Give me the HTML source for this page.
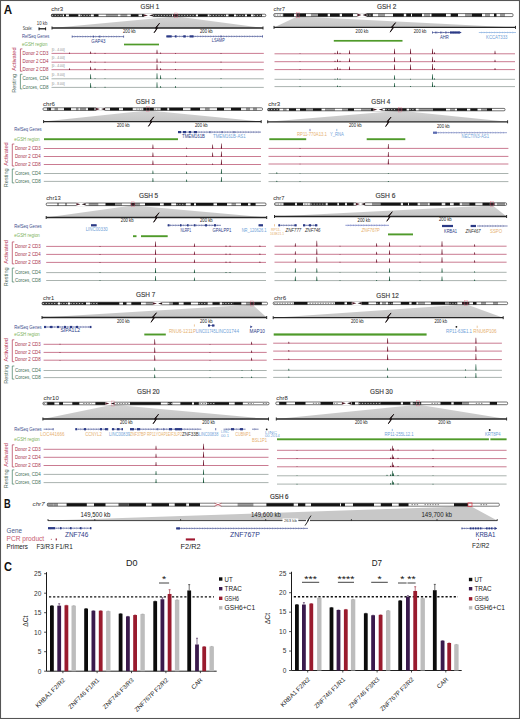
<!DOCTYPE html>
<html><head><meta charset="utf-8"><style>
html,body{margin:0;padding:0;background:#fff;}
svg{display:block;}
</style></head><body>
<svg width="520" height="719" viewBox="0 0 520 719" font-family='"Liberation Sans", sans-serif'>
<rect x="0.00" y="0.00" width="520.00" height="719.00" fill="#fff"/>
<text x="140.60" y="9.10" font-size="7.4" fill="#3a3a3a" textLength="18.70" lengthAdjust="spacingAndGlyphs" stroke="#3a3a3a" stroke-width="0.16">GSH 1</text>
<text x="51.20" y="11.20" font-size="5.6" fill="#2a2a2a" textLength="11.90" lengthAdjust="spacingAndGlyphs">chr3</text>
<linearGradient id="tg1" gradientUnits="userSpaceOnUse" x1="0" y1="16.60" x2="0" y2="28.00"><stop offset="0" stop-color="#d4d4d4"/><stop offset="1" stop-color="#c4c4c4"/></linearGradient>
<polygon points="52.00,28.00 175.20,16.60 176.80,16.60 263.00,28.00" fill="url(#tg1)"/>
<rect x="51.40" y="14.20" width="214.40" height="2.40" fill="#fff" rx="1"/>
<rect x="51.40" y="14.20" width="11.40" height="2.40" fill="#2e2e2e"/>
<line x1="51.90" y1="15.40" x2="62.30" y2="15.40" stroke="#e8e8e8" stroke-width="0.8" stroke-dasharray="1.2,1.6"/>
<rect x="64.00" y="14.20" width="2.00" height="2.40" fill="#151515"/>
<rect x="68.90" y="14.20" width="9.40" height="2.40" fill="#151515"/>
<rect x="80.30" y="14.20" width="10.70" height="2.40" fill="#2e2e2e"/>
<line x1="80.80" y1="15.40" x2="90.50" y2="15.40" stroke="#e8e8e8" stroke-width="0.8" stroke-dasharray="1.2,1.6"/>
<rect x="93.80" y="14.20" width="4.70" height="2.40" fill="#151515"/>
<rect x="105.90" y="14.20" width="12.10" height="2.40" fill="#9a9a9a"/>
<rect x="120.40" y="14.20" width="6.90" height="2.40" fill="#9a9a9a"/>
<rect x="130.80" y="14.20" width="7.70" height="2.40" fill="#151515"/>
<rect x="142.00" y="14.20" width="2.60" height="2.40" fill="#151515"/>
<rect x="152.00" y="14.20" width="20.00" height="2.40" fill="#2e2e2e"/>
<line x1="152.50" y1="15.40" x2="171.50" y2="15.40" stroke="#e8e8e8" stroke-width="0.8" stroke-dasharray="1.2,1.6"/>
<rect x="173.00" y="14.20" width="5.00" height="2.40" fill="#3a2028"/>
<rect x="178.00" y="14.20" width="18.00" height="2.40" fill="#2e2e2e"/>
<line x1="178.50" y1="15.40" x2="195.50" y2="15.40" stroke="#e8e8e8" stroke-width="0.8" stroke-dasharray="1.2,1.6"/>
<rect x="198.00" y="14.20" width="9.70" height="2.40" fill="#151515"/>
<rect x="209.50" y="14.20" width="16.50" height="2.40" fill="#2e2e2e"/>
<line x1="210.00" y1="15.40" x2="225.50" y2="15.40" stroke="#e8e8e8" stroke-width="0.8" stroke-dasharray="1.2,1.6"/>
<rect x="228.50" y="14.20" width="5.50" height="2.40" fill="#151515"/>
<rect x="236.00" y="14.20" width="9.00" height="2.40" fill="#2e2e2e"/>
<line x1="236.50" y1="15.40" x2="244.50" y2="15.40" stroke="#e8e8e8" stroke-width="0.8" stroke-dasharray="1.2,1.6"/>
<rect x="247.00" y="14.20" width="4.00" height="2.40" fill="#151515"/>
<rect x="253.50" y="14.20" width="8.50" height="2.40" fill="#2e2e2e"/>
<line x1="254.00" y1="15.40" x2="261.50" y2="15.40" stroke="#e8e8e8" stroke-width="0.8" stroke-dasharray="1.2,1.6"/>
<rect x="51.40" y="14.20" width="214.40" height="2.40" fill="none" stroke="#111" stroke-width="0.6" rx="1"/>
<rect x="143.90" y="13.80" width="9.20" height="3.20" fill="#fff"/>
<polygon points="143.90,14.20 147.90,15.40 143.90,16.60" fill="#52202c"/>
<polygon points="153.10,14.20 149.10,15.40 153.10,16.60" fill="#2a1a1e"/>
<rect x="174.40" y="13.00" width="3.2" height="4.80" fill="none" stroke="#e8607a" stroke-width="0.4" opacity="0.7"/>
<line x1="52.00" y1="28.00" x2="263.00" y2="28.00" stroke="#262626" stroke-width="1.3"/>
<line x1="52.00" y1="26.50" x2="52.00" y2="29.50" stroke="#2a2a2a" stroke-width="1.0"/>
<line x1="263.00" y1="26.50" x2="263.00" y2="29.50" stroke="#2a2a2a" stroke-width="1.0"/>
<polygon points="159.56,23.24 155.74,28.43 157.35,28.43 154.12,32.76 157.26,27.57 155.65,27.57" fill="#1a1012" stroke="#1a1012" stroke-width="0.85" stroke-linejoin="round"/>
<text x="123.00" y="33.33" font-size="4.8" fill="#1a1a1a" textLength="12.70" lengthAdjust="spacingAndGlyphs">200 kb</text>
<text x="200.00" y="33.13" font-size="4.8" fill="#1a1a1a" textLength="12.70" lengthAdjust="spacingAndGlyphs">200 kb</text>
<line x1="72.20" y1="36.60" x2="123.60" y2="36.60" stroke="#2b3a86" stroke-width="0.6"/>
<polyline points="74.60,35.80 75.50,36.60 74.60,37.40" fill="none" stroke="#2b3a86" stroke-width="0.35" opacity="0.85"/>
<polyline points="77.20,35.80 78.10,36.60 77.20,37.40" fill="none" stroke="#2b3a86" stroke-width="0.35" opacity="0.85"/>
<polyline points="79.80,35.80 80.70,36.60 79.80,37.40" fill="none" stroke="#2b3a86" stroke-width="0.35" opacity="0.85"/>
<polyline points="82.40,35.80 83.30,36.60 82.40,37.40" fill="none" stroke="#2b3a86" stroke-width="0.35" opacity="0.85"/>
<polyline points="85.00,35.80 85.90,36.60 85.00,37.40" fill="none" stroke="#2b3a86" stroke-width="0.35" opacity="0.85"/>
<polyline points="87.60,35.80 88.50,36.60 87.60,37.40" fill="none" stroke="#2b3a86" stroke-width="0.35" opacity="0.85"/>
<polyline points="90.20,35.80 91.10,36.60 90.20,37.40" fill="none" stroke="#2b3a86" stroke-width="0.35" opacity="0.85"/>
<polyline points="92.80,35.80 93.70,36.60 92.80,37.40" fill="none" stroke="#2b3a86" stroke-width="0.35" opacity="0.85"/>
<polyline points="95.40,35.80 96.30,36.60 95.40,37.40" fill="none" stroke="#2b3a86" stroke-width="0.35" opacity="0.85"/>
<polyline points="98.00,35.80 98.90,36.60 98.00,37.40" fill="none" stroke="#2b3a86" stroke-width="0.35" opacity="0.85"/>
<polyline points="100.60,35.80 101.50,36.60 100.60,37.40" fill="none" stroke="#2b3a86" stroke-width="0.35" opacity="0.85"/>
<polyline points="103.20,35.80 104.10,36.60 103.20,37.40" fill="none" stroke="#2b3a86" stroke-width="0.35" opacity="0.85"/>
<polyline points="105.80,35.80 106.70,36.60 105.80,37.40" fill="none" stroke="#2b3a86" stroke-width="0.35" opacity="0.85"/>
<polyline points="108.40,35.80 109.30,36.60 108.40,37.40" fill="none" stroke="#2b3a86" stroke-width="0.35" opacity="0.85"/>
<polyline points="111.00,35.80 111.90,36.60 111.00,37.40" fill="none" stroke="#2b3a86" stroke-width="0.35" opacity="0.85"/>
<polyline points="113.60,35.80 114.50,36.60 113.60,37.40" fill="none" stroke="#2b3a86" stroke-width="0.35" opacity="0.85"/>
<polyline points="116.20,35.80 117.10,36.60 116.20,37.40" fill="none" stroke="#2b3a86" stroke-width="0.35" opacity="0.85"/>
<polyline points="118.80,35.80 119.70,36.60 118.80,37.40" fill="none" stroke="#2b3a86" stroke-width="0.35" opacity="0.85"/>
<line x1="72.20" y1="35.50" x2="72.20" y2="37.70" stroke="#2b3a86" stroke-width="0.7"/>
<line x1="93.40" y1="35.50" x2="93.40" y2="37.70" stroke="#2b3a86" stroke-width="0.7"/>
<line x1="99.70" y1="35.50" x2="99.70" y2="37.70" stroke="#2b3a86" stroke-width="0.7"/>
<line x1="123.60" y1="35.50" x2="123.60" y2="37.70" stroke="#2b3a86" stroke-width="0.7"/>
<text x="91.30" y="42.56" font-size="4.6" fill="#2b3a86" textLength="14.10" lengthAdjust="spacingAndGlyphs">GAP43</text>
<line x1="166.40" y1="36.40" x2="262.50" y2="36.40" stroke="#2b3a86" stroke-width="0.6"/>
<polyline points="168.80,35.60 169.70,36.40 168.80,37.20" fill="none" stroke="#2b3a86" stroke-width="0.35" opacity="0.85"/>
<polyline points="171.40,35.60 172.30,36.40 171.40,37.20" fill="none" stroke="#2b3a86" stroke-width="0.35" opacity="0.85"/>
<polyline points="174.00,35.60 174.90,36.40 174.00,37.20" fill="none" stroke="#2b3a86" stroke-width="0.35" opacity="0.85"/>
<polyline points="176.60,35.60 177.50,36.40 176.60,37.20" fill="none" stroke="#2b3a86" stroke-width="0.35" opacity="0.85"/>
<polyline points="179.20,35.60 180.10,36.40 179.20,37.20" fill="none" stroke="#2b3a86" stroke-width="0.35" opacity="0.85"/>
<polyline points="181.80,35.60 182.70,36.40 181.80,37.20" fill="none" stroke="#2b3a86" stroke-width="0.35" opacity="0.85"/>
<polyline points="184.40,35.60 185.30,36.40 184.40,37.20" fill="none" stroke="#2b3a86" stroke-width="0.35" opacity="0.85"/>
<polyline points="187.00,35.60 187.90,36.40 187.00,37.20" fill="none" stroke="#2b3a86" stroke-width="0.35" opacity="0.85"/>
<polyline points="189.60,35.60 190.50,36.40 189.60,37.20" fill="none" stroke="#2b3a86" stroke-width="0.35" opacity="0.85"/>
<polyline points="192.20,35.60 193.10,36.40 192.20,37.20" fill="none" stroke="#2b3a86" stroke-width="0.35" opacity="0.85"/>
<polyline points="194.80,35.60 195.70,36.40 194.80,37.20" fill="none" stroke="#2b3a86" stroke-width="0.35" opacity="0.85"/>
<polyline points="197.40,35.60 198.30,36.40 197.40,37.20" fill="none" stroke="#2b3a86" stroke-width="0.35" opacity="0.85"/>
<polyline points="200.00,35.60 200.90,36.40 200.00,37.20" fill="none" stroke="#2b3a86" stroke-width="0.35" opacity="0.85"/>
<polyline points="202.60,35.60 203.50,36.40 202.60,37.20" fill="none" stroke="#2b3a86" stroke-width="0.35" opacity="0.85"/>
<polyline points="205.20,35.60 206.10,36.40 205.20,37.20" fill="none" stroke="#2b3a86" stroke-width="0.35" opacity="0.85"/>
<polyline points="207.80,35.60 208.70,36.40 207.80,37.20" fill="none" stroke="#2b3a86" stroke-width="0.35" opacity="0.85"/>
<polyline points="210.40,35.60 211.30,36.40 210.40,37.20" fill="none" stroke="#2b3a86" stroke-width="0.35" opacity="0.85"/>
<polyline points="213.00,35.60 213.90,36.40 213.00,37.20" fill="none" stroke="#2b3a86" stroke-width="0.35" opacity="0.85"/>
<polyline points="215.60,35.60 216.50,36.40 215.60,37.20" fill="none" stroke="#2b3a86" stroke-width="0.35" opacity="0.85"/>
<polyline points="218.20,35.60 219.10,36.40 218.20,37.20" fill="none" stroke="#2b3a86" stroke-width="0.35" opacity="0.85"/>
<polyline points="220.80,35.60 221.70,36.40 220.80,37.20" fill="none" stroke="#2b3a86" stroke-width="0.35" opacity="0.85"/>
<polyline points="223.40,35.60 224.30,36.40 223.40,37.20" fill="none" stroke="#2b3a86" stroke-width="0.35" opacity="0.85"/>
<polyline points="226.00,35.60 226.90,36.40 226.00,37.20" fill="none" stroke="#2b3a86" stroke-width="0.35" opacity="0.85"/>
<polyline points="228.60,35.60 229.50,36.40 228.60,37.20" fill="none" stroke="#2b3a86" stroke-width="0.35" opacity="0.85"/>
<polyline points="231.20,35.60 232.10,36.40 231.20,37.20" fill="none" stroke="#2b3a86" stroke-width="0.35" opacity="0.85"/>
<polyline points="233.80,35.60 234.70,36.40 233.80,37.20" fill="none" stroke="#2b3a86" stroke-width="0.35" opacity="0.85"/>
<polyline points="236.40,35.60 237.30,36.40 236.40,37.20" fill="none" stroke="#2b3a86" stroke-width="0.35" opacity="0.85"/>
<polyline points="239.00,35.60 239.90,36.40 239.00,37.20" fill="none" stroke="#2b3a86" stroke-width="0.35" opacity="0.85"/>
<polyline points="241.60,35.60 242.50,36.40 241.60,37.20" fill="none" stroke="#2b3a86" stroke-width="0.35" opacity="0.85"/>
<polyline points="244.20,35.60 245.10,36.40 244.20,37.20" fill="none" stroke="#2b3a86" stroke-width="0.35" opacity="0.85"/>
<polyline points="246.80,35.60 247.70,36.40 246.80,37.20" fill="none" stroke="#2b3a86" stroke-width="0.35" opacity="0.85"/>
<polyline points="249.40,35.60 250.30,36.40 249.40,37.20" fill="none" stroke="#2b3a86" stroke-width="0.35" opacity="0.85"/>
<polyline points="252.00,35.60 252.90,36.40 252.00,37.20" fill="none" stroke="#2b3a86" stroke-width="0.35" opacity="0.85"/>
<polyline points="254.60,35.60 255.50,36.40 254.60,37.20" fill="none" stroke="#2b3a86" stroke-width="0.35" opacity="0.85"/>
<polyline points="257.20,35.60 258.10,36.40 257.20,37.20" fill="none" stroke="#2b3a86" stroke-width="0.35" opacity="0.85"/>
<polyline points="259.80,35.60 260.70,36.40 259.80,37.20" fill="none" stroke="#2b3a86" stroke-width="0.35" opacity="0.85"/>
<rect x="166.40" y="35.30" width="5.20" height="2.20" fill="#2b3a86"/>
<rect x="175.00" y="35.30" width="1.50" height="2.20" fill="#2b3a86"/>
<rect x="183.20" y="35.30" width="2.60" height="2.20" fill="#2b3a86"/>
<rect x="189.70" y="35.30" width="3.90" height="2.20" fill="#2b3a86"/>
<line x1="221.00" y1="35.30" x2="221.00" y2="37.50" stroke="#2b3a86" stroke-width="0.7"/>
<line x1="262.50" y1="35.30" x2="262.50" y2="37.50" stroke="#2b3a86" stroke-width="0.7"/>
<text x="211.80" y="42.16" font-size="4.6" fill="#2b3a86" textLength="13.00" lengthAdjust="spacingAndGlyphs">LSAMP</text>
<text x="36.80" y="24.74" font-size="5.4" fill="#333" textLength="10.50" lengthAdjust="spacingAndGlyphs">10 kb</text>
<rect x="38.80" y="28.20" width="7.00" height="1.20" fill="#111"/>
<rect x="38.60" y="27.30" width="0.90" height="3.00" fill="#111"/>
<rect x="45.20" y="27.30" width="0.90" height="3.00" fill="#111"/>
<rect x="124.00" y="43.65" width="35.00" height="1.70" fill="#4f9a2a"/>
<line x1="51.50" y1="53.40" x2="263.80" y2="53.40" stroke="#c46c84" stroke-width="0.9"/>
<line x1="51.50" y1="62.20" x2="263.80" y2="62.20" stroke="#c46c84" stroke-width="0.9"/>
<line x1="51.50" y1="69.70" x2="263.80" y2="69.70" stroke="#c46c84" stroke-width="0.9"/>
<line x1="51.50" y1="78.80" x2="263.80" y2="78.80" stroke="#a0aaa6" stroke-width="0.9"/>
<line x1="51.50" y1="87.40" x2="263.80" y2="87.40" stroke="#a0aaa6" stroke-width="0.9"/>
<polygon points="68.95,53.70 69.25,52.40 69.75,52.40 70.15,53.70" fill="#6e1a30"/>
<polygon points="68.95,70.00 69.25,68.20 69.75,68.20 70.15,70.00" fill="#6e1a30"/>
<polygon points="90.05,53.70 90.35,51.40 90.85,51.40 91.25,53.70" fill="#6e1a30"/>
<polygon points="90.05,62.50 90.35,60.70 90.85,60.70 91.25,62.50" fill="#6e1a30"/>
<polygon points="90.05,70.00 90.35,66.70 90.85,66.70 91.25,70.00" fill="#6e1a30"/>
<polygon points="90.05,79.10 90.35,74.30 90.85,74.30 91.25,79.10" fill="#1d5a3e"/>
<polygon points="90.05,87.70 90.35,82.90 90.85,82.90 91.25,87.70" fill="#1d5a3e"/>
<polygon points="94.45,53.70 94.75,52.80 95.25,52.80 95.65,53.70" fill="#6e1a30"/>
<polygon points="94.45,62.50 94.75,61.70 95.25,61.70 95.65,62.50" fill="#6e1a30"/>
<polygon points="94.45,70.00 94.75,68.20 95.25,68.20 95.65,70.00" fill="#6e1a30"/>
<polygon points="94.45,79.10 94.75,78.30 95.25,78.30 95.65,79.10" fill="#1d5a3e"/>
<polygon points="94.45,87.70 94.75,86.90 95.25,86.90 95.65,87.70" fill="#1d5a3e"/>
<polygon points="104.45,53.70 104.75,53.00 105.25,53.00 105.65,53.70" fill="#6e1a30"/>
<polygon points="104.45,62.50 104.75,61.80 105.25,61.80 105.65,62.50" fill="#6e1a30"/>
<polygon points="104.45,70.00 104.75,69.30 105.25,69.30 105.65,70.00" fill="#6e1a30"/>
<polygon points="104.45,79.10 104.75,78.40 105.25,78.40 105.65,79.10" fill="#1d5a3e"/>
<polygon points="104.45,87.70 104.75,86.80 105.25,86.80 105.65,87.70" fill="#1d5a3e"/>
<polygon points="156.45,53.70 156.75,49.70 157.25,49.70 157.65,53.70" fill="#6e1a30"/>
<polygon points="156.45,62.50 156.75,58.40 157.25,58.40 157.65,62.50" fill="#6e1a30"/>
<polygon points="156.45,70.00 156.75,64.30 157.25,64.30 157.65,70.00" fill="#6e1a30"/>
<polygon points="156.45,79.10 156.75,73.30 157.25,73.30 157.65,79.10" fill="#1d5a3e"/>
<polygon points="156.45,87.70 156.75,82.20 157.25,82.20 157.65,87.70" fill="#1d5a3e"/>
<polygon points="160.05,53.70 160.35,52.40 160.85,52.40 161.25,53.70" fill="#6e1a30"/>
<polygon points="160.05,62.50 160.35,61.40 160.85,61.40 161.25,62.50" fill="#6e1a30"/>
<polygon points="160.05,70.00 160.35,68.20 160.85,68.20 161.25,70.00" fill="#6e1a30"/>
<polygon points="160.05,79.10 160.35,75.30 160.85,75.30 161.25,79.10" fill="#1d5a3e"/>
<polygon points="160.05,87.70 160.35,85.90 160.85,85.90 161.25,87.70" fill="#1d5a3e"/>
<polygon points="174.95,53.70 175.25,52.90 175.75,52.90 176.15,53.70" fill="#6e1a30"/>
<polygon points="174.95,62.50 175.25,61.70 175.75,61.70 176.15,62.50" fill="#6e1a30"/>
<polygon points="174.95,70.00 175.25,69.10 175.75,69.10 176.15,70.00" fill="#6e1a30"/>
<polygon points="174.95,79.10 175.25,77.80 175.75,77.80 176.15,79.10" fill="#1d5a3e"/>
<polygon points="174.95,87.70 175.25,85.90 175.75,85.90 176.15,87.70" fill="#1d5a3e"/>
<polygon points="220.45,53.70 220.75,53.00 221.25,53.00 221.65,53.70" fill="#6e1a30"/>
<polygon points="220.45,62.50 220.75,61.60 221.25,61.60 221.65,62.50" fill="#6e1a30"/>
<polygon points="220.45,70.00 220.75,69.30 221.25,69.30 221.65,70.00" fill="#6e1a30"/>
<polygon points="220.45,79.10 220.75,78.30 221.25,78.30 221.65,79.10" fill="#1d5a3e"/>
<polygon points="220.45,87.70 220.75,86.90 221.25,86.90 221.65,87.70" fill="#1d5a3e"/>
<text x="22.70" y="30.20" font-size="5" fill="#333" textLength="9.60" lengthAdjust="spacingAndGlyphs">Scale:</text>
<text x="22.00" y="38.00" font-size="5" fill="#3b4a8c" textLength="27.30" lengthAdjust="spacingAndGlyphs">RefSeq Genes</text>
<text x="22.00" y="46.10" font-size="5" fill="#7cb25a" textLength="25.50" lengthAdjust="spacingAndGlyphs">eGSH region</text>
<text x="22.60" y="54.60" font-size="5" fill="#a8304c" textLength="25.90" lengthAdjust="spacingAndGlyphs">Donor 2 CD3</text>
<text x="22.60" y="63.40" font-size="5" fill="#a8304c" textLength="25.90" lengthAdjust="spacingAndGlyphs">Donor 2 CD4</text>
<text x="22.60" y="70.90" font-size="5" fill="#a8304c" textLength="25.90" lengthAdjust="spacingAndGlyphs">Donor 2 CD8</text>
<text x="22.60" y="80.00" font-size="5" fill="#3f6f58" textLength="25.90" lengthAdjust="spacingAndGlyphs">Corces, CD4</text>
<text x="22.60" y="88.60" font-size="5" fill="#3f6f58" textLength="25.90" lengthAdjust="spacingAndGlyphs">Corces, CD8</text>
<polyline points="22.40,48.90 20.40,48.90 20.40,71.20 22.40,71.20" fill="none" stroke="#b03552" stroke-width="0.7"/>
<polyline points="22.40,74.30 20.40,74.30 20.40,88.90 22.40,88.90" fill="none" stroke="#3f7a5e" stroke-width="0.7"/>
<text transform="translate(15.80,59.05) rotate(-90)" text-anchor="middle" font-size="6.2" fill="#b8405c" textLength="23.5" lengthAdjust="spacingAndGlyphs">Activated</text>
<text transform="translate(15.80,83.40) rotate(-90)" text-anchor="middle" font-size="6.2" fill="#4a6a5a" textLength="18.8" lengthAdjust="spacingAndGlyphs">Resting</text>
<text x="51.70" y="50.68" font-size="3.0" fill="#8a8a8a" textLength="13.00" lengthAdjust="spacingAndGlyphs">[0 - 4.00]</text>
<text x="51.70" y="59.48" font-size="3.0" fill="#8a8a8a" textLength="13.00" lengthAdjust="spacingAndGlyphs">[0 - 4.00]</text>
<text x="51.70" y="66.98" font-size="3.0" fill="#8a8a8a" textLength="13.00" lengthAdjust="spacingAndGlyphs">[0 - 4.00]</text>
<text x="51.70" y="76.08" font-size="3.0" fill="#8a8a8a" textLength="13.00" lengthAdjust="spacingAndGlyphs">[0 - 8.00]</text>
<text x="51.70" y="84.68" font-size="3.0" fill="#8a8a8a" textLength="13.00" lengthAdjust="spacingAndGlyphs">[0 - 8.00]</text>
<text x="377.10" y="9.10" font-size="7.4" fill="#3a3a3a" textLength="19.20" lengthAdjust="spacingAndGlyphs" stroke="#3a3a3a" stroke-width="0.16">GSH 2</text>
<text x="273.50" y="10.80" font-size="5.6" fill="#2a2a2a" textLength="11.50" lengthAdjust="spacingAndGlyphs">chr7</text>
<linearGradient id="tg2" gradientUnits="userSpaceOnUse" x1="0" y1="16.60" x2="0" y2="27.40"><stop offset="0" stop-color="#d4d4d4"/><stop offset="1" stop-color="#c4c4c4"/></linearGradient>
<polygon points="274.00,27.40 297.20,16.60 298.80,16.60 515.50,27.40" fill="url(#tg2)"/>
<rect x="273.80" y="13.60" width="239.20" height="3.00" fill="#fff" rx="1"/>
<rect x="273.80" y="13.60" width="9.40" height="3.00" fill="#ffffff"/>
<line x1="274.30" y1="15.10" x2="282.70" y2="15.10" stroke="#777" stroke-width="0.9" stroke-dasharray="1.4,1.2"/>
<rect x="283.20" y="13.60" width="10.80" height="3.00" fill="#151515"/>
<rect x="296.40" y="13.60" width="2.40" height="3.00" fill="#3a2028"/>
<rect x="298.80" y="13.60" width="7.20" height="3.00" fill="#151515"/>
<rect x="310.90" y="13.60" width="7.10" height="3.00" fill="#9a9a9a"/>
<rect x="318.00" y="13.60" width="9.70" height="3.00" fill="#151515"/>
<rect x="330.00" y="13.60" width="9.70" height="3.00" fill="#151515"/>
<rect x="342.00" y="13.60" width="11.00" height="3.00" fill="#151515"/>
<rect x="366.00" y="13.60" width="7.00" height="3.00" fill="#2e2e2e"/>
<line x1="366.50" y1="15.10" x2="372.50" y2="15.10" stroke="#e8e8e8" stroke-width="0.8" stroke-dasharray="1.2,1.6"/>
<rect x="378.00" y="13.60" width="7.00" height="3.00" fill="#9a9a9a"/>
<rect x="393.00" y="13.60" width="10.80" height="3.00" fill="#151515"/>
<rect x="406.20" y="13.60" width="4.80" height="3.00" fill="#151515"/>
<rect x="412.00" y="13.60" width="10.00" height="3.00" fill="#151515"/>
<rect x="424.00" y="13.60" width="6.00" height="3.00" fill="#9a9a9a"/>
<rect x="431.50" y="13.60" width="14.50" height="3.00" fill="#151515"/>
<rect x="450.70" y="13.60" width="7.30" height="3.00" fill="#151515"/>
<rect x="465.00" y="13.60" width="7.00" height="3.00" fill="#9a9a9a"/>
<rect x="472.00" y="13.60" width="10.00" height="3.00" fill="#151515"/>
<rect x="485.00" y="13.60" width="5.00" height="3.00" fill="#9a9a9a"/>
<rect x="494.00" y="13.60" width="2.50" height="3.00" fill="#151515"/>
<rect x="500.00" y="13.60" width="5.00" height="3.00" fill="#9a9a9a"/>
<rect x="273.80" y="13.60" width="239.20" height="3.00" fill="none" stroke="#111" stroke-width="0.6" rx="1"/>
<rect x="357.40" y="13.20" width="9.20" height="3.80" fill="#fff"/>
<polygon points="357.40,13.60 361.40,15.10 357.40,16.60" fill="#52202c"/>
<polygon points="366.60,13.60 362.60,15.10 366.60,16.60" fill="#2a1a1e"/>
<rect x="296.40" y="12.40" width="3.2" height="5.40" fill="none" stroke="#e8607a" stroke-width="0.4" opacity="0.7"/>
<line x1="274.00" y1="27.40" x2="515.50" y2="27.40" stroke="#262626" stroke-width="1.3"/>
<line x1="274.00" y1="25.90" x2="274.00" y2="28.90" stroke="#2a2a2a" stroke-width="1.0"/>
<line x1="515.50" y1="25.90" x2="515.50" y2="28.90" stroke="#2a2a2a" stroke-width="1.0"/>
<polygon points="395.56,22.64 391.74,27.82 393.35,27.82 390.12,32.16 393.26,26.97 391.65,26.97" fill="#1a1012" stroke="#1a1012" stroke-width="0.85" stroke-linejoin="round"/>
<text x="355.60" y="32.73" font-size="4.8" fill="#1a1a1a" textLength="12.70" lengthAdjust="spacingAndGlyphs">200 kb</text>
<text x="413.70" y="32.93" font-size="4.8" fill="#1a1a1a" textLength="12.70" lengthAdjust="spacingAndGlyphs">200 kb</text>
<line x1="432.50" y1="32.50" x2="461.30" y2="32.50" stroke="#2b3a86" stroke-width="0.6"/>
<polyline points="434.90,31.70 435.80,32.50 434.90,33.30" fill="none" stroke="#2b3a86" stroke-width="0.35" opacity="0.85"/>
<polyline points="437.50,31.70 438.40,32.50 437.50,33.30" fill="none" stroke="#2b3a86" stroke-width="0.35" opacity="0.85"/>
<polyline points="440.10,31.70 441.00,32.50 440.10,33.30" fill="none" stroke="#2b3a86" stroke-width="0.35" opacity="0.85"/>
<polyline points="442.70,31.70 443.60,32.50 442.70,33.30" fill="none" stroke="#2b3a86" stroke-width="0.35" opacity="0.85"/>
<polyline points="445.30,31.70 446.20,32.50 445.30,33.30" fill="none" stroke="#2b3a86" stroke-width="0.35" opacity="0.85"/>
<polyline points="447.90,31.70 448.80,32.50 447.90,33.30" fill="none" stroke="#2b3a86" stroke-width="0.35" opacity="0.85"/>
<polyline points="450.50,31.70 451.40,32.50 450.50,33.30" fill="none" stroke="#2b3a86" stroke-width="0.35" opacity="0.85"/>
<polyline points="453.10,31.70 454.00,32.50 453.10,33.30" fill="none" stroke="#2b3a86" stroke-width="0.35" opacity="0.85"/>
<polyline points="455.70,31.70 456.60,32.50 455.70,33.30" fill="none" stroke="#2b3a86" stroke-width="0.35" opacity="0.85"/>
<polyline points="458.30,31.70 459.20,32.50 458.30,33.30" fill="none" stroke="#2b3a86" stroke-width="0.35" opacity="0.85"/>
<rect x="450.00" y="31.40" width="9.00" height="2.20" fill="#2b3a86"/>
<line x1="432.50" y1="31.40" x2="432.50" y2="33.60" stroke="#2b3a86" stroke-width="0.7"/>
<line x1="436.00" y1="31.40" x2="436.00" y2="33.60" stroke="#2b3a86" stroke-width="0.7"/>
<line x1="441.00" y1="31.40" x2="441.00" y2="33.60" stroke="#2b3a86" stroke-width="0.7"/>
<line x1="446.00" y1="31.40" x2="446.00" y2="33.60" stroke="#2b3a86" stroke-width="0.7"/>
<polygon points="459.10,31.10 461.30,32.50 459.10,33.90" fill="#2b3a86"/>
<text x="440.00" y="38.66" font-size="4.6" fill="#2b3a86" textLength="8.80" lengthAdjust="spacingAndGlyphs">AHR</text>
<line x1="478.80" y1="32.50" x2="516.00" y2="32.50" stroke="#6f9fd8" stroke-width="0.6"/>
<polyline points="481.20,31.70 482.10,32.50 481.20,33.30" fill="none" stroke="#6f9fd8" stroke-width="0.35" opacity="0.85"/>
<polyline points="483.80,31.70 484.70,32.50 483.80,33.30" fill="none" stroke="#6f9fd8" stroke-width="0.35" opacity="0.85"/>
<polyline points="486.40,31.70 487.30,32.50 486.40,33.30" fill="none" stroke="#6f9fd8" stroke-width="0.35" opacity="0.85"/>
<polyline points="489.00,31.70 489.90,32.50 489.00,33.30" fill="none" stroke="#6f9fd8" stroke-width="0.35" opacity="0.85"/>
<polyline points="491.60,31.70 492.50,32.50 491.60,33.30" fill="none" stroke="#6f9fd8" stroke-width="0.35" opacity="0.85"/>
<polyline points="494.20,31.70 495.10,32.50 494.20,33.30" fill="none" stroke="#6f9fd8" stroke-width="0.35" opacity="0.85"/>
<polyline points="496.80,31.70 497.70,32.50 496.80,33.30" fill="none" stroke="#6f9fd8" stroke-width="0.35" opacity="0.85"/>
<polyline points="499.40,31.70 500.30,32.50 499.40,33.30" fill="none" stroke="#6f9fd8" stroke-width="0.35" opacity="0.85"/>
<polyline points="502.00,31.70 502.90,32.50 502.00,33.30" fill="none" stroke="#6f9fd8" stroke-width="0.35" opacity="0.85"/>
<polyline points="504.60,31.70 505.50,32.50 504.60,33.30" fill="none" stroke="#6f9fd8" stroke-width="0.35" opacity="0.85"/>
<polyline points="507.20,31.70 508.10,32.50 507.20,33.30" fill="none" stroke="#6f9fd8" stroke-width="0.35" opacity="0.85"/>
<polyline points="509.80,31.70 510.70,32.50 509.80,33.30" fill="none" stroke="#6f9fd8" stroke-width="0.35" opacity="0.85"/>
<polyline points="512.40,31.70 513.30,32.50 512.40,33.30" fill="none" stroke="#6f9fd8" stroke-width="0.35" opacity="0.85"/>
<text x="486.00" y="39.16" font-size="4.6" fill="#6f9fd8" textLength="21.50" lengthAdjust="spacingAndGlyphs">KCCAT333</text>
<rect x="333.80" y="39.95" width="68.70" height="1.70" fill="#4f9a2a"/>
<line x1="274.50" y1="53.80" x2="515.00" y2="53.80" stroke="#c46c84" stroke-width="0.9"/>
<line x1="274.50" y1="61.70" x2="515.00" y2="61.70" stroke="#c46c84" stroke-width="0.9"/>
<line x1="274.50" y1="69.60" x2="515.00" y2="69.60" stroke="#c46c84" stroke-width="0.9"/>
<line x1="274.50" y1="79.30" x2="515.00" y2="79.30" stroke="#a0aaa6" stroke-width="0.9"/>
<line x1="274.50" y1="86.60" x2="515.00" y2="86.60" stroke="#a0aaa6" stroke-width="0.9"/>
<polygon points="334.45,54.10 334.75,52.80 335.25,52.80 335.65,54.10" fill="#6e1a30"/>
<polygon points="334.45,62.00 334.75,60.70 335.25,60.70 335.65,62.00" fill="#6e1a30"/>
<polygon points="334.45,69.90 334.75,68.60 335.25,68.60 335.65,69.90" fill="#6e1a30"/>
<polygon points="334.45,79.60 334.75,78.80 335.25,78.80 335.65,79.60" fill="#1d5a3e"/>
<polygon points="336.95,54.10 337.25,50.80 337.75,50.80 338.15,54.10" fill="#6e1a30"/>
<polygon points="336.95,62.00 337.25,59.20 337.75,59.20 338.15,62.00" fill="#6e1a30"/>
<polygon points="336.95,69.90 337.25,67.10 337.75,67.10 338.15,69.90" fill="#6e1a30"/>
<polygon points="336.95,79.60 337.25,78.30 337.75,78.30 338.15,79.60" fill="#1d5a3e"/>
<polygon points="336.95,86.90 337.25,85.60 337.75,85.60 338.15,86.90" fill="#1d5a3e"/>
<polygon points="339.45,54.10 339.75,52.80 340.25,52.80 340.65,54.10" fill="#6e1a30"/>
<polygon points="339.45,62.00 339.75,60.70 340.25,60.70 340.65,62.00" fill="#6e1a30"/>
<polygon points="339.45,69.90 339.75,68.60 340.25,68.60 340.65,69.90" fill="#6e1a30"/>
<polygon points="339.45,79.60 339.75,78.80 340.25,78.80 340.65,79.60" fill="#1d5a3e"/>
<polygon points="339.45,86.90 339.75,86.10 340.25,86.10 340.65,86.90" fill="#1d5a3e"/>
<polygon points="348.95,54.10 349.25,50.30 349.75,50.30 350.15,54.10" fill="#6e1a30"/>
<polygon points="348.95,62.00 349.25,58.20 349.75,58.20 350.15,62.00" fill="#6e1a30"/>
<polygon points="348.95,69.90 349.25,66.60 349.75,66.60 350.15,69.90" fill="#6e1a30"/>
<polygon points="393.95,54.10 394.25,48.80 394.75,48.80 395.15,54.10" fill="#6e1a30"/>
<polygon points="393.95,62.00 394.25,57.20 394.75,57.20 395.15,62.00" fill="#6e1a30"/>
<polygon points="393.95,69.90 394.25,64.60 394.75,64.60 395.15,69.90" fill="#6e1a30"/>
<polygon points="393.95,79.60 394.25,75.30 394.75,75.30 395.15,79.60" fill="#1d5a3e"/>
<polygon points="393.95,86.90 394.25,83.10 394.75,83.10 395.15,86.90" fill="#1d5a3e"/>
<polygon points="409.95,54.10 410.25,48.80 410.75,48.80 411.15,54.10" fill="#6e1a30"/>
<polygon points="409.95,62.00 410.25,57.20 410.75,57.20 411.15,62.00" fill="#6e1a30"/>
<polygon points="409.95,69.90 410.25,64.60 410.75,64.60 411.15,69.90" fill="#6e1a30"/>
<polygon points="409.95,79.60 410.25,78.80 410.75,78.80 411.15,79.60" fill="#1d5a3e"/>
<polygon points="409.95,86.90 410.25,86.10 410.75,86.10 411.15,86.90" fill="#1d5a3e"/>
<polygon points="431.95,54.10 432.25,48.80 432.75,48.80 433.15,54.10" fill="#6e1a30"/>
<polygon points="431.95,62.00 432.25,56.70 432.75,56.70 433.15,62.00" fill="#6e1a30"/>
<polygon points="431.95,69.90 432.25,64.10 432.75,64.10 433.15,69.90" fill="#6e1a30"/>
<polygon points="431.95,79.60 432.25,74.30 432.75,74.30 433.15,79.60" fill="#1d5a3e"/>
<polygon points="431.95,86.90 432.25,82.10 432.75,82.10 433.15,86.90" fill="#1d5a3e"/>
<polygon points="433.95,54.10 434.25,52.30 434.75,52.30 435.15,54.10" fill="#6e1a30"/>
<polygon points="433.95,62.00 434.25,60.20 434.75,60.20 435.15,62.00" fill="#6e1a30"/>
<polygon points="433.95,69.90 434.25,68.10 434.75,68.10 435.15,69.90" fill="#6e1a30"/>
<polygon points="433.95,79.60 434.25,78.30 434.75,78.30 435.15,79.60" fill="#1d5a3e"/>
<polygon points="433.95,86.90 434.25,85.60 434.75,85.60 435.15,86.90" fill="#1d5a3e"/>
<polygon points="494.45,54.10 494.75,50.80 495.25,50.80 495.65,54.10" fill="#6e1a30"/>
<polygon points="494.45,62.00 494.75,59.70 495.25,59.70 495.65,62.00" fill="#6e1a30"/>
<polygon points="494.45,69.90 494.75,68.10 495.25,68.10 495.65,69.90" fill="#6e1a30"/>
<polygon points="299.45,54.10 299.75,53.50 300.25,53.50 300.65,54.10" fill="#6e1a30"/>
<polygon points="299.45,62.00 299.75,61.40 300.25,61.40 300.65,62.00" fill="#6e1a30"/>
<polygon points="299.45,69.90 299.75,69.30 300.25,69.30 300.65,69.90" fill="#6e1a30"/>
<polygon points="299.45,79.60 299.75,79.00 300.25,79.00 300.65,79.60" fill="#1d5a3e"/>
<polygon points="299.45,86.90 299.75,86.30 300.25,86.30 300.65,86.90" fill="#1d5a3e"/>
<text x="135.80" y="103.50" font-size="7.4" fill="#3a3a3a" textLength="19.20" lengthAdjust="spacingAndGlyphs" stroke="#3a3a3a" stroke-width="0.16">GSH 3</text>
<text x="43.00" y="105.50" font-size="5.6" fill="#2a2a2a" textLength="11.90" lengthAdjust="spacingAndGlyphs">chr6</text>
<linearGradient id="tg3" gradientUnits="userSpaceOnUse" x1="0" y1="110.40" x2="0" y2="121.60"><stop offset="0" stop-color="#d4d4d4"/><stop offset="1" stop-color="#c4c4c4"/></linearGradient>
<polygon points="43.60,121.60 147.20,110.40 148.80,110.40 261.20,121.60" fill="url(#tg3)"/>
<rect x="43.00" y="107.80" width="219.50" height="2.60" fill="#fff" rx="1"/>
<rect x="47.00" y="107.80" width="4.00" height="2.60" fill="#2e2e2e"/>
<line x1="47.50" y1="109.10" x2="50.50" y2="109.10" stroke="#e8e8e8" stroke-width="0.8" stroke-dasharray="1.2,1.6"/>
<rect x="54.50" y="107.80" width="3.50" height="2.60" fill="#9a9a9a"/>
<rect x="64.00" y="107.80" width="7.00" height="2.60" fill="#151515"/>
<rect x="76.00" y="107.80" width="2.50" height="2.60" fill="#9a9a9a"/>
<rect x="80.00" y="107.80" width="6.00" height="2.60" fill="#9a9a9a"/>
<rect x="88.00" y="107.80" width="6.00" height="2.60" fill="#151515"/>
<rect x="94.00" y="107.80" width="4.00" height="2.60" fill="#9a9a9a"/>
<rect x="110.00" y="107.80" width="9.00" height="2.60" fill="#151515"/>
<rect x="123.00" y="107.80" width="9.70" height="2.60" fill="#151515"/>
<rect x="135.60" y="107.80" width="7.20" height="2.60" fill="#ffffff"/>
<line x1="136.10" y1="109.10" x2="142.30" y2="109.10" stroke="#777" stroke-width="0.9" stroke-dasharray="1.4,1.2"/>
<rect x="143.30" y="107.80" width="10.50" height="2.60" fill="#151515"/>
<rect x="154.00" y="107.80" width="6.60" height="2.60" fill="#ffffff"/>
<line x1="154.50" y1="109.10" x2="160.10" y2="109.10" stroke="#777" stroke-width="0.9" stroke-dasharray="1.4,1.2"/>
<rect x="160.60" y="107.80" width="6.70" height="2.60" fill="#151515"/>
<rect x="169.20" y="107.80" width="13.80" height="2.60" fill="#151515"/>
<rect x="190.50" y="107.80" width="9.50" height="2.60" fill="#151515"/>
<rect x="205.00" y="107.80" width="4.70" height="2.60" fill="#9a9a9a"/>
<rect x="217.00" y="107.80" width="7.00" height="2.60" fill="#151515"/>
<rect x="231.00" y="107.80" width="10.00" height="2.60" fill="#151515"/>
<rect x="246.00" y="107.80" width="4.00" height="2.60" fill="#9a9a9a"/>
<rect x="253.00" y="107.80" width="4.00" height="2.60" fill="#9a9a9a"/>
<rect x="43.00" y="107.80" width="219.50" height="2.60" fill="none" stroke="#111" stroke-width="0.6" rx="1"/>
<rect x="95.90" y="107.40" width="9.20" height="3.40" fill="#fff"/>
<polygon points="95.90,107.80 99.90,109.10 95.90,110.40" fill="#52202c"/>
<polygon points="105.10,107.80 101.10,109.10 105.10,110.40" fill="#2a1a1e"/>
<rect x="146.40" y="106.60" width="3.2" height="5.00" fill="none" stroke="#e8607a" stroke-width="0.4" opacity="0.7"/>
<line x1="43.60" y1="121.60" x2="261.20" y2="121.60" stroke="#262626" stroke-width="1.3"/>
<line x1="43.60" y1="120.10" x2="43.60" y2="123.10" stroke="#2a2a2a" stroke-width="1.0"/>
<line x1="261.20" y1="120.10" x2="261.20" y2="123.10" stroke="#2a2a2a" stroke-width="1.0"/>
<polygon points="153.86,116.84 150.04,122.02 151.65,122.02 148.42,126.36 151.56,121.17 149.95,121.17" fill="#1a1012" stroke="#1a1012" stroke-width="0.85" stroke-linejoin="round"/>
<text x="117.00" y="127.13" font-size="4.8" fill="#1a1a1a" textLength="12.70" lengthAdjust="spacingAndGlyphs">200 kb</text>
<text x="195.00" y="127.13" font-size="4.8" fill="#1a1a1a" textLength="12.70" lengthAdjust="spacingAndGlyphs">200 kb</text>
<line x1="178.00" y1="132.10" x2="261.00" y2="132.10" stroke="#2b3a86" stroke-width="0.6"/>
<polyline points="180.40,131.30 181.30,132.10 180.40,132.90" fill="none" stroke="#2b3a86" stroke-width="0.35" opacity="0.85"/>
<polyline points="183.00,131.30 183.90,132.10 183.00,132.90" fill="none" stroke="#2b3a86" stroke-width="0.35" opacity="0.85"/>
<polyline points="185.60,131.30 186.50,132.10 185.60,132.90" fill="none" stroke="#2b3a86" stroke-width="0.35" opacity="0.85"/>
<polyline points="188.20,131.30 189.10,132.10 188.20,132.90" fill="none" stroke="#2b3a86" stroke-width="0.35" opacity="0.85"/>
<polyline points="190.80,131.30 191.70,132.10 190.80,132.90" fill="none" stroke="#2b3a86" stroke-width="0.35" opacity="0.85"/>
<polyline points="193.40,131.30 194.30,132.10 193.40,132.90" fill="none" stroke="#2b3a86" stroke-width="0.35" opacity="0.85"/>
<polyline points="196.00,131.30 196.90,132.10 196.00,132.90" fill="none" stroke="#2b3a86" stroke-width="0.35" opacity="0.85"/>
<polyline points="198.60,131.30 199.50,132.10 198.60,132.90" fill="none" stroke="#2b3a86" stroke-width="0.35" opacity="0.85"/>
<polyline points="201.20,131.30 202.10,132.10 201.20,132.90" fill="none" stroke="#2b3a86" stroke-width="0.35" opacity="0.85"/>
<polyline points="203.80,131.30 204.70,132.10 203.80,132.90" fill="none" stroke="#2b3a86" stroke-width="0.35" opacity="0.85"/>
<polyline points="206.40,131.30 207.30,132.10 206.40,132.90" fill="none" stroke="#2b3a86" stroke-width="0.35" opacity="0.85"/>
<polyline points="209.00,131.30 209.90,132.10 209.00,132.90" fill="none" stroke="#2b3a86" stroke-width="0.35" opacity="0.85"/>
<polyline points="211.60,131.30 212.50,132.10 211.60,132.90" fill="none" stroke="#2b3a86" stroke-width="0.35" opacity="0.85"/>
<polyline points="214.20,131.30 215.10,132.10 214.20,132.90" fill="none" stroke="#2b3a86" stroke-width="0.35" opacity="0.85"/>
<polyline points="216.80,131.30 217.70,132.10 216.80,132.90" fill="none" stroke="#2b3a86" stroke-width="0.35" opacity="0.85"/>
<polyline points="219.40,131.30 220.30,132.10 219.40,132.90" fill="none" stroke="#2b3a86" stroke-width="0.35" opacity="0.85"/>
<polyline points="222.00,131.30 222.90,132.10 222.00,132.90" fill="none" stroke="#2b3a86" stroke-width="0.35" opacity="0.85"/>
<polyline points="224.60,131.30 225.50,132.10 224.60,132.90" fill="none" stroke="#2b3a86" stroke-width="0.35" opacity="0.85"/>
<polyline points="227.20,131.30 228.10,132.10 227.20,132.90" fill="none" stroke="#2b3a86" stroke-width="0.35" opacity="0.85"/>
<polyline points="229.80,131.30 230.70,132.10 229.80,132.90" fill="none" stroke="#2b3a86" stroke-width="0.35" opacity="0.85"/>
<polyline points="232.40,131.30 233.30,132.10 232.40,132.90" fill="none" stroke="#2b3a86" stroke-width="0.35" opacity="0.85"/>
<polyline points="235.00,131.30 235.90,132.10 235.00,132.90" fill="none" stroke="#2b3a86" stroke-width="0.35" opacity="0.85"/>
<polyline points="237.60,131.30 238.50,132.10 237.60,132.90" fill="none" stroke="#2b3a86" stroke-width="0.35" opacity="0.85"/>
<polyline points="240.20,131.30 241.10,132.10 240.20,132.90" fill="none" stroke="#2b3a86" stroke-width="0.35" opacity="0.85"/>
<polyline points="242.80,131.30 243.70,132.10 242.80,132.90" fill="none" stroke="#2b3a86" stroke-width="0.35" opacity="0.85"/>
<polyline points="245.40,131.30 246.30,132.10 245.40,132.90" fill="none" stroke="#2b3a86" stroke-width="0.35" opacity="0.85"/>
<polyline points="248.00,131.30 248.90,132.10 248.00,132.90" fill="none" stroke="#2b3a86" stroke-width="0.35" opacity="0.85"/>
<polyline points="250.60,131.30 251.50,132.10 250.60,132.90" fill="none" stroke="#2b3a86" stroke-width="0.35" opacity="0.85"/>
<polyline points="253.20,131.30 254.10,132.10 253.20,132.90" fill="none" stroke="#2b3a86" stroke-width="0.35" opacity="0.85"/>
<polyline points="255.80,131.30 256.70,132.10 255.80,132.90" fill="none" stroke="#2b3a86" stroke-width="0.35" opacity="0.85"/>
<polyline points="258.40,131.30 259.30,132.10 258.40,132.90" fill="none" stroke="#2b3a86" stroke-width="0.35" opacity="0.85"/>
<rect x="178.00" y="131.00" width="3.00" height="2.20" fill="#2b3a86"/>
<rect x="183.00" y="131.00" width="3.00" height="2.20" fill="#2b3a86"/>
<rect x="189.00" y="131.00" width="2.00" height="2.20" fill="#2b3a86"/>
<rect x="194.00" y="131.00" width="3.00" height="2.20" fill="#2b3a86"/>
<line x1="210.00" y1="131.00" x2="210.00" y2="133.20" stroke="#2b3a86" stroke-width="0.7"/>
<line x1="222.00" y1="131.00" x2="222.00" y2="133.20" stroke="#2b3a86" stroke-width="0.7"/>
<line x1="234.00" y1="131.00" x2="234.00" y2="133.20" stroke="#2b3a86" stroke-width="0.7"/>
<text x="182.00" y="138.26" font-size="4.6" fill="#2b3a86" textLength="23.00" lengthAdjust="spacingAndGlyphs">TMEM161B</text>
<text x="213.00" y="138.26" font-size="4.6" fill="#6f9fd8" textLength="32.60" lengthAdjust="spacingAndGlyphs">TMEM161B-AS1</text>
<rect x="44.00" y="138.25" width="134.00" height="1.90" fill="#4f9a2a"/>
<line x1="43.80" y1="148.50" x2="261.00" y2="148.50" stroke="#c46c84" stroke-width="0.9"/>
<line x1="43.80" y1="156.50" x2="261.00" y2="156.50" stroke="#c46c84" stroke-width="0.9"/>
<line x1="43.80" y1="164.50" x2="261.00" y2="164.50" stroke="#c46c84" stroke-width="0.9"/>
<line x1="43.80" y1="173.50" x2="261.00" y2="173.50" stroke="#a0aaa6" stroke-width="0.9"/>
<line x1="43.80" y1="181.40" x2="261.00" y2="181.40" stroke="#a0aaa6" stroke-width="0.9"/>
<polygon points="152.35,148.80 152.65,144.50 153.15,144.50 153.55,148.80" fill="#6e1a30"/>
<polygon points="152.35,156.80 152.65,152.50 153.15,152.50 153.55,156.80" fill="#6e1a30"/>
<polygon points="152.35,164.80 152.65,160.50 153.15,160.50 153.55,164.80" fill="#6e1a30"/>
<polygon points="152.35,173.80 152.65,170.50 153.15,170.50 153.55,173.80" fill="#1d5a3e"/>
<polygon points="152.35,181.70 152.65,177.90 153.15,177.90 153.55,181.70" fill="#1d5a3e"/>
<polygon points="186.05,148.80 186.35,147.50 186.85,147.50 187.25,148.80" fill="#6e1a30"/>
<polygon points="186.05,156.80 186.35,155.50 186.85,155.50 187.25,156.80" fill="#6e1a30"/>
<polygon points="186.05,164.80 186.35,163.50 186.85,163.50 187.25,164.80" fill="#6e1a30"/>
<polygon points="186.05,173.80 186.35,171.50 186.85,171.50 187.25,173.80" fill="#1d5a3e"/>
<polygon points="186.05,181.70 186.35,179.40 186.85,179.40 187.25,181.70" fill="#1d5a3e"/>
<polygon points="212.05,148.80 212.35,144.50 212.85,144.50 213.25,148.80" fill="#6e1a30"/>
<polygon points="212.05,156.80 212.35,152.50 212.85,152.50 213.25,156.80" fill="#6e1a30"/>
<polygon points="212.05,164.80 212.35,163.50 212.85,163.50 213.25,164.80" fill="#6e1a30"/>
<polygon points="220.85,148.80 221.15,143.50 221.65,143.50 222.05,148.80" fill="#6e1a30"/>
<polygon points="220.85,156.80 221.15,151.50 221.65,151.50 222.05,156.80" fill="#6e1a30"/>
<polygon points="220.85,164.80 221.15,159.50 221.65,159.50 222.05,164.80" fill="#6e1a30"/>
<polygon points="220.85,173.80 221.15,169.00 221.65,169.00 222.05,173.80" fill="#1d5a3e"/>
<polygon points="220.85,181.70 221.15,176.90 221.65,176.90 222.05,181.70" fill="#1d5a3e"/>
<text x="14.30" y="130.60" font-size="5" fill="#3b4a8c" textLength="27.30" lengthAdjust="spacingAndGlyphs">RefSeq Genes</text>
<text x="14.30" y="141.00" font-size="5" fill="#7cb25a" textLength="25.50" lengthAdjust="spacingAndGlyphs">eGSH region</text>
<text x="14.90" y="149.70" font-size="5" fill="#a8304c" textLength="25.90" lengthAdjust="spacingAndGlyphs">Donor 2 CD3</text>
<text x="14.90" y="157.70" font-size="5" fill="#a8304c" textLength="25.90" lengthAdjust="spacingAndGlyphs">Donor 2 CD4</text>
<text x="14.90" y="165.70" font-size="5" fill="#a8304c" textLength="25.90" lengthAdjust="spacingAndGlyphs">Donor 2 CD8</text>
<text x="14.90" y="174.70" font-size="5" fill="#3f6f58" textLength="25.90" lengthAdjust="spacingAndGlyphs">Corces, CD4</text>
<text x="14.90" y="182.60" font-size="5" fill="#3f6f58" textLength="25.90" lengthAdjust="spacingAndGlyphs">Corces, CD8</text>
<polyline points="14.30,144.00 12.30,144.00 12.30,166.00 14.30,166.00" fill="none" stroke="#b03552" stroke-width="0.7"/>
<polyline points="14.30,169.00 12.30,169.00 12.30,182.90 14.30,182.90" fill="none" stroke="#3f7a5e" stroke-width="0.7"/>
<text transform="translate(7.80,154.00) rotate(-90)" text-anchor="middle" font-size="6.2" fill="#b8405c" textLength="23.5" lengthAdjust="spacingAndGlyphs">Activated</text>
<text transform="translate(7.80,177.75) rotate(-90)" text-anchor="middle" font-size="6.2" fill="#4a6a5a" textLength="18.8" lengthAdjust="spacingAndGlyphs">Resting</text>
<text x="371.30" y="103.60" font-size="7.4" fill="#3a3a3a" textLength="19.00" lengthAdjust="spacingAndGlyphs" stroke="#3a3a3a" stroke-width="0.16">GSH 4</text>
<text x="268.20" y="105.80" font-size="5.6" fill="#2a2a2a" textLength="11.90" lengthAdjust="spacingAndGlyphs">chr3</text>
<linearGradient id="tg4" gradientUnits="userSpaceOnUse" x1="0" y1="110.80" x2="0" y2="121.80"><stop offset="0" stop-color="#d4d4d4"/><stop offset="1" stop-color="#c4c4c4"/></linearGradient>
<polygon points="267.70,121.80 399.20,110.80 400.80,110.80 507.60,121.80" fill="url(#tg4)"/>
<rect x="267.70" y="108.40" width="237.30" height="2.40" fill="#fff" rx="1"/>
<rect x="267.70" y="108.40" width="11.70" height="2.40" fill="#2e2e2e"/>
<line x1="268.20" y1="109.60" x2="278.90" y2="109.60" stroke="#e8e8e8" stroke-width="0.8" stroke-dasharray="1.2,1.6"/>
<rect x="283.00" y="108.40" width="3.60" height="2.40" fill="#9a9a9a"/>
<rect x="289.00" y="108.40" width="7.00" height="2.40" fill="#151515"/>
<rect x="300.00" y="108.40" width="6.00" height="2.40" fill="#151515"/>
<rect x="306.00" y="108.40" width="7.00" height="2.40" fill="#9a9a9a"/>
<rect x="313.00" y="108.40" width="8.50" height="2.40" fill="#151515"/>
<rect x="325.00" y="108.40" width="10.00" height="2.40" fill="#9a9a9a"/>
<rect x="342.00" y="108.40" width="6.00" height="2.40" fill="#9a9a9a"/>
<rect x="348.00" y="108.40" width="6.00" height="2.40" fill="#151515"/>
<rect x="361.00" y="108.40" width="10.00" height="2.40" fill="#9a9a9a"/>
<rect x="371.00" y="108.40" width="6.00" height="2.40" fill="#151515"/>
<rect x="385.00" y="108.40" width="12.00" height="2.40" fill="#2e2e2e"/>
<line x1="385.50" y1="109.60" x2="396.50" y2="109.60" stroke="#e8e8e8" stroke-width="0.8" stroke-dasharray="1.2,1.6"/>
<rect x="397.00" y="108.40" width="6.00" height="2.40" fill="#3a2028"/>
<rect x="403.00" y="108.40" width="3.60" height="2.40" fill="#151515"/>
<rect x="409.00" y="108.40" width="7.00" height="2.40" fill="#2e2e2e"/>
<line x1="409.50" y1="109.60" x2="415.50" y2="109.60" stroke="#e8e8e8" stroke-width="0.8" stroke-dasharray="1.2,1.6"/>
<rect x="418.60" y="108.40" width="14.40" height="2.40" fill="#9a9a9a"/>
<rect x="433.00" y="108.40" width="13.00" height="2.40" fill="#151515"/>
<rect x="450.00" y="108.40" width="5.00" height="2.40" fill="#9a9a9a"/>
<rect x="457.00" y="108.40" width="10.00" height="2.40" fill="#151515"/>
<rect x="470.30" y="108.40" width="7.20" height="2.40" fill="#151515"/>
<rect x="481.00" y="108.40" width="6.00" height="2.40" fill="#9a9a9a"/>
<rect x="487.00" y="108.40" width="5.00" height="2.40" fill="#151515"/>
<rect x="267.70" y="108.40" width="237.30" height="2.40" fill="none" stroke="#111" stroke-width="0.6" rx="1"/>
<rect x="373.40" y="108.00" width="9.20" height="3.20" fill="#fff"/>
<polygon points="373.40,108.40 377.40,109.60 373.40,110.80" fill="#52202c"/>
<polygon points="382.60,108.40 378.60,109.60 382.60,110.80" fill="#2a1a1e"/>
<rect x="398.40" y="107.20" width="3.2" height="4.80" fill="none" stroke="#e8607a" stroke-width="0.4" opacity="0.7"/>
<line x1="267.70" y1="121.80" x2="507.60" y2="121.80" stroke="#262626" stroke-width="1.3"/>
<line x1="267.70" y1="120.30" x2="267.70" y2="123.30" stroke="#2a2a2a" stroke-width="1.0"/>
<line x1="507.60" y1="120.30" x2="507.60" y2="123.30" stroke="#2a2a2a" stroke-width="1.0"/>
<polygon points="391.06,117.04 387.24,122.22 388.85,122.22 385.62,126.56 388.76,121.38 387.15,121.38" fill="#1a1012" stroke="#1a1012" stroke-width="0.85" stroke-linejoin="round"/>
<text x="349.00" y="127.33" font-size="4.8" fill="#1a1a1a" textLength="12.70" lengthAdjust="spacingAndGlyphs">200 kb</text>
<text x="437.00" y="127.93" font-size="4.8" fill="#1a1a1a" textLength="12.70" lengthAdjust="spacingAndGlyphs">200 kb</text>
<line x1="310.00" y1="128.90" x2="310.00" y2="131.10" stroke="#4a4aa0" stroke-width="0.7"/>
<text x="297.00" y="136.36" font-size="4.6" fill="#e6b070" textLength="30.00" lengthAdjust="spacingAndGlyphs">RP11-770A13.1</text>
<line x1="336.80" y1="128.90" x2="336.80" y2="131.10" stroke="#6f9fd8" stroke-width="0.7"/>
<text x="330.00" y="136.36" font-size="4.6" fill="#6f9fd8" textLength="13.80" lengthAdjust="spacingAndGlyphs">Y_RNA</text>
<line x1="433.00" y1="132.70" x2="507.00" y2="132.70" stroke="#5a6ab0" stroke-width="0.6"/>
<polyline points="435.40,131.90 436.30,132.70 435.40,133.50" fill="none" stroke="#5a6ab0" stroke-width="0.35" opacity="0.85"/>
<polyline points="438.00,131.90 438.90,132.70 438.00,133.50" fill="none" stroke="#5a6ab0" stroke-width="0.35" opacity="0.85"/>
<polyline points="440.60,131.90 441.50,132.70 440.60,133.50" fill="none" stroke="#5a6ab0" stroke-width="0.35" opacity="0.85"/>
<polyline points="443.20,131.90 444.10,132.70 443.20,133.50" fill="none" stroke="#5a6ab0" stroke-width="0.35" opacity="0.85"/>
<polyline points="445.80,131.90 446.70,132.70 445.80,133.50" fill="none" stroke="#5a6ab0" stroke-width="0.35" opacity="0.85"/>
<polyline points="448.40,131.90 449.30,132.70 448.40,133.50" fill="none" stroke="#5a6ab0" stroke-width="0.35" opacity="0.85"/>
<polyline points="451.00,131.90 451.90,132.70 451.00,133.50" fill="none" stroke="#5a6ab0" stroke-width="0.35" opacity="0.85"/>
<polyline points="453.60,131.90 454.50,132.70 453.60,133.50" fill="none" stroke="#5a6ab0" stroke-width="0.35" opacity="0.85"/>
<polyline points="456.20,131.90 457.10,132.70 456.20,133.50" fill="none" stroke="#5a6ab0" stroke-width="0.35" opacity="0.85"/>
<polyline points="458.80,131.90 459.70,132.70 458.80,133.50" fill="none" stroke="#5a6ab0" stroke-width="0.35" opacity="0.85"/>
<polyline points="461.40,131.90 462.30,132.70 461.40,133.50" fill="none" stroke="#5a6ab0" stroke-width="0.35" opacity="0.85"/>
<polyline points="464.00,131.90 464.90,132.70 464.00,133.50" fill="none" stroke="#5a6ab0" stroke-width="0.35" opacity="0.85"/>
<polyline points="466.60,131.90 467.50,132.70 466.60,133.50" fill="none" stroke="#5a6ab0" stroke-width="0.35" opacity="0.85"/>
<polyline points="469.20,131.90 470.10,132.70 469.20,133.50" fill="none" stroke="#5a6ab0" stroke-width="0.35" opacity="0.85"/>
<polyline points="471.80,131.90 472.70,132.70 471.80,133.50" fill="none" stroke="#5a6ab0" stroke-width="0.35" opacity="0.85"/>
<polyline points="474.40,131.90 475.30,132.70 474.40,133.50" fill="none" stroke="#5a6ab0" stroke-width="0.35" opacity="0.85"/>
<polyline points="477.00,131.90 477.90,132.70 477.00,133.50" fill="none" stroke="#5a6ab0" stroke-width="0.35" opacity="0.85"/>
<polyline points="479.60,131.90 480.50,132.70 479.60,133.50" fill="none" stroke="#5a6ab0" stroke-width="0.35" opacity="0.85"/>
<polyline points="482.20,131.90 483.10,132.70 482.20,133.50" fill="none" stroke="#5a6ab0" stroke-width="0.35" opacity="0.85"/>
<polyline points="484.80,131.90 485.70,132.70 484.80,133.50" fill="none" stroke="#5a6ab0" stroke-width="0.35" opacity="0.85"/>
<polyline points="487.40,131.90 488.30,132.70 487.40,133.50" fill="none" stroke="#5a6ab0" stroke-width="0.35" opacity="0.85"/>
<polyline points="490.00,131.90 490.90,132.70 490.00,133.50" fill="none" stroke="#5a6ab0" stroke-width="0.35" opacity="0.85"/>
<polyline points="492.60,131.90 493.50,132.70 492.60,133.50" fill="none" stroke="#5a6ab0" stroke-width="0.35" opacity="0.85"/>
<polyline points="495.20,131.90 496.10,132.70 495.20,133.50" fill="none" stroke="#5a6ab0" stroke-width="0.35" opacity="0.85"/>
<polyline points="497.80,131.90 498.70,132.70 497.80,133.50" fill="none" stroke="#5a6ab0" stroke-width="0.35" opacity="0.85"/>
<polyline points="500.40,131.90 501.30,132.70 500.40,133.50" fill="none" stroke="#5a6ab0" stroke-width="0.35" opacity="0.85"/>
<polyline points="503.00,131.90 503.90,132.70 503.00,133.50" fill="none" stroke="#5a6ab0" stroke-width="0.35" opacity="0.85"/>
<rect x="433.00" y="131.60" width="4.00" height="2.20" fill="#5a6ab0"/>
<text x="461.60" y="138.26" font-size="4.6" fill="#6f9fd8" textLength="27.40" lengthAdjust="spacingAndGlyphs">NECTIN3-AS1</text>
<rect x="269.30" y="138.25" width="36.90" height="1.90" fill="#4f9a2a"/>
<rect x="366.70" y="138.25" width="38.60" height="1.90" fill="#4f9a2a"/>
<line x1="268.50" y1="148.40" x2="508.40" y2="148.40" stroke="#c46c84" stroke-width="0.9"/>
<line x1="268.50" y1="156.40" x2="508.40" y2="156.40" stroke="#c46c84" stroke-width="0.9"/>
<line x1="268.50" y1="164.00" x2="508.40" y2="164.00" stroke="#c46c84" stroke-width="0.9"/>
<line x1="268.50" y1="173.50" x2="508.40" y2="173.50" stroke="#a0aaa6" stroke-width="0.9"/>
<line x1="268.50" y1="181.60" x2="508.40" y2="181.60" stroke="#a0aaa6" stroke-width="0.9"/>
<polygon points="387.75,148.70 388.05,143.90 388.55,143.90 388.95,148.70" fill="#6e1a30"/>
<polygon points="387.75,156.70 388.05,151.90 388.55,151.90 388.95,156.70" fill="#6e1a30"/>
<polygon points="387.75,164.30 388.05,159.00 388.55,159.00 388.95,164.30" fill="#6e1a30"/>
<polygon points="387.75,173.80 388.05,173.00 388.55,173.00 388.95,173.80" fill="#1d5a3e"/>
<polygon points="387.75,181.90 388.05,181.10 388.55,181.10 388.95,181.90" fill="#1d5a3e"/>
<polygon points="276.25,173.80 276.55,172.30 277.05,172.30 277.45,173.80" fill="#1d5a3e"/>
<polygon points="276.25,181.90 276.55,180.80 277.05,180.80 277.45,181.90" fill="#1d5a3e"/>
<polygon points="299.45,148.70 299.75,148.10 300.25,148.10 300.65,148.70" fill="#6e1a30"/>
<polygon points="299.45,156.70 299.75,156.10 300.25,156.10 300.65,156.70" fill="#6e1a30"/>
<polygon points="299.45,164.30 299.75,163.70 300.25,163.70 300.65,164.30" fill="#6e1a30"/>
<polygon points="299.45,173.80 299.75,173.20 300.25,173.20 300.65,173.80" fill="#1d5a3e"/>
<polygon points="299.45,181.90 299.75,181.30 300.25,181.30 300.65,181.90" fill="#1d5a3e"/>
<text x="138.90" y="198.10" font-size="7.4" fill="#3a3a3a" textLength="19.30" lengthAdjust="spacingAndGlyphs" stroke="#3a3a3a" stroke-width="0.16">GSH 5</text>
<text x="46.20" y="200.40" font-size="5.6" fill="#2a2a2a" textLength="14.70" lengthAdjust="spacingAndGlyphs">chr13</text>
<linearGradient id="tg5" gradientUnits="userSpaceOnUse" x1="0" y1="205.60" x2="0" y2="217.50"><stop offset="0" stop-color="#d4d4d4"/><stop offset="1" stop-color="#c4c4c4"/></linearGradient>
<polygon points="46.20,217.50 132.20,205.60 133.80,205.60 266.70,217.50" fill="url(#tg5)"/>
<rect x="46.20" y="203.00" width="219.80" height="2.60" fill="#fff" rx="1"/>
<rect x="57.00" y="203.00" width="2.00" height="2.60" fill="#9a9a9a"/>
<rect x="65.00" y="203.00" width="2.00" height="2.60" fill="#9a9a9a"/>
<rect x="88.70" y="203.00" width="9.60" height="2.60" fill="#9a9a9a"/>
<rect x="105.50" y="203.00" width="9.50" height="2.60" fill="#151515"/>
<rect x="115.00" y="203.00" width="7.00" height="2.60" fill="#9a9a9a"/>
<rect x="130.70" y="203.00" width="4.80" height="2.60" fill="#3a2028"/>
<rect x="135.50" y="203.00" width="4.50" height="2.60" fill="#9a9a9a"/>
<rect x="145.00" y="203.00" width="15.00" height="2.60" fill="#151515"/>
<rect x="163.75" y="203.00" width="7.50" height="2.60" fill="#151515"/>
<rect x="176.00" y="203.00" width="10.00" height="2.60" fill="#2e2e2e"/>
<line x1="176.50" y1="204.30" x2="185.50" y2="204.30" stroke="#e8e8e8" stroke-width="0.8" stroke-dasharray="1.2,1.6"/>
<rect x="190.70" y="203.00" width="3.30" height="2.60" fill="#151515"/>
<rect x="196.00" y="203.00" width="17.50" height="2.60" fill="#151515"/>
<rect x="217.00" y="203.00" width="10.00" height="2.60" fill="#151515"/>
<rect x="231.50" y="203.00" width="4.50" height="2.60" fill="#9a9a9a"/>
<rect x="241.00" y="203.00" width="7.00" height="2.60" fill="#151515"/>
<rect x="250.50" y="203.00" width="5.10" height="2.60" fill="#151515"/>
<rect x="46.20" y="203.00" width="219.80" height="2.60" fill="none" stroke="#111" stroke-width="0.6" rx="1"/>
<rect x="76.40" y="202.60" width="9.20" height="3.40" fill="#fff"/>
<polygon points="76.40,203.00 80.40,204.30 76.40,205.60" fill="#52202c"/>
<polygon points="85.60,203.00 81.60,204.30 85.60,205.60" fill="#2a1a1e"/>
<rect x="131.40" y="201.80" width="3.2" height="5.00" fill="none" stroke="#e8607a" stroke-width="0.4" opacity="0.7"/>
<line x1="46.20" y1="217.50" x2="266.70" y2="217.50" stroke="#262626" stroke-width="1.3"/>
<line x1="46.20" y1="216.00" x2="46.20" y2="219.00" stroke="#2a2a2a" stroke-width="1.0"/>
<line x1="266.70" y1="216.00" x2="266.70" y2="219.00" stroke="#2a2a2a" stroke-width="1.0"/>
<polygon points="159.06,212.74 155.24,217.93 156.85,217.93 153.62,222.26 156.76,217.07 155.15,217.07" fill="#1a1012" stroke="#1a1012" stroke-width="0.85" stroke-linejoin="round"/>
<text x="120.80" y="222.33" font-size="4.8" fill="#1a1a1a" textLength="12.70" lengthAdjust="spacingAndGlyphs">200 kb</text>
<text x="200.00" y="222.33" font-size="4.8" fill="#1a1a1a" textLength="12.70" lengthAdjust="spacingAndGlyphs">200 kb</text>
<line x1="91.00" y1="225.30" x2="96.60" y2="225.30" stroke="#2b3a86" stroke-width="0.6"/>
<rect x="91.00" y="224.20" width="5.60" height="2.20" fill="#2b3a86"/>
<text x="85.70" y="231.36" font-size="4.6" fill="#6f9fd8" textLength="22.10" lengthAdjust="spacingAndGlyphs">LINC00330</text>
<line x1="167.70" y1="225.30" x2="221.00" y2="225.30" stroke="#2b3a86" stroke-width="0.6"/>
<polyline points="170.10,224.50 171.00,225.30 170.10,226.10" fill="none" stroke="#2b3a86" stroke-width="0.35" opacity="0.85"/>
<polyline points="172.70,224.50 173.60,225.30 172.70,226.10" fill="none" stroke="#2b3a86" stroke-width="0.35" opacity="0.85"/>
<polyline points="175.30,224.50 176.20,225.30 175.30,226.10" fill="none" stroke="#2b3a86" stroke-width="0.35" opacity="0.85"/>
<polyline points="177.90,224.50 178.80,225.30 177.90,226.10" fill="none" stroke="#2b3a86" stroke-width="0.35" opacity="0.85"/>
<polyline points="180.50,224.50 181.40,225.30 180.50,226.10" fill="none" stroke="#2b3a86" stroke-width="0.35" opacity="0.85"/>
<polyline points="183.10,224.50 184.00,225.30 183.10,226.10" fill="none" stroke="#2b3a86" stroke-width="0.35" opacity="0.85"/>
<polyline points="185.70,224.50 186.60,225.30 185.70,226.10" fill="none" stroke="#2b3a86" stroke-width="0.35" opacity="0.85"/>
<polyline points="188.30,224.50 189.20,225.30 188.30,226.10" fill="none" stroke="#2b3a86" stroke-width="0.35" opacity="0.85"/>
<polyline points="190.90,224.50 191.80,225.30 190.90,226.10" fill="none" stroke="#2b3a86" stroke-width="0.35" opacity="0.85"/>
<polyline points="193.50,224.50 194.40,225.30 193.50,226.10" fill="none" stroke="#2b3a86" stroke-width="0.35" opacity="0.85"/>
<polyline points="196.10,224.50 197.00,225.30 196.10,226.10" fill="none" stroke="#2b3a86" stroke-width="0.35" opacity="0.85"/>
<polyline points="198.70,224.50 199.60,225.30 198.70,226.10" fill="none" stroke="#2b3a86" stroke-width="0.35" opacity="0.85"/>
<polyline points="201.30,224.50 202.20,225.30 201.30,226.10" fill="none" stroke="#2b3a86" stroke-width="0.35" opacity="0.85"/>
<polyline points="203.90,224.50 204.80,225.30 203.90,226.10" fill="none" stroke="#2b3a86" stroke-width="0.35" opacity="0.85"/>
<polyline points="206.50,224.50 207.40,225.30 206.50,226.10" fill="none" stroke="#2b3a86" stroke-width="0.35" opacity="0.85"/>
<polyline points="209.10,224.50 210.00,225.30 209.10,226.10" fill="none" stroke="#2b3a86" stroke-width="0.35" opacity="0.85"/>
<polyline points="211.70,224.50 212.60,225.30 211.70,226.10" fill="none" stroke="#2b3a86" stroke-width="0.35" opacity="0.85"/>
<polyline points="214.30,224.50 215.20,225.30 214.30,226.10" fill="none" stroke="#2b3a86" stroke-width="0.35" opacity="0.85"/>
<polyline points="216.90,224.50 217.80,225.30 216.90,226.10" fill="none" stroke="#2b3a86" stroke-width="0.35" opacity="0.85"/>
<rect x="167.70" y="224.20" width="1.80" height="2.20" fill="#2b3a86"/>
<rect x="180.00" y="224.20" width="1.50" height="2.20" fill="#2b3a86"/>
<rect x="187.00" y="224.20" width="1.50" height="2.20" fill="#2b3a86"/>
<rect x="194.00" y="224.20" width="1.50" height="2.20" fill="#2b3a86"/>
<rect x="205.00" y="224.20" width="2.00" height="2.20" fill="#2b3a86"/>
<rect x="214.00" y="224.20" width="2.00" height="2.20" fill="#2b3a86"/>
<text x="180.60" y="232.16" font-size="4.6" fill="#2b3a86" textLength="10.40" lengthAdjust="spacingAndGlyphs">NLRP1</text>
<text x="212.60" y="232.16" font-size="4.6" fill="#2b3a86" textLength="18.70" lengthAdjust="spacingAndGlyphs">GPALPP1</text>
<line x1="258.60" y1="225.30" x2="263.00" y2="225.30" stroke="#2b3a86" stroke-width="0.6"/>
<rect x="258.60" y="224.20" width="4.40" height="2.20" fill="#2b3a86"/>
<text x="241.70" y="232.16" font-size="4.6" fill="#6f9fd8" textLength="24.80" lengthAdjust="spacingAndGlyphs">NR_120626.1</text>
<rect x="133.00" y="235.25" width="3.50" height="1.90" fill="#4f9a2a"/>
<rect x="141.00" y="235.25" width="26.70" height="1.90" fill="#4f9a2a"/>
<line x1="46.20" y1="246.40" x2="266.00" y2="246.40" stroke="#c46c84" stroke-width="0.9"/>
<line x1="46.20" y1="254.40" x2="266.00" y2="254.40" stroke="#c46c84" stroke-width="0.9"/>
<line x1="46.20" y1="262.40" x2="266.00" y2="262.40" stroke="#c46c84" stroke-width="0.9"/>
<line x1="46.20" y1="272.60" x2="266.00" y2="272.60" stroke="#a0aaa6" stroke-width="0.9"/>
<line x1="46.20" y1="280.50" x2="266.00" y2="280.50" stroke="#a0aaa6" stroke-width="0.9"/>
<polygon points="154.95,246.70 155.25,241.40 155.75,241.40 156.15,246.70" fill="#6e1a30"/>
<polygon points="154.95,254.70 155.25,249.40 155.75,249.40 156.15,254.70" fill="#6e1a30"/>
<polygon points="154.95,262.70 155.25,257.40 155.75,257.40 156.15,262.70" fill="#6e1a30"/>
<polygon points="154.95,272.90 155.25,268.10 155.75,268.10 156.15,272.90" fill="#1d5a3e"/>
<polygon points="154.95,280.80 155.25,276.00 155.75,276.00 156.15,280.80" fill="#1d5a3e"/>
<polygon points="193.85,246.70 194.15,243.40 194.65,243.40 195.05,246.70" fill="#6e1a30"/>
<polygon points="193.85,254.70 194.15,251.40 194.65,251.40 195.05,254.70" fill="#6e1a30"/>
<polygon points="193.85,262.70 194.15,259.40 194.65,259.40 195.05,262.70" fill="#6e1a30"/>
<polygon points="193.85,272.90 194.15,269.60 194.65,269.60 195.05,272.90" fill="#1d5a3e"/>
<polygon points="193.85,280.80 194.15,277.50 194.65,277.50 195.05,280.80" fill="#1d5a3e"/>
<polygon points="225.45,246.70 225.75,245.40 226.25,245.40 226.65,246.70" fill="#6e1a30"/>
<polygon points="225.45,254.70 225.75,253.40 226.25,253.40 226.65,254.70" fill="#6e1a30"/>
<polygon points="225.45,262.70 225.75,261.40 226.25,261.40 226.65,262.70" fill="#6e1a30"/>
<polygon points="225.45,272.90 225.75,272.10 226.25,272.10 226.65,272.90" fill="#1d5a3e"/>
<polygon points="229.45,246.70 229.75,245.40 230.25,245.40 230.65,246.70" fill="#6e1a30"/>
<polygon points="229.45,254.70 229.75,253.40 230.25,253.40 230.65,254.70" fill="#6e1a30"/>
<polygon points="229.45,262.70 229.75,261.40 230.25,261.40 230.65,262.70" fill="#6e1a30"/>
<polygon points="229.45,272.90 229.75,272.10 230.25,272.10 230.65,272.90" fill="#1d5a3e"/>
<polygon points="259.35,246.70 259.65,245.40 260.15,245.40 260.55,246.70" fill="#6e1a30"/>
<polygon points="259.35,254.70 259.65,253.40 260.15,253.40 260.55,254.70" fill="#6e1a30"/>
<polygon points="259.35,262.70 259.65,261.40 260.15,261.40 260.55,262.70" fill="#6e1a30"/>
<polygon points="99.45,246.70 99.75,246.00 100.25,246.00 100.65,246.70" fill="#6e1a30"/>
<polygon points="99.45,254.70 99.75,254.00 100.25,254.00 100.65,254.70" fill="#6e1a30"/>
<polygon points="99.45,262.70 99.75,262.00 100.25,262.00 100.65,262.70" fill="#6e1a30"/>
<polygon points="99.45,272.90 99.75,272.20 100.25,272.20 100.65,272.90" fill="#1d5a3e"/>
<polygon points="99.45,280.80 99.75,280.10 100.25,280.10 100.65,280.80" fill="#1d5a3e"/>
<text x="14.30" y="227.60" font-size="5" fill="#3b4a8c" textLength="27.30" lengthAdjust="spacingAndGlyphs">RefSeq Genes</text>
<text x="14.30" y="237.40" font-size="5" fill="#7cb25a" textLength="25.50" lengthAdjust="spacingAndGlyphs">eGSH region</text>
<text x="14.90" y="247.60" font-size="5" fill="#a8304c" textLength="25.90" lengthAdjust="spacingAndGlyphs">Donor 2 CD3</text>
<text x="14.90" y="255.60" font-size="5" fill="#a8304c" textLength="25.90" lengthAdjust="spacingAndGlyphs">Donor 2 CD4</text>
<text x="14.90" y="263.60" font-size="5" fill="#a8304c" textLength="25.90" lengthAdjust="spacingAndGlyphs">Donor 2 CD8</text>
<text x="14.90" y="273.80" font-size="5" fill="#3f6f58" textLength="25.90" lengthAdjust="spacingAndGlyphs">Corces, CD4</text>
<text x="14.90" y="281.70" font-size="5" fill="#3f6f58" textLength="25.90" lengthAdjust="spacingAndGlyphs">Corces, CD8</text>
<polyline points="14.30,241.90 12.30,241.90 12.30,263.90 14.30,263.90" fill="none" stroke="#b03552" stroke-width="0.7"/>
<polyline points="14.30,268.10 12.30,268.10 12.30,282.00 14.30,282.00" fill="none" stroke="#3f7a5e" stroke-width="0.7"/>
<text transform="translate(7.80,251.90) rotate(-90)" text-anchor="middle" font-size="6.2" fill="#b8405c" textLength="23.5" lengthAdjust="spacingAndGlyphs">Activated</text>
<text transform="translate(7.80,276.85) rotate(-90)" text-anchor="middle" font-size="6.2" fill="#4a6a5a" textLength="18.8" lengthAdjust="spacingAndGlyphs">Resting</text>
<text x="375.40" y="198.10" font-size="7.4" fill="#3a3a3a" textLength="20.00" lengthAdjust="spacingAndGlyphs" stroke="#3a3a3a" stroke-width="0.16">GSH 6</text>
<text x="273.20" y="200.20" font-size="5.6" fill="#2a2a2a" textLength="11.30" lengthAdjust="spacingAndGlyphs">chr7</text>
<linearGradient id="tg6" gradientUnits="userSpaceOnUse" x1="0" y1="205.40" x2="0" y2="216.50"><stop offset="0" stop-color="#d4d4d4"/><stop offset="1" stop-color="#c4c4c4"/></linearGradient>
<polygon points="274.50,216.50 491.20,205.40 492.80,205.40 506.60,216.50" fill="url(#tg6)"/>
<rect x="274.50" y="202.80" width="232.10" height="2.60" fill="#fff" rx="1"/>
<rect x="274.50" y="202.80" width="9.00" height="2.60" fill="#ffffff"/>
<line x1="275.00" y1="204.10" x2="283.00" y2="204.10" stroke="#777" stroke-width="0.9" stroke-dasharray="1.4,1.2"/>
<rect x="283.50" y="202.80" width="11.50" height="2.60" fill="#151515"/>
<rect x="297.00" y="202.80" width="6.00" height="2.60" fill="#151515"/>
<rect x="303.70" y="202.80" width="6.70" height="2.60" fill="#ffffff"/>
<line x1="304.20" y1="204.10" x2="309.90" y2="204.10" stroke="#777" stroke-width="0.9" stroke-dasharray="1.4,1.2"/>
<rect x="310.40" y="202.80" width="15.40" height="2.60" fill="#2e2e2e"/>
<line x1="310.90" y1="204.10" x2="325.30" y2="204.10" stroke="#e8e8e8" stroke-width="0.8" stroke-dasharray="1.2,1.6"/>
<rect x="327.70" y="202.80" width="9.60" height="2.60" fill="#151515"/>
<rect x="339.00" y="202.80" width="6.00" height="2.60" fill="#151515"/>
<rect x="347.00" y="202.80" width="6.60" height="2.60" fill="#151515"/>
<rect x="372.00" y="202.80" width="8.60" height="2.60" fill="#9a9a9a"/>
<rect x="380.60" y="202.80" width="20.20" height="2.60" fill="#151515"/>
<rect x="403.00" y="202.80" width="5.00" height="2.60" fill="#151515"/>
<rect x="409.00" y="202.80" width="8.60" height="2.60" fill="#151515"/>
<rect x="420.00" y="202.80" width="8.00" height="2.60" fill="#9a9a9a"/>
<rect x="429.70" y="202.80" width="12.00" height="2.60" fill="#151515"/>
<rect x="445.30" y="202.80" width="4.70" height="2.60" fill="#151515"/>
<rect x="453.70" y="202.80" width="6.00" height="2.60" fill="#151515"/>
<rect x="462.00" y="202.80" width="7.30" height="2.60" fill="#9a9a9a"/>
<rect x="469.30" y="202.80" width="6.00" height="2.60" fill="#151515"/>
<rect x="482.50" y="202.80" width="7.30" height="2.60" fill="#151515"/>
<rect x="489.80" y="202.80" width="4.80" height="2.60" fill="#3a2028"/>
<rect x="497.00" y="202.80" width="8.00" height="2.60" fill="#9a9a9a"/>
<rect x="274.50" y="202.80" width="232.10" height="2.60" fill="none" stroke="#111" stroke-width="0.6" rx="1"/>
<rect x="355.90" y="202.40" width="9.20" height="3.40" fill="#fff"/>
<polygon points="355.90,202.80 359.90,204.10 355.90,205.40" fill="#52202c"/>
<polygon points="365.10,202.80 361.10,204.10 365.10,205.40" fill="#2a1a1e"/>
<rect x="490.40" y="201.60" width="3.2" height="5.00" fill="none" stroke="#e8607a" stroke-width="0.4" opacity="0.7"/>
<line x1="274.50" y1="216.50" x2="506.60" y2="216.50" stroke="#262626" stroke-width="1.3"/>
<line x1="274.50" y1="215.00" x2="274.50" y2="218.00" stroke="#2a2a2a" stroke-width="1.0"/>
<line x1="506.60" y1="215.00" x2="506.60" y2="218.00" stroke="#2a2a2a" stroke-width="1.0"/>
<polygon points="392.26,211.74 388.44,216.93 390.05,216.93 386.82,221.26 389.96,216.07 388.35,216.07" fill="#1a1012" stroke="#1a1012" stroke-width="0.85" stroke-linejoin="round"/>
<text x="357.60" y="221.73" font-size="4.8" fill="#1a1a1a" textLength="12.70" lengthAdjust="spacingAndGlyphs">200 kb</text>
<text x="439.00" y="221.33" font-size="4.8" fill="#1a1a1a" textLength="12.70" lengthAdjust="spacingAndGlyphs">200 kb</text>
<line x1="274.50" y1="224.20" x2="274.50" y2="226.40" stroke="#e6b070" stroke-width="0.7"/>
<text x="271.00" y="231.25" font-size="4.3" fill="#e6b070" textLength="10.00" lengthAdjust="spacingAndGlyphs">RP11-</text>
<text x="270.00" y="235.05" font-size="4.3" fill="#e6b070" textLength="14.00" lengthAdjust="spacingAndGlyphs">163E21.1</text>
<line x1="278.40" y1="225.30" x2="296.60" y2="225.30" stroke="#2b3a86" stroke-width="0.6"/>
<polyline points="280.80,224.50 281.70,225.30 280.80,226.10" fill="none" stroke="#2b3a86" stroke-width="0.35" opacity="0.85"/>
<polyline points="283.40,224.50 284.30,225.30 283.40,226.10" fill="none" stroke="#2b3a86" stroke-width="0.35" opacity="0.85"/>
<polyline points="286.00,224.50 286.90,225.30 286.00,226.10" fill="none" stroke="#2b3a86" stroke-width="0.35" opacity="0.85"/>
<polyline points="288.60,224.50 289.50,225.30 288.60,226.10" fill="none" stroke="#2b3a86" stroke-width="0.35" opacity="0.85"/>
<polyline points="291.20,224.50 292.10,225.30 291.20,226.10" fill="none" stroke="#2b3a86" stroke-width="0.35" opacity="0.85"/>
<polyline points="293.80,224.50 294.70,225.30 293.80,226.10" fill="none" stroke="#2b3a86" stroke-width="0.35" opacity="0.85"/>
<rect x="278.40" y="224.20" width="1.60" height="2.20" fill="#2b3a86"/>
<rect x="294.50" y="224.20" width="2.10" height="2.20" fill="#2b3a86"/>
<text x="285.60" y="232.16" font-size="4.6" fill="#333" font-style="italic" textLength="15.60" lengthAdjust="spacingAndGlyphs">ZNF777</text>
<line x1="303.00" y1="225.30" x2="317.30" y2="225.30" stroke="#2b3a86" stroke-width="0.6"/>
<polyline points="305.40,224.50 306.30,225.30 305.40,226.10" fill="none" stroke="#2b3a86" stroke-width="0.35" opacity="0.85"/>
<polyline points="308.00,224.50 308.90,225.30 308.00,226.10" fill="none" stroke="#2b3a86" stroke-width="0.35" opacity="0.85"/>
<polyline points="310.60,224.50 311.50,225.30 310.60,226.10" fill="none" stroke="#2b3a86" stroke-width="0.35" opacity="0.85"/>
<polyline points="313.20,224.50 314.10,225.30 313.20,226.10" fill="none" stroke="#2b3a86" stroke-width="0.35" opacity="0.85"/>
<rect x="303.00" y="224.20" width="2.00" height="2.20" fill="#2b3a86"/>
<rect x="309.00" y="224.20" width="2.00" height="2.20" fill="#2b3a86"/>
<rect x="315.00" y="224.20" width="2.30" height="2.20" fill="#2b3a86"/>
<text x="304.90" y="232.16" font-size="4.6" fill="#333" font-style="italic" textLength="15.60" lengthAdjust="spacingAndGlyphs">ZNF746</text>
<line x1="345.40" y1="225.30" x2="389.00" y2="225.30" stroke="#4a5ab0" stroke-width="0.6"/>
<polyline points="347.80,224.50 348.70,225.30 347.80,226.10" fill="none" stroke="#4a5ab0" stroke-width="0.35" opacity="0.85"/>
<polyline points="350.40,224.50 351.30,225.30 350.40,226.10" fill="none" stroke="#4a5ab0" stroke-width="0.35" opacity="0.85"/>
<polyline points="353.00,224.50 353.90,225.30 353.00,226.10" fill="none" stroke="#4a5ab0" stroke-width="0.35" opacity="0.85"/>
<polyline points="355.60,224.50 356.50,225.30 355.60,226.10" fill="none" stroke="#4a5ab0" stroke-width="0.35" opacity="0.85"/>
<polyline points="358.20,224.50 359.10,225.30 358.20,226.10" fill="none" stroke="#4a5ab0" stroke-width="0.35" opacity="0.85"/>
<polyline points="360.80,224.50 361.70,225.30 360.80,226.10" fill="none" stroke="#4a5ab0" stroke-width="0.35" opacity="0.85"/>
<polyline points="363.40,224.50 364.30,225.30 363.40,226.10" fill="none" stroke="#4a5ab0" stroke-width="0.35" opacity="0.85"/>
<polyline points="366.00,224.50 366.90,225.30 366.00,226.10" fill="none" stroke="#4a5ab0" stroke-width="0.35" opacity="0.85"/>
<polyline points="368.60,224.50 369.50,225.30 368.60,226.10" fill="none" stroke="#4a5ab0" stroke-width="0.35" opacity="0.85"/>
<polyline points="371.20,224.50 372.10,225.30 371.20,226.10" fill="none" stroke="#4a5ab0" stroke-width="0.35" opacity="0.85"/>
<polyline points="373.80,224.50 374.70,225.30 373.80,226.10" fill="none" stroke="#4a5ab0" stroke-width="0.35" opacity="0.85"/>
<polyline points="376.40,224.50 377.30,225.30 376.40,226.10" fill="none" stroke="#4a5ab0" stroke-width="0.35" opacity="0.85"/>
<polyline points="379.00,224.50 379.90,225.30 379.00,226.10" fill="none" stroke="#4a5ab0" stroke-width="0.35" opacity="0.85"/>
<polyline points="381.60,224.50 382.50,225.30 381.60,226.10" fill="none" stroke="#4a5ab0" stroke-width="0.35" opacity="0.85"/>
<polyline points="384.20,224.50 385.10,225.30 384.20,226.10" fill="none" stroke="#4a5ab0" stroke-width="0.35" opacity="0.85"/>
<text x="361.50" y="232.16" font-size="4.6" fill="#e6b070" font-style="italic" textLength="18.20" lengthAdjust="spacingAndGlyphs">ZNF767P</text>
<line x1="442.00" y1="226.00" x2="453.00" y2="226.00" stroke="#2b3a86" stroke-width="0.6"/>
<rect x="442.00" y="224.90" width="11.00" height="2.20" fill="#2b3a86"/>
<text x="444.00" y="232.86" font-size="4.6" fill="#2b3a86" textLength="13.00" lengthAdjust="spacingAndGlyphs">KRBA1</text>
<line x1="470.70" y1="226.00" x2="476.00" y2="226.00" stroke="#2b3a86" stroke-width="0.6"/>
<rect x="470.70" y="224.90" width="5.30" height="2.20" fill="#2b3a86"/>
<text x="465.50" y="232.86" font-size="4.6" fill="#333" font-style="italic" textLength="15.10" lengthAdjust="spacingAndGlyphs">ZNF467</text>
<line x1="477.00" y1="226.00" x2="507.60" y2="226.00" stroke="#2b3a86" stroke-width="0.6"/>
<polyline points="479.40,225.20 480.30,226.00 479.40,226.80" fill="none" stroke="#2b3a86" stroke-width="0.35" opacity="0.85"/>
<polyline points="482.00,225.20 482.90,226.00 482.00,226.80" fill="none" stroke="#2b3a86" stroke-width="0.35" opacity="0.85"/>
<polyline points="484.60,225.20 485.50,226.00 484.60,226.80" fill="none" stroke="#2b3a86" stroke-width="0.35" opacity="0.85"/>
<polyline points="487.20,225.20 488.10,226.00 487.20,226.80" fill="none" stroke="#2b3a86" stroke-width="0.35" opacity="0.85"/>
<polyline points="489.80,225.20 490.70,226.00 489.80,226.80" fill="none" stroke="#2b3a86" stroke-width="0.35" opacity="0.85"/>
<polyline points="492.40,225.20 493.30,226.00 492.40,226.80" fill="none" stroke="#2b3a86" stroke-width="0.35" opacity="0.85"/>
<polyline points="495.00,225.20 495.90,226.00 495.00,226.80" fill="none" stroke="#2b3a86" stroke-width="0.35" opacity="0.85"/>
<polyline points="497.60,225.20 498.50,226.00 497.60,226.80" fill="none" stroke="#2b3a86" stroke-width="0.35" opacity="0.85"/>
<polyline points="500.20,225.20 501.10,226.00 500.20,226.80" fill="none" stroke="#2b3a86" stroke-width="0.35" opacity="0.85"/>
<polyline points="502.80,225.20 503.70,226.00 502.80,226.80" fill="none" stroke="#2b3a86" stroke-width="0.35" opacity="0.85"/>
<text x="490.00" y="232.86" font-size="4.6" fill="#e6b070" textLength="12.00" lengthAdjust="spacingAndGlyphs">SSPO</text>
<rect x="388.00" y="233.45" width="25.00" height="1.90" fill="#4f9a2a"/>
<line x1="274.50" y1="246.20" x2="506.60" y2="246.20" stroke="#c46c84" stroke-width="0.9"/>
<line x1="274.50" y1="254.30" x2="506.60" y2="254.30" stroke="#c46c84" stroke-width="0.9"/>
<line x1="274.50" y1="262.20" x2="506.60" y2="262.20" stroke="#c46c84" stroke-width="0.9"/>
<line x1="274.50" y1="272.30" x2="506.60" y2="272.30" stroke="#a0aaa6" stroke-width="0.9"/>
<line x1="274.50" y1="280.60" x2="506.60" y2="280.60" stroke="#a0aaa6" stroke-width="0.9"/>
<polygon points="294.75,246.50 295.05,243.20 295.55,243.20 295.95,246.50" fill="#6e1a30"/>
<polygon points="294.75,254.60 295.05,251.30 295.55,251.30 295.95,254.60" fill="#6e1a30"/>
<polygon points="294.75,262.50 295.05,259.20 295.55,259.20 295.95,262.50" fill="#6e1a30"/>
<polygon points="294.75,272.60 295.05,268.30 295.55,268.30 295.95,272.60" fill="#1d5a3e"/>
<polygon points="294.75,280.90 295.05,276.60 295.55,276.60 295.95,280.90" fill="#1d5a3e"/>
<polygon points="316.25,246.50 316.55,240.70 317.05,240.70 317.45,246.50" fill="#6e1a30"/>
<polygon points="316.25,254.60 316.55,248.80 317.05,248.80 317.45,254.60" fill="#6e1a30"/>
<polygon points="316.25,262.50 316.55,256.70 317.05,256.70 317.45,262.50" fill="#6e1a30"/>
<polygon points="316.25,272.60 316.55,268.30 317.05,268.30 317.45,272.60" fill="#1d5a3e"/>
<polygon points="316.25,280.90 316.55,276.60 317.05,276.60 317.45,280.90" fill="#1d5a3e"/>
<polygon points="376.05,246.50 376.35,243.20 376.85,243.20 377.25,246.50" fill="#6e1a30"/>
<polygon points="376.05,254.60 376.35,251.80 376.85,251.80 377.25,254.60" fill="#6e1a30"/>
<polygon points="376.05,262.50 376.35,259.20 376.85,259.20 377.25,262.50" fill="#6e1a30"/>
<polygon points="376.05,272.60 376.35,271.80 376.85,271.80 377.25,272.60" fill="#1d5a3e"/>
<polygon points="376.05,280.90 376.35,280.10 376.85,280.10 377.25,280.90" fill="#1d5a3e"/>
<polygon points="388.95,246.50 389.25,242.20 389.75,242.20 390.15,246.50" fill="#6e1a30"/>
<polygon points="388.95,254.60 389.25,250.30 389.75,250.30 390.15,254.60" fill="#6e1a30"/>
<polygon points="388.95,262.50 389.25,258.20 389.75,258.20 390.15,262.50" fill="#6e1a30"/>
<polygon points="388.95,272.60 389.25,268.30 389.75,268.30 390.15,272.60" fill="#1d5a3e"/>
<polygon points="388.95,280.90 389.25,276.60 389.75,276.60 390.15,280.90" fill="#1d5a3e"/>
<polygon points="441.45,246.50 441.75,241.20 442.25,241.20 442.65,246.50" fill="#6e1a30"/>
<polygon points="441.45,254.60 441.75,249.30 442.25,249.30 442.65,254.60" fill="#6e1a30"/>
<polygon points="441.45,262.50 441.75,257.20 442.25,257.20 442.65,262.50" fill="#6e1a30"/>
<polygon points="441.45,272.60 441.75,268.30 442.25,268.30 442.65,272.60" fill="#1d5a3e"/>
<polygon points="441.45,280.90 441.75,276.60 442.25,276.60 442.65,280.90" fill="#1d5a3e"/>
<polygon points="474.05,246.50 474.35,244.20 474.85,244.20 475.25,246.50" fill="#6e1a30"/>
<polygon points="474.05,254.60 474.35,252.30 474.85,252.30 475.25,254.60" fill="#6e1a30"/>
<polygon points="474.05,262.50 474.35,260.20 474.85,260.20 475.25,262.50" fill="#6e1a30"/>
<polygon points="474.05,272.60 474.35,271.30 474.85,271.30 475.25,272.60" fill="#1d5a3e"/>
<polygon points="474.05,280.90 474.35,279.60 474.85,279.60 475.25,280.90" fill="#1d5a3e"/>
<polygon points="339.45,246.50 339.75,245.80 340.25,245.80 340.65,246.50" fill="#6e1a30"/>
<polygon points="339.45,254.60 339.75,253.90 340.25,253.90 340.65,254.60" fill="#6e1a30"/>
<polygon points="339.45,262.50 339.75,261.80 340.25,261.80 340.65,262.50" fill="#6e1a30"/>
<polygon points="339.45,272.60 339.75,272.00 340.25,272.00 340.65,272.60" fill="#1d5a3e"/>
<polygon points="339.45,280.90 339.75,280.30 340.25,280.30 340.65,280.90" fill="#1d5a3e"/>
<polygon points="419.45,246.50 419.75,245.80 420.25,245.80 420.65,246.50" fill="#6e1a30"/>
<polygon points="419.45,254.60 419.75,253.90 420.25,253.90 420.65,254.60" fill="#6e1a30"/>
<polygon points="419.45,262.50 419.75,261.80 420.25,261.80 420.65,262.50" fill="#6e1a30"/>
<polygon points="419.45,272.60 419.75,272.00 420.25,272.00 420.65,272.60" fill="#1d5a3e"/>
<polygon points="419.45,280.90 419.75,280.30 420.25,280.30 420.65,280.90" fill="#1d5a3e"/>
<text x="136.10" y="297.20" font-size="7.4" fill="#3a3a3a" textLength="19.20" lengthAdjust="spacingAndGlyphs" stroke="#3a3a3a" stroke-width="0.16">GSH 7</text>
<text x="43.10" y="299.80" font-size="5.6" fill="#2a2a2a" textLength="11.10" lengthAdjust="spacingAndGlyphs">chr1</text>
<linearGradient id="tg7" gradientUnits="userSpaceOnUse" x1="0" y1="304.80" x2="0" y2="317.50"><stop offset="0" stop-color="#d4d4d4"/><stop offset="1" stop-color="#c4c4c4"/></linearGradient>
<polygon points="42.00,317.50 251.20,304.80 252.80,304.80 266.70,317.50" fill="url(#tg7)"/>
<rect x="42.00" y="302.20" width="225.50" height="2.60" fill="#fff" rx="1"/>
<rect x="42.40" y="302.20" width="15.60" height="2.60" fill="#2e2e2e"/>
<line x1="42.90" y1="303.50" x2="57.50" y2="303.50" stroke="#e8e8e8" stroke-width="0.8" stroke-dasharray="1.2,1.6"/>
<rect x="60.00" y="302.20" width="8.00" height="2.60" fill="#2e2e2e"/>
<line x1="60.50" y1="303.50" x2="67.50" y2="303.50" stroke="#e8e8e8" stroke-width="0.8" stroke-dasharray="1.2,1.6"/>
<rect x="70.00" y="302.20" width="14.00" height="2.60" fill="#2e2e2e"/>
<line x1="70.50" y1="303.50" x2="83.50" y2="303.50" stroke="#e8e8e8" stroke-width="0.8" stroke-dasharray="1.2,1.6"/>
<rect x="84.00" y="302.20" width="2.00" height="2.60" fill="#151515"/>
<rect x="90.00" y="302.20" width="7.70" height="2.60" fill="#2e2e2e"/>
<line x1="90.50" y1="303.50" x2="97.20" y2="303.50" stroke="#e8e8e8" stroke-width="0.8" stroke-dasharray="1.2,1.6"/>
<rect x="97.70" y="302.20" width="21.60" height="2.60" fill="#151515"/>
<rect x="123.00" y="302.20" width="3.50" height="2.60" fill="#151515"/>
<rect x="131.30" y="302.20" width="9.70" height="2.60" fill="#151515"/>
<rect x="145.80" y="302.20" width="7.20" height="2.60" fill="#9a9a9a"/>
<rect x="153.00" y="302.20" width="2.50" height="2.60" fill="#2e2e2e"/>
<line x1="153.50" y1="303.50" x2="155.00" y2="303.50" stroke="#e8e8e8" stroke-width="0.8" stroke-dasharray="1.2,1.6"/>
<rect x="169.20" y="302.20" width="3.60" height="2.60" fill="#9a9a9a"/>
<rect x="172.80" y="302.20" width="6.00" height="2.60" fill="#151515"/>
<rect x="183.60" y="302.20" width="7.30" height="2.60" fill="#151515"/>
<rect x="198.00" y="302.20" width="9.70" height="2.60" fill="#2e2e2e"/>
<line x1="198.50" y1="303.50" x2="207.20" y2="303.50" stroke="#e8e8e8" stroke-width="0.8" stroke-dasharray="1.2,1.6"/>
<rect x="212.50" y="302.20" width="7.20" height="2.60" fill="#151515"/>
<rect x="222.00" y="302.20" width="12.00" height="2.60" fill="#2e2e2e"/>
<line x1="222.50" y1="303.50" x2="233.50" y2="303.50" stroke="#e8e8e8" stroke-width="0.8" stroke-dasharray="1.2,1.6"/>
<rect x="234.00" y="302.20" width="7.30" height="2.60" fill="#151515"/>
<rect x="246.00" y="302.20" width="3.80" height="2.60" fill="#9a9a9a"/>
<rect x="249.80" y="302.20" width="4.80" height="2.60" fill="#3a2028"/>
<rect x="254.60" y="302.20" width="7.20" height="2.60" fill="#151515"/>
<rect x="42.00" y="302.20" width="225.50" height="2.60" fill="none" stroke="#111" stroke-width="0.6" rx="1"/>
<rect x="152.90" y="301.80" width="9.20" height="3.40" fill="#fff"/>
<polygon points="152.90,302.20 156.90,303.50 152.90,304.80" fill="#52202c"/>
<polygon points="162.10,302.20 158.10,303.50 162.10,304.80" fill="#2a1a1e"/>
<rect x="250.40" y="301.00" width="3.2" height="5.00" fill="none" stroke="#e8607a" stroke-width="0.4" opacity="0.7"/>
<line x1="42.00" y1="317.50" x2="266.70" y2="317.50" stroke="#262626" stroke-width="1.3"/>
<line x1="42.00" y1="316.00" x2="42.00" y2="319.00" stroke="#2a2a2a" stroke-width="1.0"/>
<line x1="266.70" y1="316.00" x2="266.70" y2="319.00" stroke="#2a2a2a" stroke-width="1.0"/>
<polygon points="156.46,312.74 152.64,317.93 154.25,317.93 151.02,322.26 154.16,317.07 152.55,317.07" fill="#1a1012" stroke="#1a1012" stroke-width="0.85" stroke-linejoin="round"/>
<text x="117.00" y="322.73" font-size="4.8" fill="#1a1a1a" textLength="12.70" lengthAdjust="spacingAndGlyphs">200 kb</text>
<text x="200.00" y="322.53" font-size="4.8" fill="#1a1a1a" textLength="12.70" lengthAdjust="spacingAndGlyphs">200 kb</text>
<line x1="44.00" y1="327.00" x2="91.40" y2="327.00" stroke="#2b3a86" stroke-width="0.6"/>
<polyline points="46.40,326.20 47.30,327.00 46.40,327.80" fill="none" stroke="#2b3a86" stroke-width="0.35" opacity="0.85"/>
<polyline points="49.00,326.20 49.90,327.00 49.00,327.80" fill="none" stroke="#2b3a86" stroke-width="0.35" opacity="0.85"/>
<polyline points="51.60,326.20 52.50,327.00 51.60,327.80" fill="none" stroke="#2b3a86" stroke-width="0.35" opacity="0.85"/>
<polyline points="54.20,326.20 55.10,327.00 54.20,327.80" fill="none" stroke="#2b3a86" stroke-width="0.35" opacity="0.85"/>
<polyline points="56.80,326.20 57.70,327.00 56.80,327.80" fill="none" stroke="#2b3a86" stroke-width="0.35" opacity="0.85"/>
<polyline points="59.40,326.20 60.30,327.00 59.40,327.80" fill="none" stroke="#2b3a86" stroke-width="0.35" opacity="0.85"/>
<polyline points="62.00,326.20 62.90,327.00 62.00,327.80" fill="none" stroke="#2b3a86" stroke-width="0.35" opacity="0.85"/>
<polyline points="64.60,326.20 65.50,327.00 64.60,327.80" fill="none" stroke="#2b3a86" stroke-width="0.35" opacity="0.85"/>
<polyline points="67.20,326.20 68.10,327.00 67.20,327.80" fill="none" stroke="#2b3a86" stroke-width="0.35" opacity="0.85"/>
<polyline points="69.80,326.20 70.70,327.00 69.80,327.80" fill="none" stroke="#2b3a86" stroke-width="0.35" opacity="0.85"/>
<polyline points="72.40,326.20 73.30,327.00 72.40,327.80" fill="none" stroke="#2b3a86" stroke-width="0.35" opacity="0.85"/>
<polyline points="75.00,326.20 75.90,327.00 75.00,327.80" fill="none" stroke="#2b3a86" stroke-width="0.35" opacity="0.85"/>
<polyline points="77.60,326.20 78.50,327.00 77.60,327.80" fill="none" stroke="#2b3a86" stroke-width="0.35" opacity="0.85"/>
<polyline points="80.20,326.20 81.10,327.00 80.20,327.80" fill="none" stroke="#2b3a86" stroke-width="0.35" opacity="0.85"/>
<polyline points="82.80,326.20 83.70,327.00 82.80,327.80" fill="none" stroke="#2b3a86" stroke-width="0.35" opacity="0.85"/>
<polyline points="85.40,326.20 86.30,327.00 85.40,327.80" fill="none" stroke="#2b3a86" stroke-width="0.35" opacity="0.85"/>
<polyline points="88.00,326.20 88.90,327.00 88.00,327.80" fill="none" stroke="#2b3a86" stroke-width="0.35" opacity="0.85"/>
<rect x="44.00" y="325.90" width="2.00" height="2.20" fill="#2b3a86"/>
<rect x="50.00" y="325.90" width="2.50" height="2.20" fill="#2b3a86"/>
<rect x="57.00" y="325.90" width="2.00" height="2.20" fill="#2b3a86"/>
<rect x="64.00" y="325.90" width="2.00" height="2.20" fill="#2b3a86"/>
<rect x="70.00" y="325.90" width="2.00" height="2.20" fill="#2b3a86"/>
<rect x="76.00" y="325.90" width="2.00" height="2.20" fill="#2b3a86"/>
<rect x="89.80" y="325.90" width="1.60" height="2.20" fill="#2b3a86"/>
<text x="60.50" y="332.36" font-size="4.6" fill="#2b3a86" textLength="19.50" lengthAdjust="spacingAndGlyphs">SIPA1L2</text>
<line x1="194.40" y1="324.40" x2="194.40" y2="326.60" stroke="#e6b070" stroke-width="0.7"/>
<text x="169.00" y="332.86" font-size="4.6" fill="#e6b070" textLength="27.00" lengthAdjust="spacingAndGlyphs">RNU6-1211P</text>
<line x1="208.00" y1="325.50" x2="214.40" y2="325.50" stroke="#2b3a86" stroke-width="0.6"/>
<rect x="208.00" y="324.40" width="2.00" height="2.20" fill="#2b3a86"/>
<rect x="212.00" y="324.40" width="2.40" height="2.20" fill="#2b3a86"/>
<text x="196.00" y="332.86" font-size="4.6" fill="#6f9fd8" textLength="19.70" lengthAdjust="spacingAndGlyphs">LINC01745</text>
<text x="215.70" y="332.86" font-size="4.6" fill="#6f9fd8" textLength="23.30" lengthAdjust="spacingAndGlyphs">LINC01744</text>
<polygon points="250.30,325.40 252.50,326.80 250.30,328.20" fill="#2b3a86"/>
<text x="249.50" y="332.86" font-size="4.6" fill="#2b3a86" textLength="15.50" lengthAdjust="spacingAndGlyphs">MAP10</text>
<rect x="144.30" y="333.55" width="21.50" height="1.90" fill="#4f9a2a"/>
<line x1="43.60" y1="344.30" x2="266.70" y2="344.30" stroke="#c46c84" stroke-width="0.9"/>
<line x1="43.60" y1="352.40" x2="266.70" y2="352.40" stroke="#c46c84" stroke-width="0.9"/>
<line x1="43.60" y1="360.20" x2="266.70" y2="360.20" stroke="#c46c84" stroke-width="0.9"/>
<line x1="43.60" y1="370.50" x2="266.70" y2="370.50" stroke="#a0aaa6" stroke-width="0.9"/>
<line x1="43.60" y1="377.60" x2="266.70" y2="377.60" stroke="#a0aaa6" stroke-width="0.9"/>
<polygon points="154.15,344.60 154.45,339.30 154.95,339.30 155.35,344.60" fill="#6e1a30"/>
<polygon points="154.15,352.70 154.45,347.40 154.95,347.40 155.35,352.70" fill="#6e1a30"/>
<polygon points="154.15,360.50 154.45,355.20 154.95,355.20 155.35,360.50" fill="#6e1a30"/>
<polygon points="154.15,370.80 154.45,367.50 154.95,367.50 155.35,370.80" fill="#1d5a3e"/>
<polygon points="154.15,377.90 154.45,374.60 154.95,374.60 155.35,377.90" fill="#1d5a3e"/>
<polygon points="251.05,344.60 251.35,341.80 251.85,341.80 252.25,344.60" fill="#6e1a30"/>
<polygon points="251.05,352.70 251.35,350.40 251.85,350.40 252.25,352.70" fill="#6e1a30"/>
<polygon points="251.05,360.50 251.35,357.70 251.85,357.70 252.25,360.50" fill="#6e1a30"/>
<polygon points="251.05,370.80 251.35,369.50 251.85,369.50 252.25,370.80" fill="#1d5a3e"/>
<polygon points="251.05,377.90 251.35,376.60 251.85,376.60 252.25,377.90" fill="#1d5a3e"/>
<polygon points="59.45,344.60 59.75,343.80 60.25,343.80 60.65,344.60" fill="#6e1a30"/>
<polygon points="59.45,352.70 59.75,352.10 60.25,352.10 60.65,352.70" fill="#6e1a30"/>
<polygon points="59.45,360.50 59.75,359.90 60.25,359.90 60.65,360.50" fill="#6e1a30"/>
<polygon points="209.45,344.60 209.75,344.00 210.25,344.00 210.65,344.60" fill="#6e1a30"/>
<polygon points="209.45,352.70 209.75,352.10 210.25,352.10 210.65,352.70" fill="#6e1a30"/>
<polygon points="209.45,360.50 209.75,359.90 210.25,359.90 210.65,360.50" fill="#6e1a30"/>
<polygon points="209.45,370.80 209.75,370.20 210.25,370.20 210.65,370.80" fill="#1d5a3e"/>
<polygon points="209.45,377.90 209.75,377.30 210.25,377.30 210.65,377.90" fill="#1d5a3e"/>
<polygon points="241.45,370.80 241.75,370.00 242.25,370.00 242.65,370.80" fill="#1d5a3e"/>
<polygon points="241.45,377.90 241.75,377.10 242.25,377.10 242.65,377.90" fill="#1d5a3e"/>
<text x="14.30" y="328.80" font-size="5" fill="#3b4a8c" textLength="27.30" lengthAdjust="spacingAndGlyphs">RefSeq Genes</text>
<text x="14.30" y="336.00" font-size="5" fill="#7cb25a" textLength="25.50" lengthAdjust="spacingAndGlyphs">eGSH region</text>
<text x="14.90" y="345.50" font-size="5" fill="#a8304c" textLength="25.90" lengthAdjust="spacingAndGlyphs">Donor 2 CD3</text>
<text x="14.90" y="353.60" font-size="5" fill="#a8304c" textLength="25.90" lengthAdjust="spacingAndGlyphs">Donor 2 CD4</text>
<text x="14.90" y="361.40" font-size="5" fill="#a8304c" textLength="25.90" lengthAdjust="spacingAndGlyphs">Donor 2 CD8</text>
<text x="14.90" y="371.70" font-size="5" fill="#3f6f58" textLength="25.90" lengthAdjust="spacingAndGlyphs">Corces, CD4</text>
<text x="14.90" y="378.80" font-size="5" fill="#3f6f58" textLength="25.90" lengthAdjust="spacingAndGlyphs">Corces, CD8</text>
<polyline points="14.30,339.80 12.30,339.80 12.30,361.70 14.30,361.70" fill="none" stroke="#b03552" stroke-width="0.7"/>
<polyline points="14.30,366.00 12.30,366.00 12.30,379.10 14.30,379.10" fill="none" stroke="#3f7a5e" stroke-width="0.7"/>
<text transform="translate(7.80,349.75) rotate(-90)" text-anchor="middle" font-size="6.2" fill="#b8405c" textLength="23.5" lengthAdjust="spacingAndGlyphs">Activated</text>
<text transform="translate(7.80,374.35) rotate(-90)" text-anchor="middle" font-size="6.2" fill="#4a6a5a" textLength="18.8" lengthAdjust="spacingAndGlyphs">Resting</text>
<text x="376.30" y="297.60" font-size="7.4" fill="#3a3a3a" textLength="22.60" lengthAdjust="spacingAndGlyphs" stroke="#3a3a3a" stroke-width="0.16">GSH 12</text>
<text x="274.00" y="299.80" font-size="5.6" fill="#2a2a2a" textLength="12.10" lengthAdjust="spacingAndGlyphs">chr6</text>
<linearGradient id="tg8" gradientUnits="userSpaceOnUse" x1="0" y1="304.60" x2="0" y2="317.70"><stop offset="0" stop-color="#d4d4d4"/><stop offset="1" stop-color="#c4c4c4"/></linearGradient>
<polygon points="273.20,317.70 465.20,304.60 466.80,304.60 503.20,317.70" fill="url(#tg8)"/>
<rect x="273.20" y="302.00" width="234.40" height="2.60" fill="#fff" rx="1"/>
<rect x="273.50" y="302.00" width="20.50" height="2.60" fill="#ffffff"/>
<line x1="274.00" y1="303.30" x2="293.50" y2="303.30" stroke="#777" stroke-width="0.9" stroke-dasharray="1.4,1.2"/>
<rect x="294.00" y="302.00" width="13.50" height="2.60" fill="#151515"/>
<rect x="309.00" y="302.00" width="26.00" height="2.60" fill="#ffffff"/>
<line x1="309.50" y1="303.30" x2="334.50" y2="303.30" stroke="#777" stroke-width="0.9" stroke-dasharray="1.4,1.2"/>
<rect x="335.00" y="302.00" width="9.50" height="2.60" fill="#151515"/>
<rect x="347.00" y="302.00" width="4.70" height="2.60" fill="#151515"/>
<rect x="359.00" y="302.00" width="9.50" height="2.60" fill="#151515"/>
<rect x="376.00" y="302.00" width="4.00" height="2.60" fill="#2e2e2e"/>
<line x1="376.50" y1="303.30" x2="379.50" y2="303.30" stroke="#e8e8e8" stroke-width="0.8" stroke-dasharray="1.2,1.6"/>
<rect x="382.00" y="302.00" width="4.00" height="2.60" fill="#9a9a9a"/>
<rect x="388.00" y="302.00" width="5.00" height="2.60" fill="#2e2e2e"/>
<line x1="388.50" y1="303.30" x2="392.50" y2="303.30" stroke="#e8e8e8" stroke-width="0.8" stroke-dasharray="1.2,1.6"/>
<rect x="400.80" y="302.00" width="8.40" height="2.60" fill="#151515"/>
<rect x="411.60" y="302.00" width="4.80" height="2.60" fill="#151515"/>
<rect x="418.00" y="302.00" width="7.00" height="2.60" fill="#9a9a9a"/>
<rect x="430.90" y="302.00" width="14.40" height="2.60" fill="#151515"/>
<rect x="445.30" y="302.00" width="3.70" height="2.60" fill="#9a9a9a"/>
<rect x="449.00" y="302.00" width="8.30" height="2.60" fill="#2e2e2e"/>
<line x1="449.50" y1="303.30" x2="456.80" y2="303.30" stroke="#e8e8e8" stroke-width="0.8" stroke-dasharray="1.2,1.6"/>
<rect x="462.00" y="302.00" width="7.30" height="2.60" fill="#3a2028"/>
<rect x="473.00" y="302.00" width="3.50" height="2.60" fill="#151515"/>
<rect x="481.00" y="302.00" width="5.00" height="2.60" fill="#9a9a9a"/>
<rect x="493.00" y="302.00" width="5.00" height="2.60" fill="#9a9a9a"/>
<rect x="273.20" y="302.00" width="234.40" height="2.60" fill="none" stroke="#111" stroke-width="0.6" rx="1"/>
<rect x="352.40" y="301.60" width="9.20" height="3.40" fill="#fff"/>
<polygon points="352.40,302.00 356.40,303.30 352.40,304.60" fill="#52202c"/>
<polygon points="361.60,302.00 357.60,303.30 361.60,304.60" fill="#2a1a1e"/>
<rect x="464.40" y="300.80" width="3.2" height="5.00" fill="none" stroke="#e8607a" stroke-width="0.4" opacity="0.7"/>
<line x1="273.20" y1="317.70" x2="503.20" y2="317.70" stroke="#262626" stroke-width="1.3"/>
<line x1="273.20" y1="316.20" x2="273.20" y2="319.20" stroke="#2a2a2a" stroke-width="1.0"/>
<line x1="503.20" y1="316.20" x2="503.20" y2="319.20" stroke="#2a2a2a" stroke-width="1.0"/>
<polygon points="391.06,312.94 387.24,318.12 388.85,318.12 385.62,322.46 388.76,317.27 387.15,317.27" fill="#1a1012" stroke="#1a1012" stroke-width="0.85" stroke-linejoin="round"/>
<text x="351.00" y="322.73" font-size="4.8" fill="#1a1a1a" textLength="12.70" lengthAdjust="spacingAndGlyphs">200 kb</text>
<text x="434.40" y="322.73" font-size="4.8" fill="#1a1a1a" textLength="12.70" lengthAdjust="spacingAndGlyphs">200 kb</text>
<circle cx="456.4" cy="326.8" r="0.9" fill="#111"/>
<text x="446.00" y="332.86" font-size="4.6" fill="#6f9fd8" textLength="26.00" lengthAdjust="spacingAndGlyphs">RP11-63E1.1</text>
<line x1="477.20" y1="325.70" x2="477.20" y2="327.90" stroke="#e6b070" stroke-width="0.7"/>
<text x="473.30" y="332.86" font-size="4.6" fill="#e6b070" textLength="23.40" lengthAdjust="spacingAndGlyphs">RNU6P106</text>
<rect x="273.70" y="333.40" width="152.90" height="2.20" fill="#4f9a2a"/>
<line x1="273.20" y1="343.20" x2="501.90" y2="343.20" stroke="#c46c84" stroke-width="0.9"/>
<line x1="273.20" y1="351.10" x2="501.90" y2="351.10" stroke="#c46c84" stroke-width="0.9"/>
<line x1="273.20" y1="359.60" x2="501.90" y2="359.60" stroke="#c46c84" stroke-width="0.9"/>
<line x1="273.20" y1="370.30" x2="501.90" y2="370.30" stroke="#a0aaa6" stroke-width="0.9"/>
<line x1="273.20" y1="377.40" x2="501.90" y2="377.40" stroke="#a0aaa6" stroke-width="0.9"/>
<polygon points="288.25,343.50 288.55,341.70 289.05,341.70 289.45,343.50" fill="#6e1a30"/>
<polygon points="288.25,351.40 288.55,350.10 289.05,350.10 289.45,351.40" fill="#6e1a30"/>
<polygon points="288.25,359.90 288.55,358.60 289.05,358.60 289.45,359.90" fill="#6e1a30"/>
<polygon points="288.25,370.60 288.55,368.80 289.05,368.80 289.45,370.60" fill="#1d5a3e"/>
<polygon points="288.25,377.70 288.55,376.40 289.05,376.40 289.45,377.70" fill="#1d5a3e"/>
<polygon points="387.05,343.50 387.35,338.20 387.85,338.20 388.25,343.50" fill="#6e1a30"/>
<polygon points="387.05,351.40 387.35,346.60 387.85,346.60 388.25,351.40" fill="#6e1a30"/>
<polygon points="387.05,359.90 387.35,354.60 387.85,354.60 388.25,359.90" fill="#6e1a30"/>
<polygon points="387.05,370.60 387.35,367.80 387.85,367.80 388.25,370.60" fill="#1d5a3e"/>
<polygon points="387.05,377.70 387.35,375.40 387.85,375.40 388.25,377.70" fill="#1d5a3e"/>
<polygon points="475.35,343.50 475.65,337.70 476.15,337.70 476.55,343.50" fill="#6e1a30"/>
<polygon points="475.35,351.40 475.65,346.10 476.15,346.10 476.55,351.40" fill="#6e1a30"/>
<polygon points="475.35,359.90 475.65,354.10 476.15,354.10 476.55,359.90" fill="#6e1a30"/>
<polygon points="475.35,370.60 475.65,364.30 476.15,364.30 476.55,370.60" fill="#1d5a3e"/>
<polygon points="475.35,377.70 475.65,372.90 476.15,372.90 476.55,377.70" fill="#1d5a3e"/>
<polygon points="464.95,370.60 465.25,369.30 465.75,369.30 466.15,370.60" fill="#1d5a3e"/>
<polygon points="464.95,377.70 465.25,376.40 465.75,376.40 466.15,377.70" fill="#1d5a3e"/>
<text x="137.00" y="394.10" font-size="7.4" fill="#3a3a3a" textLength="22.60" lengthAdjust="spacingAndGlyphs" stroke="#3a3a3a" stroke-width="0.16">GSH 20</text>
<text x="43.50" y="399.60" font-size="5.6" fill="#2a2a2a" textLength="15.30" lengthAdjust="spacingAndGlyphs">chr10</text>
<linearGradient id="tg9" gradientUnits="userSpaceOnUse" x1="0" y1="404.80" x2="0" y2="419.00"><stop offset="0" stop-color="#d4d4d4"/><stop offset="1" stop-color="#c4c4c4"/></linearGradient>
<polygon points="42.90,419.00 112.20,404.80 113.80,404.80 268.50,419.00" fill="url(#tg9)"/>
<rect x="42.90" y="402.20" width="226.10" height="2.60" fill="#fff" rx="1"/>
<rect x="43.00" y="402.20" width="4.00" height="2.60" fill="#ffffff"/>
<line x1="43.50" y1="403.50" x2="46.50" y2="403.50" stroke="#777" stroke-width="0.9" stroke-dasharray="1.4,1.2"/>
<rect x="47.20" y="402.20" width="7.20" height="2.60" fill="#151515"/>
<rect x="59.20" y="402.20" width="3.80" height="2.60" fill="#151515"/>
<rect x="72.30" y="402.20" width="7.00" height="2.60" fill="#151515"/>
<rect x="82.70" y="402.20" width="9.30" height="2.60" fill="#ffffff"/>
<line x1="83.20" y1="403.50" x2="91.50" y2="403.50" stroke="#777" stroke-width="0.9" stroke-dasharray="1.4,1.2"/>
<rect x="95.40" y="402.20" width="10.40" height="2.60" fill="#151515"/>
<rect x="116.00" y="402.20" width="14.00" height="2.60" fill="#ffffff"/>
<line x1="116.50" y1="403.50" x2="129.50" y2="403.50" stroke="#777" stroke-width="0.9" stroke-dasharray="1.4,1.2"/>
<rect x="130.00" y="402.20" width="30.80" height="2.60" fill="#151515"/>
<rect x="167.70" y="402.20" width="4.60" height="2.60" fill="#2e2e2e"/>
<line x1="168.20" y1="403.50" x2="171.80" y2="403.50" stroke="#e8e8e8" stroke-width="0.8" stroke-dasharray="1.2,1.6"/>
<rect x="180.40" y="402.20" width="11.60" height="2.60" fill="#151515"/>
<rect x="194.00" y="402.20" width="4.90" height="2.60" fill="#151515"/>
<rect x="198.90" y="402.20" width="8.10" height="2.60" fill="#ffffff"/>
<line x1="199.40" y1="403.50" x2="206.50" y2="403.50" stroke="#777" stroke-width="0.9" stroke-dasharray="1.4,1.2"/>
<rect x="207.00" y="402.20" width="8.00" height="2.60" fill="#2e2e2e"/>
<line x1="207.50" y1="403.50" x2="214.50" y2="403.50" stroke="#e8e8e8" stroke-width="0.8" stroke-dasharray="1.2,1.6"/>
<rect x="215.00" y="402.20" width="14.00" height="2.60" fill="#151515"/>
<rect x="234.70" y="402.20" width="8.10" height="2.60" fill="#151515"/>
<rect x="247.40" y="402.20" width="6.90" height="2.60" fill="#ffffff"/>
<line x1="247.90" y1="403.50" x2="253.80" y2="403.50" stroke="#777" stroke-width="0.9" stroke-dasharray="1.4,1.2"/>
<rect x="262.40" y="402.20" width="6.10" height="2.60" fill="#ffffff"/>
<line x1="262.90" y1="403.50" x2="268.00" y2="403.50" stroke="#777" stroke-width="0.9" stroke-dasharray="1.4,1.2"/>
<rect x="42.90" y="402.20" width="226.10" height="2.60" fill="none" stroke="#111" stroke-width="0.6" rx="1"/>
<rect x="105.40" y="401.80" width="9.20" height="3.40" fill="#fff"/>
<polygon points="105.40,402.20 109.40,403.50 105.40,404.80" fill="#52202c"/>
<polygon points="114.60,402.20 110.60,403.50 114.60,404.80" fill="#2a1a1e"/>
<rect x="111.40" y="401.00" width="3.2" height="5.00" fill="none" stroke="#e8607a" stroke-width="0.4" opacity="0.7"/>
<line x1="42.90" y1="419.00" x2="268.50" y2="419.00" stroke="#262626" stroke-width="1.3"/>
<line x1="42.90" y1="417.50" x2="42.90" y2="420.50" stroke="#2a2a2a" stroke-width="1.0"/>
<line x1="268.50" y1="417.50" x2="268.50" y2="420.50" stroke="#2a2a2a" stroke-width="1.0"/>
<polygon points="158.56,414.24 154.74,419.43 156.35,419.43 153.12,423.76 156.26,418.57 154.65,418.57" fill="#1a1012" stroke="#1a1012" stroke-width="0.85" stroke-linejoin="round"/>
<text x="120.00" y="424.43" font-size="4.8" fill="#1a1a1a" textLength="12.70" lengthAdjust="spacingAndGlyphs">200 kb</text>
<text x="202.20" y="424.43" font-size="4.8" fill="#1a1a1a" textLength="12.70" lengthAdjust="spacingAndGlyphs">200 kb</text>
<line x1="43.60" y1="429.20" x2="53.20" y2="429.20" stroke="#2b3a86" stroke-width="0.6"/>
<polyline points="46.00,428.40 46.90,429.20 46.00,430.00" fill="none" stroke="#2b3a86" stroke-width="0.35" opacity="0.85"/>
<polyline points="48.60,428.40 49.50,429.20 48.60,430.00" fill="none" stroke="#2b3a86" stroke-width="0.35" opacity="0.85"/>
<line x1="53.20" y1="428.10" x2="53.20" y2="430.30" stroke="#2b3a86" stroke-width="0.7"/>
<text x="40.30" y="436.26" font-size="4.6" fill="#e6b070" textLength="24.10" lengthAdjust="spacingAndGlyphs">LOC441666</text>
<line x1="75.30" y1="429.20" x2="107.80" y2="429.20" stroke="#2b3a86" stroke-width="0.6"/>
<polyline points="77.70,428.40 78.60,429.20 77.70,430.00" fill="none" stroke="#2b3a86" stroke-width="0.35" opacity="0.85"/>
<polyline points="80.30,428.40 81.20,429.20 80.30,430.00" fill="none" stroke="#2b3a86" stroke-width="0.35" opacity="0.85"/>
<polyline points="82.90,428.40 83.80,429.20 82.90,430.00" fill="none" stroke="#2b3a86" stroke-width="0.35" opacity="0.85"/>
<polyline points="85.50,428.40 86.40,429.20 85.50,430.00" fill="none" stroke="#2b3a86" stroke-width="0.35" opacity="0.85"/>
<polyline points="88.10,428.40 89.00,429.20 88.10,430.00" fill="none" stroke="#2b3a86" stroke-width="0.35" opacity="0.85"/>
<polyline points="90.70,428.40 91.60,429.20 90.70,430.00" fill="none" stroke="#2b3a86" stroke-width="0.35" opacity="0.85"/>
<polyline points="93.30,428.40 94.20,429.20 93.30,430.00" fill="none" stroke="#2b3a86" stroke-width="0.35" opacity="0.85"/>
<polyline points="95.90,428.40 96.80,429.20 95.90,430.00" fill="none" stroke="#2b3a86" stroke-width="0.35" opacity="0.85"/>
<polyline points="98.50,428.40 99.40,429.20 98.50,430.00" fill="none" stroke="#2b3a86" stroke-width="0.35" opacity="0.85"/>
<polyline points="101.10,428.40 102.00,429.20 101.10,430.00" fill="none" stroke="#2b3a86" stroke-width="0.35" opacity="0.85"/>
<polyline points="103.70,428.40 104.60,429.20 103.70,430.00" fill="none" stroke="#2b3a86" stroke-width="0.35" opacity="0.85"/>
<rect x="75.30" y="428.10" width="1.70" height="2.20" fill="#2b3a86"/>
<rect x="84.00" y="428.10" width="2.00" height="2.20" fill="#2b3a86"/>
<rect x="100.00" y="428.10" width="2.00" height="2.20" fill="#2b3a86"/>
<rect x="105.00" y="428.10" width="2.80" height="2.20" fill="#2b3a86"/>
<line x1="107.80" y1="428.10" x2="107.80" y2="430.30" stroke="#2b3a86" stroke-width="0.7"/>
<text x="85.20" y="436.26" font-size="4.6" fill="#e6b070" textLength="16.60" lengthAdjust="spacingAndGlyphs">CCNYL2</text>
<line x1="111.70" y1="429.20" x2="123.00" y2="429.20" stroke="#2b3a86" stroke-width="0.6"/>
<polyline points="114.10,428.40 115.00,429.20 114.10,430.00" fill="none" stroke="#2b3a86" stroke-width="0.35" opacity="0.85"/>
<polyline points="116.70,428.40 117.60,429.20 116.70,430.00" fill="none" stroke="#2b3a86" stroke-width="0.35" opacity="0.85"/>
<polyline points="119.30,428.40 120.20,429.20 119.30,430.00" fill="none" stroke="#2b3a86" stroke-width="0.35" opacity="0.85"/>
<rect x="112.00" y="428.10" width="2.00" height="2.20" fill="#2b3a86"/>
<rect x="117.00" y="428.10" width="2.50" height="2.20" fill="#2b3a86"/>
<rect x="121.50" y="428.10" width="1.50" height="2.20" fill="#2b3a86"/>
<text x="109.00" y="436.26" font-size="4.6" fill="#6f9fd8" textLength="21.00" lengthAdjust="spacingAndGlyphs">LINC00839</text>
<line x1="130.00" y1="429.20" x2="201.40" y2="429.20" stroke="#2b3a86" stroke-width="0.6"/>
<polyline points="132.40,428.40 133.30,429.20 132.40,430.00" fill="none" stroke="#2b3a86" stroke-width="0.35" opacity="0.85"/>
<polyline points="135.00,428.40 135.90,429.20 135.00,430.00" fill="none" stroke="#2b3a86" stroke-width="0.35" opacity="0.85"/>
<polyline points="137.60,428.40 138.50,429.20 137.60,430.00" fill="none" stroke="#2b3a86" stroke-width="0.35" opacity="0.85"/>
<polyline points="140.20,428.40 141.10,429.20 140.20,430.00" fill="none" stroke="#2b3a86" stroke-width="0.35" opacity="0.85"/>
<polyline points="142.80,428.40 143.70,429.20 142.80,430.00" fill="none" stroke="#2b3a86" stroke-width="0.35" opacity="0.85"/>
<polyline points="145.40,428.40 146.30,429.20 145.40,430.00" fill="none" stroke="#2b3a86" stroke-width="0.35" opacity="0.85"/>
<polyline points="148.00,428.40 148.90,429.20 148.00,430.00" fill="none" stroke="#2b3a86" stroke-width="0.35" opacity="0.85"/>
<polyline points="150.60,428.40 151.50,429.20 150.60,430.00" fill="none" stroke="#2b3a86" stroke-width="0.35" opacity="0.85"/>
<polyline points="153.20,428.40 154.10,429.20 153.20,430.00" fill="none" stroke="#2b3a86" stroke-width="0.35" opacity="0.85"/>
<polyline points="155.80,428.40 156.70,429.20 155.80,430.00" fill="none" stroke="#2b3a86" stroke-width="0.35" opacity="0.85"/>
<polyline points="158.40,428.40 159.30,429.20 158.40,430.00" fill="none" stroke="#2b3a86" stroke-width="0.35" opacity="0.85"/>
<polyline points="161.00,428.40 161.90,429.20 161.00,430.00" fill="none" stroke="#2b3a86" stroke-width="0.35" opacity="0.85"/>
<polyline points="163.60,428.40 164.50,429.20 163.60,430.00" fill="none" stroke="#2b3a86" stroke-width="0.35" opacity="0.85"/>
<polyline points="166.20,428.40 167.10,429.20 166.20,430.00" fill="none" stroke="#2b3a86" stroke-width="0.35" opacity="0.85"/>
<polyline points="168.80,428.40 169.70,429.20 168.80,430.00" fill="none" stroke="#2b3a86" stroke-width="0.35" opacity="0.85"/>
<polyline points="171.40,428.40 172.30,429.20 171.40,430.00" fill="none" stroke="#2b3a86" stroke-width="0.35" opacity="0.85"/>
<polyline points="174.00,428.40 174.90,429.20 174.00,430.00" fill="none" stroke="#2b3a86" stroke-width="0.35" opacity="0.85"/>
<polyline points="176.60,428.40 177.50,429.20 176.60,430.00" fill="none" stroke="#2b3a86" stroke-width="0.35" opacity="0.85"/>
<polyline points="179.20,428.40 180.10,429.20 179.20,430.00" fill="none" stroke="#2b3a86" stroke-width="0.35" opacity="0.85"/>
<polyline points="181.80,428.40 182.70,429.20 181.80,430.00" fill="none" stroke="#2b3a86" stroke-width="0.35" opacity="0.85"/>
<polyline points="184.40,428.40 185.30,429.20 184.40,430.00" fill="none" stroke="#2b3a86" stroke-width="0.35" opacity="0.85"/>
<polyline points="187.00,428.40 187.90,429.20 187.00,430.00" fill="none" stroke="#2b3a86" stroke-width="0.35" opacity="0.85"/>
<polyline points="189.60,428.40 190.50,429.20 189.60,430.00" fill="none" stroke="#2b3a86" stroke-width="0.35" opacity="0.85"/>
<polyline points="192.20,428.40 193.10,429.20 192.20,430.00" fill="none" stroke="#2b3a86" stroke-width="0.35" opacity="0.85"/>
<polyline points="194.80,428.40 195.70,429.20 194.80,430.00" fill="none" stroke="#2b3a86" stroke-width="0.35" opacity="0.85"/>
<polyline points="197.40,428.40 198.30,429.20 197.40,430.00" fill="none" stroke="#2b3a86" stroke-width="0.35" opacity="0.85"/>
<rect x="130.00" y="428.10" width="4.00" height="2.20" fill="#2b3a86"/>
<rect x="137.00" y="428.10" width="3.00" height="2.20" fill="#2b3a86"/>
<rect x="169.00" y="428.10" width="3.00" height="2.20" fill="#2b3a86"/>
<rect x="175.00" y="428.10" width="7.00" height="2.20" fill="#2b3a86"/>
<line x1="157.30" y1="428.10" x2="157.30" y2="430.30" stroke="#2b3a86" stroke-width="0.7"/>
<line x1="163.80" y1="428.10" x2="163.80" y2="430.30" stroke="#2b3a86" stroke-width="0.7"/>
<line x1="215.70" y1="428.10" x2="215.70" y2="430.30" stroke="#2b3a86" stroke-width="0.7"/>
<line x1="223.50" y1="429.20" x2="245.60" y2="429.20" stroke="#2b3a86" stroke-width="0.6"/>
<polyline points="225.90,428.40 226.80,429.20 225.90,430.00" fill="none" stroke="#2b3a86" stroke-width="0.35" opacity="0.85"/>
<polyline points="228.50,428.40 229.40,429.20 228.50,430.00" fill="none" stroke="#2b3a86" stroke-width="0.35" opacity="0.85"/>
<polyline points="231.10,428.40 232.00,429.20 231.10,430.00" fill="none" stroke="#2b3a86" stroke-width="0.35" opacity="0.85"/>
<polyline points="233.70,428.40 234.60,429.20 233.70,430.00" fill="none" stroke="#2b3a86" stroke-width="0.35" opacity="0.85"/>
<polyline points="236.30,428.40 237.20,429.20 236.30,430.00" fill="none" stroke="#2b3a86" stroke-width="0.35" opacity="0.85"/>
<polyline points="238.90,428.40 239.80,429.20 238.90,430.00" fill="none" stroke="#2b3a86" stroke-width="0.35" opacity="0.85"/>
<polyline points="241.50,428.40 242.40,429.20 241.50,430.00" fill="none" stroke="#2b3a86" stroke-width="0.35" opacity="0.85"/>
<rect x="231.00" y="428.10" width="3.00" height="2.20" fill="#2b3a86"/>
<rect x="240.00" y="428.10" width="3.00" height="2.20" fill="#2b3a86"/>
<line x1="252.00" y1="429.20" x2="258.60" y2="429.20" stroke="#2b3a86" stroke-width="0.6"/>
<polyline points="254.40,428.40 255.30,429.20 254.40,430.00" fill="none" stroke="#2b3a86" stroke-width="0.35" opacity="0.85"/>
<text x="130.00" y="435.56" font-size="4.6" fill="#e6b070" textLength="52.00" lengthAdjust="spacingAndGlyphs">ZNF37BP RP11YOAP1EIF3LP2</text>
<text x="182.00" y="435.56" font-size="4.6" fill="#333" textLength="16.80" lengthAdjust="spacingAndGlyphs">ZNF33B</text>
<text x="198.80" y="435.56" font-size="4.6" fill="#6f9fd8" textLength="19.50" lengthAdjust="spacingAndGlyphs">LINC00838</text>
<text x="221.00" y="432.94" font-size="4.0" fill="#6f9fd8" textLength="8.00" lengthAdjust="spacingAndGlyphs">LINC</text>
<text x="221.00" y="436.94" font-size="4.0" fill="#6f9fd8" textLength="8.00" lengthAdjust="spacingAndGlyphs">00.1</text>
<text x="235.20" y="435.56" font-size="4.6" fill="#e6b070" textLength="15.60" lengthAdjust="spacingAndGlyphs">CUBNP1</text>
<text x="252.00" y="441.96" font-size="4.6" fill="#e6b070" textLength="15.00" lengthAdjust="spacingAndGlyphs">BSL1P1</text>
<line x1="43.60" y1="449.30" x2="268.50" y2="449.30" stroke="#c46c84" stroke-width="0.9"/>
<line x1="43.60" y1="457.30" x2="268.50" y2="457.30" stroke="#c46c84" stroke-width="0.9"/>
<line x1="43.60" y1="465.50" x2="268.50" y2="465.50" stroke="#c46c84" stroke-width="0.9"/>
<line x1="43.60" y1="474.40" x2="268.50" y2="474.40" stroke="#a0aaa6" stroke-width="0.9"/>
<line x1="43.60" y1="482.60" x2="268.50" y2="482.60" stroke="#a0aaa6" stroke-width="0.9"/>
<polygon points="155.45,449.60 155.75,445.80 156.25,445.80 156.65,449.60" fill="#6e1a30"/>
<polygon points="155.45,457.60 155.75,453.80 156.25,453.80 156.65,457.60" fill="#6e1a30"/>
<polygon points="155.45,465.80 155.75,462.00 156.25,462.00 156.65,465.80" fill="#6e1a30"/>
<polygon points="155.45,474.70 155.75,470.90 156.25,470.90 156.65,474.70" fill="#1d5a3e"/>
<polygon points="155.45,482.90 155.75,479.10 156.25,479.10 156.65,482.90" fill="#1d5a3e"/>
<polygon points="202.95,449.60 203.25,443.80 203.75,443.80 204.15,449.60" fill="#6e1a30"/>
<polygon points="202.95,457.60 203.25,451.80 203.75,451.80 204.15,457.60" fill="#6e1a30"/>
<polygon points="202.95,465.80 203.25,460.00 203.75,460.00 204.15,465.80" fill="#6e1a30"/>
<polygon points="202.95,474.70 203.25,469.40 203.75,469.40 204.15,474.70" fill="#1d5a3e"/>
<polygon points="202.95,482.90 203.25,477.60 203.75,477.60 204.15,482.90" fill="#1d5a3e"/>
<text x="14.30" y="431.00" font-size="5" fill="#3b4a8c" textLength="27.30" lengthAdjust="spacingAndGlyphs">RefSeq Genes</text>
<text x="14.30" y="441.10" font-size="5" fill="#7cb25a" textLength="25.50" lengthAdjust="spacingAndGlyphs">eGSH region</text>
<text x="14.90" y="450.50" font-size="5" fill="#a8304c" textLength="25.90" lengthAdjust="spacingAndGlyphs">Donor 2 CD3</text>
<text x="14.90" y="458.50" font-size="5" fill="#a8304c" textLength="25.90" lengthAdjust="spacingAndGlyphs">Donor 2 CD4</text>
<text x="14.90" y="466.70" font-size="5" fill="#a8304c" textLength="25.90" lengthAdjust="spacingAndGlyphs">Donor 2 CD8</text>
<text x="14.90" y="475.60" font-size="5" fill="#3f6f58" textLength="25.90" lengthAdjust="spacingAndGlyphs">Corces, CD4</text>
<text x="14.90" y="483.80" font-size="5" fill="#3f6f58" textLength="25.90" lengthAdjust="spacingAndGlyphs">Corces, CD8</text>
<polyline points="14.30,444.80 12.30,444.80 12.30,467.00 14.30,467.00" fill="none" stroke="#b03552" stroke-width="0.7"/>
<polyline points="14.30,469.90 12.30,469.90 12.30,484.10 14.30,484.10" fill="none" stroke="#3f7a5e" stroke-width="0.7"/>
<text transform="translate(7.80,454.90) rotate(-90)" text-anchor="middle" font-size="6.2" fill="#b8405c" textLength="23.5" lengthAdjust="spacingAndGlyphs">Activated</text>
<text transform="translate(7.80,478.80) rotate(-90)" text-anchor="middle" font-size="6.2" fill="#4a6a5a" textLength="18.8" lengthAdjust="spacingAndGlyphs">Resting</text>
<text x="370.10" y="394.10" font-size="7.4" fill="#3a3a3a" textLength="22.60" lengthAdjust="spacingAndGlyphs" stroke="#3a3a3a" stroke-width="0.16">GSH 30</text>
<text x="276.30" y="399.60" font-size="5.6" fill="#2a2a2a" textLength="11.50" lengthAdjust="spacingAndGlyphs">chr8</text>
<linearGradient id="tg10" gradientUnits="userSpaceOnUse" x1="0" y1="404.70" x2="0" y2="419.00"><stop offset="0" stop-color="#d4d4d4"/><stop offset="1" stop-color="#c4c4c4"/></linearGradient>
<polygon points="276.30,419.00 417.20,404.70 418.80,404.70 506.60,419.00" fill="url(#tg10)"/>
<rect x="275.80" y="402.00" width="231.80" height="2.70" fill="#fff" rx="1"/>
<rect x="279.20" y="402.00" width="7.20" height="2.70" fill="#151515"/>
<rect x="295.00" y="402.00" width="10.50" height="2.70" fill="#151515"/>
<rect x="312.40" y="402.00" width="8.10" height="2.70" fill="#ffffff"/>
<line x1="312.90" y1="403.35" x2="320.00" y2="403.35" stroke="#777" stroke-width="0.9" stroke-dasharray="1.4,1.2"/>
<rect x="320.50" y="402.00" width="12.70" height="2.70" fill="#151515"/>
<rect x="333.20" y="402.00" width="5.80" height="2.70" fill="#ffffff"/>
<line x1="333.70" y1="403.35" x2="338.50" y2="403.35" stroke="#777" stroke-width="0.9" stroke-dasharray="1.4,1.2"/>
<rect x="351.70" y="402.00" width="3.30" height="2.70" fill="#151515"/>
<rect x="358.60" y="402.00" width="21.90" height="2.70" fill="#2e2e2e"/>
<line x1="359.10" y1="403.35" x2="380.00" y2="403.35" stroke="#e8e8e8" stroke-width="0.8" stroke-dasharray="1.2,1.6"/>
<rect x="380.50" y="402.00" width="20.30" height="2.70" fill="#151515"/>
<rect x="403.00" y="402.00" width="7.40" height="2.70" fill="#151515"/>
<rect x="412.80" y="402.00" width="8.40" height="2.70" fill="#2e2e2e"/>
<line x1="413.30" y1="403.35" x2="420.70" y2="403.35" stroke="#e8e8e8" stroke-width="0.8" stroke-dasharray="1.2,1.6"/>
<rect x="431.00" y="402.00" width="9.00" height="2.70" fill="#ffffff"/>
<line x1="431.50" y1="403.35" x2="439.50" y2="403.35" stroke="#777" stroke-width="0.9" stroke-dasharray="1.4,1.2"/>
<rect x="440.50" y="402.00" width="10.80" height="2.70" fill="#151515"/>
<rect x="453.70" y="402.00" width="8.30" height="2.70" fill="#151515"/>
<rect x="462.00" y="402.00" width="7.00" height="2.70" fill="#9a9a9a"/>
<rect x="475.30" y="402.00" width="8.40" height="2.70" fill="#ffffff"/>
<line x1="475.80" y1="403.35" x2="483.20" y2="403.35" stroke="#777" stroke-width="0.9" stroke-dasharray="1.4,1.2"/>
<rect x="489.80" y="402.00" width="7.20" height="2.70" fill="#151515"/>
<rect x="275.80" y="402.00" width="231.80" height="2.70" fill="none" stroke="#111" stroke-width="0.6" rx="1"/>
<rect x="341.90" y="401.60" width="9.20" height="3.50" fill="#fff"/>
<polygon points="341.90,402.00 345.90,403.35 341.90,404.70" fill="#52202c"/>
<polygon points="351.10,402.00 347.10,403.35 351.10,404.70" fill="#2a1a1e"/>
<rect x="416.40" y="400.80" width="3.2" height="5.10" fill="none" stroke="#e8607a" stroke-width="0.4" opacity="0.7"/>
<line x1="276.30" y1="419.00" x2="506.60" y2="419.00" stroke="#262626" stroke-width="1.3"/>
<line x1="276.30" y1="417.50" x2="276.30" y2="420.50" stroke="#2a2a2a" stroke-width="1.0"/>
<line x1="506.60" y1="417.50" x2="506.60" y2="420.50" stroke="#2a2a2a" stroke-width="1.0"/>
<polygon points="393.76,414.24 389.94,419.43 391.55,419.43 388.32,423.76 391.46,418.57 389.85,418.57" fill="#1a1012" stroke="#1a1012" stroke-width="0.85" stroke-linejoin="round"/>
<text x="355.00" y="424.43" font-size="4.8" fill="#1a1a1a" textLength="12.70" lengthAdjust="spacingAndGlyphs">200 kb</text>
<text x="438.20" y="423.93" font-size="4.8" fill="#1a1a1a" textLength="12.70" lengthAdjust="spacingAndGlyphs">200 kb</text>
<circle cx="266.7" cy="429.4" r="0.9" fill="#111"/>
<text x="265.00" y="433.94" font-size="4.0" fill="#6f9fd8" textLength="12.00" lengthAdjust="spacingAndGlyphs">LINC</text>
<text x="265.00" y="437.34" font-size="4.0" fill="#6f9fd8" textLength="14.70" lengthAdjust="spacingAndGlyphs">00.2014</text>
<line x1="392.30" y1="428.90" x2="392.30" y2="431.10" stroke="#6f9fd8" stroke-width="0.7"/>
<text x="384.50" y="436.26" font-size="4.6" fill="#6f9fd8" textLength="29.10" lengthAdjust="spacingAndGlyphs">RP11-255L12.1</text>
<circle cx="489.7" cy="430" r="0.9" fill="#111"/>
<text x="485.00" y="436.26" font-size="4.6" fill="#6f9fd8" textLength="15.60" lengthAdjust="spacingAndGlyphs">KRT8P4</text>
<rect x="277.00" y="438.35" width="211.90" height="1.90" fill="#4f9a2a"/>
<rect x="490.40" y="438.35" width="16.20" height="1.90" fill="#4f9a2a"/>
<line x1="277.00" y1="450.30" x2="506.60" y2="450.30" stroke="#c46c84" stroke-width="0.9"/>
<line x1="277.00" y1="458.60" x2="506.60" y2="458.60" stroke="#c46c84" stroke-width="0.9"/>
<line x1="277.00" y1="466.80" x2="506.60" y2="466.80" stroke="#c46c84" stroke-width="0.9"/>
<line x1="277.00" y1="475.80" x2="506.60" y2="475.80" stroke="#a0aaa6" stroke-width="0.9"/>
<line x1="277.00" y1="484.10" x2="506.60" y2="484.10" stroke="#a0aaa6" stroke-width="0.9"/>
<polygon points="389.95,450.60 390.25,448.80 390.75,448.80 391.15,450.60" fill="#6e1a30"/>
<polygon points="389.95,458.90 390.25,457.60 390.75,457.60 391.15,458.90" fill="#6e1a30"/>
<polygon points="389.95,467.10 390.25,465.80 390.75,465.80 391.15,467.10" fill="#6e1a30"/>
<polygon points="389.95,476.10 390.25,474.30 390.75,474.30 391.15,476.10" fill="#1d5a3e"/>
<polygon points="389.95,484.40 390.25,483.10 390.75,483.10 391.15,484.40" fill="#1d5a3e"/>
<polygon points="391.75,450.60 392.05,445.80 392.55,445.80 392.95,450.60" fill="#6e1a30"/>
<polygon points="391.75,458.90 392.05,454.60 392.55,454.60 392.95,458.90" fill="#6e1a30"/>
<polygon points="391.75,467.10 392.05,462.30 392.55,462.30 392.95,467.10" fill="#6e1a30"/>
<polygon points="391.75,476.10 392.05,470.80 392.55,470.80 392.95,476.10" fill="#1d5a3e"/>
<polygon points="391.75,484.40 392.05,480.60 392.55,480.60 392.95,484.40" fill="#1d5a3e"/>
<polygon points="392.95,450.60 393.25,448.30 393.75,448.30 394.15,450.60" fill="#6e1a30"/>
<polygon points="392.95,458.90 393.25,456.60 393.75,456.60 394.15,458.90" fill="#6e1a30"/>
<polygon points="392.95,467.10 393.25,464.80 393.75,464.80 394.15,467.10" fill="#6e1a30"/>
<polygon points="392.95,476.10 393.25,473.30 393.75,473.30 394.15,476.10" fill="#1d5a3e"/>
<polygon points="392.95,484.40 393.25,482.10 393.75,482.10 394.15,484.40" fill="#1d5a3e"/>
<polygon points="397.45,450.60 397.75,449.50 398.25,449.50 398.65,450.60" fill="#6e1a30"/>
<polygon points="397.45,458.90 397.75,457.80 398.25,457.80 398.65,458.90" fill="#6e1a30"/>
<polygon points="397.45,467.10 397.75,466.00 398.25,466.00 398.65,467.10" fill="#6e1a30"/>
<polygon points="397.45,476.10 397.75,475.00 398.25,475.00 398.65,476.10" fill="#1d5a3e"/>
<polygon points="397.45,484.40 397.75,483.30 398.25,483.30 398.65,484.40" fill="#1d5a3e"/>
<polygon points="432.45,450.60 432.75,449.50 433.25,449.50 433.65,450.60" fill="#6e1a30"/>
<polygon points="432.45,458.90 432.75,458.10 433.25,458.10 433.65,458.90" fill="#6e1a30"/>
<polygon points="432.45,467.10 432.75,466.00 433.25,466.00 433.65,467.10" fill="#6e1a30"/>
<polygon points="432.45,476.10 432.75,475.50 433.25,475.50 433.65,476.10" fill="#1d5a3e"/>
<polygon points="432.45,484.40 432.75,483.80 433.25,483.80 433.65,484.40" fill="#1d5a3e"/>
<polygon points="296.45,450.60 296.75,449.90 297.25,449.90 297.65,450.60" fill="#6e1a30"/>
<polygon points="296.45,458.90 296.75,458.20 297.25,458.20 297.65,458.90" fill="#6e1a30"/>
<polygon points="296.45,467.10 296.75,466.40 297.25,466.40 297.65,467.10" fill="#6e1a30"/>
<polygon points="296.45,476.10 296.75,475.40 297.25,475.40 297.65,476.10" fill="#1d5a3e"/>
<polygon points="296.45,484.40 296.75,483.70 297.25,483.70 297.65,484.40" fill="#1d5a3e"/>
<polygon points="386.45,476.10 386.75,474.80 387.25,474.80 387.65,476.10" fill="#1d5a3e"/>
<text x="3.80" y="13.92" font-size="12" fill="#111" font-weight="bold" textLength="8.40" lengthAdjust="spacingAndGlyphs">A</text>
<text x="3.90" y="507.62" font-size="12" fill="#111" font-weight="bold" textLength="6.70" lengthAdjust="spacingAndGlyphs">B</text>
<text x="3.90" y="571.32" font-size="12" fill="#111" font-weight="bold" textLength="8.00" lengthAdjust="spacingAndGlyphs">C</text>
<text x="32.50" y="506.42" font-size="5.6" fill="#333" font-style="italic" textLength="12.20" lengthAdjust="spacingAndGlyphs">chr7</text>
<text x="269.90" y="498.51" font-size="7.4" fill="#2a2a2a" textLength="18.70" lengthAdjust="spacingAndGlyphs" stroke="#2a2a2a" stroke-width="0.16">GSH 6</text>
<polygon points="48,520.6 469.2,506.2 470.8,506.2 497.2,520.6" fill="#c8c8c8"/>
<rect x="47.3" y="503.2" width="452.0" height="3.0" fill="#fff"/>
<rect x="47.50" y="503.20" width="6.10" height="3.00" fill="#9a9a9a"/>
<rect x="53.60" y="503.20" width="4.40" height="3.00" fill="#9a9a9a"/>
<rect x="66.60" y="503.20" width="20.20" height="3.00" fill="#141414"/>
<rect x="94.00" y="503.20" width="11.50" height="3.00" fill="#141414"/>
<rect x="118.50" y="503.20" width="10.10" height="3.00" fill="#4a4a4a"/>
<rect x="128.60" y="503.20" width="17.40" height="3.00" fill="#141414"/>
<rect x="151.60" y="503.20" width="17.40" height="3.00" fill="#141414"/>
<rect x="174.70" y="503.20" width="11.50" height="3.00" fill="#141414"/>
<rect x="189.00" y="503.20" width="11.00" height="3.00" fill="#141414"/>
<rect x="237.60" y="503.20" width="15.80" height="3.00" fill="#9a9a9a"/>
<rect x="266.40" y="503.20" width="27.30" height="3.00" fill="#141414"/>
<rect x="298.00" y="503.20" width="7.30" height="3.00" fill="#141414"/>
<rect x="311.00" y="503.20" width="29.00" height="3.00" fill="#141414"/>
<rect x="341.00" y="503.20" width="4.00" height="3.00" fill="#141414"/>
<rect x="353.00" y="503.20" width="21.00" height="3.00" fill="#141414"/>
<rect x="380.80" y="503.20" width="11.20" height="3.00" fill="#141414"/>
<rect x="398.70" y="503.20" width="9.80" height="3.00" fill="#141414"/>
<rect x="411.00" y="503.20" width="8.00" height="3.00" fill="#ffffff"/>
<line x1="411.50" y1="504.70" x2="418.50" y2="504.70" stroke="#777" stroke-width="1.0" stroke-dasharray="1.4,1.2"/>
<rect x="424.00" y="503.20" width="15.50" height="3.00" fill="#ffffff"/>
<line x1="424.50" y1="504.70" x2="439.00" y2="504.70" stroke="#777" stroke-width="1.0" stroke-dasharray="1.4,1.2"/>
<rect x="454.00" y="503.20" width="14.00" height="3.00" fill="#141414"/>
<rect x="468.00" y="503.20" width="4.00" height="3.00" fill="#ffffff"/>
<rect x="480.00" y="503.20" width="7.60" height="3.00" fill="#ffffff"/>
<line x1="480.50" y1="504.70" x2="487.10" y2="504.70" stroke="#777" stroke-width="1.0" stroke-dasharray="1.4,1.2"/>
<rect x="47.3" y="503.2" width="452.0" height="3.0" fill="none" stroke="#222" stroke-width="0.6" rx="1"/>
<polygon points="214.5,502.7 221.5,502.7 218,504.7" fill="#fff"/>
<polygon points="214.5,506.7 221.5,506.7 218,504.7" fill="#fff"/>
<polyline points="214.5,503.2 218,504.7 221.5,503.2" fill="none" stroke="#b03040" stroke-width="0.6"/>
<polyline points="214.5,506.2 218,504.7 221.5,506.2" fill="none" stroke="#b03040" stroke-width="0.6"/>
<rect x="468" y="502.9" width="4" height="3.6" fill="none" stroke="#e03040" stroke-width="0.7"/>
<line x1="48.00" y1="520.60" x2="497.20" y2="520.60" stroke="#2a2a2a" stroke-width="0.9"/>
<line x1="48.00" y1="519.00" x2="48.00" y2="521.00" stroke="#2a2a2a" stroke-width="0.8"/>
<line x1="94.80" y1="519.00" x2="94.80" y2="521.00" stroke="#2a2a2a" stroke-width="0.8"/>
<line x1="180.60" y1="519.00" x2="180.60" y2="521.00" stroke="#2a2a2a" stroke-width="0.8"/>
<line x1="265.70" y1="519.00" x2="265.70" y2="521.00" stroke="#2a2a2a" stroke-width="0.8"/>
<line x1="351.40" y1="519.00" x2="351.40" y2="521.00" stroke="#2a2a2a" stroke-width="0.8"/>
<line x1="437.00" y1="519.00" x2="437.00" y2="521.00" stroke="#2a2a2a" stroke-width="0.8"/>
<line x1="497.20" y1="519.00" x2="497.20" y2="521.00" stroke="#2a2a2a" stroke-width="0.8"/>
<text x="80.50" y="517.08" font-size="6.6" fill="#222" textLength="29.90" lengthAdjust="spacingAndGlyphs">149,500 kb</text>
<text x="251.00" y="517.08" font-size="6.6" fill="#222" textLength="30.00" lengthAdjust="spacingAndGlyphs">149,600 kb</text>
<text x="421.40" y="517.08" font-size="6.6" fill="#222" textLength="30.60" lengthAdjust="spacingAndGlyphs">149,700 kb</text>
<rect x="282.50" y="518.50" width="15.80" height="4.20" fill="#fff"/>
<text x="283.90" y="522.18" font-size="4.4" fill="#444" textLength="13.00" lengthAdjust="spacingAndGlyphs">263 kb</text>
<rect x="306.00" y="519.60" width="4.00" height="2.00" fill="#fff"/>
<path d="M305,525.6 L308.5,520.3000000000001 L307.5,521.0 L311,515.6" fill="none" stroke="#111" stroke-width="0.9"/>
<text x="6.50" y="533.18" font-size="6.6" fill="#4a5888" textLength="15.50" lengthAdjust="spacingAndGlyphs">Gene</text>
<text x="6.50" y="541.18" font-size="6.6" fill="#c85a70" textLength="37.70" lengthAdjust="spacingAndGlyphs">PCR product</text>
<text x="6.50" y="549.48" font-size="6.6" fill="#222" textLength="21.50" lengthAdjust="spacingAndGlyphs">Primers</text>
<line x1="48.00" y1="528.20" x2="91.40" y2="528.20" stroke="#2b3a86" stroke-width="0.6"/>
<polyline points="50.40,527.40 51.30,528.20 50.40,529.00" fill="none" stroke="#2b3a86" stroke-width="0.35" opacity="0.85"/>
<polyline points="53.00,527.40 53.90,528.20 53.00,529.00" fill="none" stroke="#2b3a86" stroke-width="0.35" opacity="0.85"/>
<polyline points="55.60,527.40 56.50,528.20 55.60,529.00" fill="none" stroke="#2b3a86" stroke-width="0.35" opacity="0.85"/>
<polyline points="58.20,527.40 59.10,528.20 58.20,529.00" fill="none" stroke="#2b3a86" stroke-width="0.35" opacity="0.85"/>
<polyline points="60.80,527.40 61.70,528.20 60.80,529.00" fill="none" stroke="#2b3a86" stroke-width="0.35" opacity="0.85"/>
<polyline points="63.40,527.40 64.30,528.20 63.40,529.00" fill="none" stroke="#2b3a86" stroke-width="0.35" opacity="0.85"/>
<polyline points="66.00,527.40 66.90,528.20 66.00,529.00" fill="none" stroke="#2b3a86" stroke-width="0.35" opacity="0.85"/>
<polyline points="68.60,527.40 69.50,528.20 68.60,529.00" fill="none" stroke="#2b3a86" stroke-width="0.35" opacity="0.85"/>
<polyline points="71.20,527.40 72.10,528.20 71.20,529.00" fill="none" stroke="#2b3a86" stroke-width="0.35" opacity="0.85"/>
<polyline points="73.80,527.40 74.70,528.20 73.80,529.00" fill="none" stroke="#2b3a86" stroke-width="0.35" opacity="0.85"/>
<polyline points="76.40,527.40 77.30,528.20 76.40,529.00" fill="none" stroke="#2b3a86" stroke-width="0.35" opacity="0.85"/>
<polyline points="79.00,527.40 79.90,528.20 79.00,529.00" fill="none" stroke="#2b3a86" stroke-width="0.35" opacity="0.85"/>
<polyline points="81.60,527.40 82.50,528.20 81.60,529.00" fill="none" stroke="#2b3a86" stroke-width="0.35" opacity="0.85"/>
<polyline points="84.20,527.40 85.10,528.20 84.20,529.00" fill="none" stroke="#2b3a86" stroke-width="0.35" opacity="0.85"/>
<polyline points="86.80,527.40 87.70,528.20 86.80,529.00" fill="none" stroke="#2b3a86" stroke-width="0.35" opacity="0.85"/>
<rect x="48.00" y="527.10" width="7.00" height="2.20" fill="#2b3a86"/>
<rect x="60.00" y="527.10" width="1.50" height="2.20" fill="#2b3a86"/>
<rect x="70.00" y="527.10" width="1.50" height="2.20" fill="#2b3a86"/>
<rect x="80.00" y="527.10" width="1.50" height="2.20" fill="#2b3a86"/>
<rect x="90.00" y="527.10" width="1.40" height="2.20" fill="#2b3a86"/>
<text x="65.00" y="537.08" font-size="6.6" fill="#2b3a86" textLength="23.30" lengthAdjust="spacingAndGlyphs">ZNF746</text>
<line x1="176.20" y1="528.40" x2="308.00" y2="528.40" stroke="#2b3a86" stroke-width="0.6"/>
<polyline points="178.60,527.60 179.50,528.40 178.60,529.20" fill="none" stroke="#2b3a86" stroke-width="0.35" opacity="0.85"/>
<polyline points="181.20,527.60 182.10,528.40 181.20,529.20" fill="none" stroke="#2b3a86" stroke-width="0.35" opacity="0.85"/>
<polyline points="183.80,527.60 184.70,528.40 183.80,529.20" fill="none" stroke="#2b3a86" stroke-width="0.35" opacity="0.85"/>
<polyline points="186.40,527.60 187.30,528.40 186.40,529.20" fill="none" stroke="#2b3a86" stroke-width="0.35" opacity="0.85"/>
<polyline points="189.00,527.60 189.90,528.40 189.00,529.20" fill="none" stroke="#2b3a86" stroke-width="0.35" opacity="0.85"/>
<polyline points="191.60,527.60 192.50,528.40 191.60,529.20" fill="none" stroke="#2b3a86" stroke-width="0.35" opacity="0.85"/>
<polyline points="194.20,527.60 195.10,528.40 194.20,529.20" fill="none" stroke="#2b3a86" stroke-width="0.35" opacity="0.85"/>
<polyline points="196.80,527.60 197.70,528.40 196.80,529.20" fill="none" stroke="#2b3a86" stroke-width="0.35" opacity="0.85"/>
<polyline points="199.40,527.60 200.30,528.40 199.40,529.20" fill="none" stroke="#2b3a86" stroke-width="0.35" opacity="0.85"/>
<polyline points="202.00,527.60 202.90,528.40 202.00,529.20" fill="none" stroke="#2b3a86" stroke-width="0.35" opacity="0.85"/>
<polyline points="204.60,527.60 205.50,528.40 204.60,529.20" fill="none" stroke="#2b3a86" stroke-width="0.35" opacity="0.85"/>
<polyline points="207.20,527.60 208.10,528.40 207.20,529.20" fill="none" stroke="#2b3a86" stroke-width="0.35" opacity="0.85"/>
<polyline points="209.80,527.60 210.70,528.40 209.80,529.20" fill="none" stroke="#2b3a86" stroke-width="0.35" opacity="0.85"/>
<polyline points="212.40,527.60 213.30,528.40 212.40,529.20" fill="none" stroke="#2b3a86" stroke-width="0.35" opacity="0.85"/>
<polyline points="215.00,527.60 215.90,528.40 215.00,529.20" fill="none" stroke="#2b3a86" stroke-width="0.35" opacity="0.85"/>
<polyline points="217.60,527.60 218.50,528.40 217.60,529.20" fill="none" stroke="#2b3a86" stroke-width="0.35" opacity="0.85"/>
<polyline points="220.20,527.60 221.10,528.40 220.20,529.20" fill="none" stroke="#2b3a86" stroke-width="0.35" opacity="0.85"/>
<polyline points="222.80,527.60 223.70,528.40 222.80,529.20" fill="none" stroke="#2b3a86" stroke-width="0.35" opacity="0.85"/>
<polyline points="225.40,527.60 226.30,528.40 225.40,529.20" fill="none" stroke="#2b3a86" stroke-width="0.35" opacity="0.85"/>
<polyline points="228.00,527.60 228.90,528.40 228.00,529.20" fill="none" stroke="#2b3a86" stroke-width="0.35" opacity="0.85"/>
<polyline points="230.60,527.60 231.50,528.40 230.60,529.20" fill="none" stroke="#2b3a86" stroke-width="0.35" opacity="0.85"/>
<polyline points="233.20,527.60 234.10,528.40 233.20,529.20" fill="none" stroke="#2b3a86" stroke-width="0.35" opacity="0.85"/>
<polyline points="235.80,527.60 236.70,528.40 235.80,529.20" fill="none" stroke="#2b3a86" stroke-width="0.35" opacity="0.85"/>
<polyline points="238.40,527.60 239.30,528.40 238.40,529.20" fill="none" stroke="#2b3a86" stroke-width="0.35" opacity="0.85"/>
<polyline points="241.00,527.60 241.90,528.40 241.00,529.20" fill="none" stroke="#2b3a86" stroke-width="0.35" opacity="0.85"/>
<polyline points="243.60,527.60 244.50,528.40 243.60,529.20" fill="none" stroke="#2b3a86" stroke-width="0.35" opacity="0.85"/>
<polyline points="246.20,527.60 247.10,528.40 246.20,529.20" fill="none" stroke="#2b3a86" stroke-width="0.35" opacity="0.85"/>
<polyline points="248.80,527.60 249.70,528.40 248.80,529.20" fill="none" stroke="#2b3a86" stroke-width="0.35" opacity="0.85"/>
<polyline points="251.40,527.60 252.30,528.40 251.40,529.20" fill="none" stroke="#2b3a86" stroke-width="0.35" opacity="0.85"/>
<polyline points="254.00,527.60 254.90,528.40 254.00,529.20" fill="none" stroke="#2b3a86" stroke-width="0.35" opacity="0.85"/>
<polyline points="256.60,527.60 257.50,528.40 256.60,529.20" fill="none" stroke="#2b3a86" stroke-width="0.35" opacity="0.85"/>
<polyline points="259.20,527.60 260.10,528.40 259.20,529.20" fill="none" stroke="#2b3a86" stroke-width="0.35" opacity="0.85"/>
<polyline points="261.80,527.60 262.70,528.40 261.80,529.20" fill="none" stroke="#2b3a86" stroke-width="0.35" opacity="0.85"/>
<polyline points="264.40,527.60 265.30,528.40 264.40,529.20" fill="none" stroke="#2b3a86" stroke-width="0.35" opacity="0.85"/>
<polyline points="267.00,527.60 267.90,528.40 267.00,529.20" fill="none" stroke="#2b3a86" stroke-width="0.35" opacity="0.85"/>
<polyline points="269.60,527.60 270.50,528.40 269.60,529.20" fill="none" stroke="#2b3a86" stroke-width="0.35" opacity="0.85"/>
<polyline points="272.20,527.60 273.10,528.40 272.20,529.20" fill="none" stroke="#2b3a86" stroke-width="0.35" opacity="0.85"/>
<polyline points="274.80,527.60 275.70,528.40 274.80,529.20" fill="none" stroke="#2b3a86" stroke-width="0.35" opacity="0.85"/>
<polyline points="277.40,527.60 278.30,528.40 277.40,529.20" fill="none" stroke="#2b3a86" stroke-width="0.35" opacity="0.85"/>
<polyline points="280.00,527.60 280.90,528.40 280.00,529.20" fill="none" stroke="#2b3a86" stroke-width="0.35" opacity="0.85"/>
<polyline points="282.60,527.60 283.50,528.40 282.60,529.20" fill="none" stroke="#2b3a86" stroke-width="0.35" opacity="0.85"/>
<polyline points="285.20,527.60 286.10,528.40 285.20,529.20" fill="none" stroke="#2b3a86" stroke-width="0.35" opacity="0.85"/>
<polyline points="287.80,527.60 288.70,528.40 287.80,529.20" fill="none" stroke="#2b3a86" stroke-width="0.35" opacity="0.85"/>
<polyline points="290.40,527.60 291.30,528.40 290.40,529.20" fill="none" stroke="#2b3a86" stroke-width="0.35" opacity="0.85"/>
<polyline points="293.00,527.60 293.90,528.40 293.00,529.20" fill="none" stroke="#2b3a86" stroke-width="0.35" opacity="0.85"/>
<polyline points="295.60,527.60 296.50,528.40 295.60,529.20" fill="none" stroke="#2b3a86" stroke-width="0.35" opacity="0.85"/>
<polyline points="298.20,527.60 299.10,528.40 298.20,529.20" fill="none" stroke="#2b3a86" stroke-width="0.35" opacity="0.85"/>
<polyline points="300.80,527.60 301.70,528.40 300.80,529.20" fill="none" stroke="#2b3a86" stroke-width="0.35" opacity="0.85"/>
<polyline points="303.40,527.60 304.30,528.40 303.40,529.20" fill="none" stroke="#2b3a86" stroke-width="0.35" opacity="0.85"/>
<rect x="176.20" y="527.30" width="3.80" height="2.20" fill="#2b3a86"/>
<text x="230.00" y="536.58" font-size="6.6" fill="#2b3a86" textLength="29.90" lengthAdjust="spacingAndGlyphs">ZNF767P</text>
<line x1="461.60" y1="528.40" x2="496.70" y2="528.40" stroke="#2b3a86" stroke-width="0.6"/>
<polyline points="464.00,527.60 464.90,528.40 464.00,529.20" fill="none" stroke="#2b3a86" stroke-width="0.35" opacity="0.85"/>
<polyline points="466.60,527.60 467.50,528.40 466.60,529.20" fill="none" stroke="#2b3a86" stroke-width="0.35" opacity="0.85"/>
<polyline points="469.20,527.60 470.10,528.40 469.20,529.20" fill="none" stroke="#2b3a86" stroke-width="0.35" opacity="0.85"/>
<polyline points="471.80,527.60 472.70,528.40 471.80,529.20" fill="none" stroke="#2b3a86" stroke-width="0.35" opacity="0.85"/>
<polyline points="474.40,527.60 475.30,528.40 474.40,529.20" fill="none" stroke="#2b3a86" stroke-width="0.35" opacity="0.85"/>
<polyline points="477.00,527.60 477.90,528.40 477.00,529.20" fill="none" stroke="#2b3a86" stroke-width="0.35" opacity="0.85"/>
<polyline points="479.60,527.60 480.50,528.40 479.60,529.20" fill="none" stroke="#2b3a86" stroke-width="0.35" opacity="0.85"/>
<polyline points="482.20,527.60 483.10,528.40 482.20,529.20" fill="none" stroke="#2b3a86" stroke-width="0.35" opacity="0.85"/>
<polyline points="484.80,527.60 485.70,528.40 484.80,529.20" fill="none" stroke="#2b3a86" stroke-width="0.35" opacity="0.85"/>
<polyline points="487.40,527.60 488.30,528.40 487.40,529.20" fill="none" stroke="#2b3a86" stroke-width="0.35" opacity="0.85"/>
<polyline points="490.00,527.60 490.90,528.40 490.00,529.20" fill="none" stroke="#2b3a86" stroke-width="0.35" opacity="0.85"/>
<polyline points="492.60,527.60 493.50,528.40 492.60,529.20" fill="none" stroke="#2b3a86" stroke-width="0.35" opacity="0.85"/>
<rect x="461.60" y="527.40" width="0.80" height="2.00" fill="#2b3a86"/>
<rect x="470.00" y="527.40" width="1.50" height="2.00" fill="#2b3a86"/>
<rect x="472.50" y="527.40" width="1.50" height="2.00" fill="#2b3a86"/>
<rect x="475.00" y="527.40" width="1.50" height="2.00" fill="#2b3a86"/>
<rect x="477.50" y="527.40" width="1.50" height="2.00" fill="#2b3a86"/>
<rect x="480.00" y="527.40" width="1.50" height="2.00" fill="#2b3a86"/>
<rect x="486.00" y="527.40" width="1.50" height="2.00" fill="#2b3a86"/>
<rect x="488.50" y="527.40" width="1.50" height="2.00" fill="#2b3a86"/>
<rect x="491.00" y="527.40" width="1.50" height="2.00" fill="#2b3a86"/>
<polygon points="494.5,526.8 497.2,528.4 494.5,530" fill="#2b3a86"/>
<text x="475.40" y="536.58" font-size="6.6" fill="#2b3a86" textLength="20.00" lengthAdjust="spacingAndGlyphs">KRBA1</text>
<rect x="50.90" y="538.80" width="0.70" height="1.20" fill="#b04050"/>
<rect x="55.70" y="538.40" width="1.10" height="2.00" fill="#901830"/>
<rect x="185.80" y="538.40" width="9.20" height="2.10" fill="#a01830"/>
<rect x="478.10" y="538.80" width="0.80" height="1.30" fill="#b02040"/>
<text x="36.40" y="549.48" font-size="6.6" fill="#222" textLength="36.30" lengthAdjust="spacingAndGlyphs">F3/R3 F1/R1</text>
<text x="180.60" y="549.19" font-size="7.2" fill="#222" textLength="20.00" lengthAdjust="spacingAndGlyphs">F2/R2</text>
<text x="472.00" y="547.75" font-size="6.8" fill="#222" textLength="17.40" lengthAdjust="spacingAndGlyphs">F2/R2</text>
<line x1="46.50" y1="572.20" x2="46.50" y2="671.20" stroke="#1a1a1a" stroke-width="1.0"/>
<line x1="44.10" y1="671.20" x2="46.50" y2="671.20" stroke="#222" stroke-width="0.8"/>
<text x="37.65" y="673.50" font-size="6.4" fill="#333" textLength="3.65" lengthAdjust="spacingAndGlyphs">0</text>
<line x1="44.10" y1="651.70" x2="46.50" y2="651.70" stroke="#222" stroke-width="0.8"/>
<text x="37.65" y="654.00" font-size="6.4" fill="#333" textLength="3.65" lengthAdjust="spacingAndGlyphs">5</text>
<line x1="44.10" y1="632.20" x2="46.50" y2="632.20" stroke="#222" stroke-width="0.8"/>
<text x="34.00" y="634.50" font-size="6.4" fill="#333" textLength="7.30" lengthAdjust="spacingAndGlyphs">10</text>
<line x1="44.10" y1="612.70" x2="46.50" y2="612.70" stroke="#222" stroke-width="0.8"/>
<text x="34.00" y="615.00" font-size="6.4" fill="#333" textLength="7.30" lengthAdjust="spacingAndGlyphs">15</text>
<line x1="44.10" y1="593.20" x2="46.50" y2="593.20" stroke="#222" stroke-width="0.8"/>
<text x="34.00" y="595.50" font-size="6.4" fill="#333" textLength="7.30" lengthAdjust="spacingAndGlyphs">20</text>
<line x1="44.10" y1="573.70" x2="46.50" y2="573.70" stroke="#222" stroke-width="0.8"/>
<text x="34.00" y="576.00" font-size="6.4" fill="#333" textLength="7.30" lengthAdjust="spacingAndGlyphs">25</text>
<line x1="46.50" y1="671.20" x2="216.70" y2="671.20" stroke="#222" stroke-width="1.0"/>
<line x1="49" y1="596.8" x2="214" y2="596.8" stroke="#111" stroke-width="1.35" stroke-dasharray="2.2,1.9"/>
<rect x="50.00" y="605.68" width="3.80" height="65.52" fill="#0c0c0c"/>
<line x1="50.90" y1="605.68" x2="52.90" y2="605.68" stroke="#0c0c0c" stroke-width="0.6"/>
<rect x="57.30" y="605.68" width="3.80" height="65.52" fill="#3a1a4c"/>
<line x1="59.20" y1="605.68" x2="59.20" y2="603.73" stroke="#3a1a4c" stroke-width="0.6"/>
<line x1="58.20" y1="603.73" x2="60.20" y2="603.73" stroke="#3a1a4c" stroke-width="0.6"/>
<rect x="64.50" y="605.29" width="3.80" height="65.91" fill="#991b2e"/>
<line x1="65.40" y1="605.29" x2="67.40" y2="605.29" stroke="#991b2e" stroke-width="0.6"/>
<rect x="71.50" y="605.68" width="4.40" height="65.52" fill="#bdbdbd"/>
<line x1="72.70" y1="605.68" x2="74.70" y2="605.68" stroke="#999" stroke-width="0.6"/>
<rect x="84.20" y="608.61" width="3.80" height="62.60" fill="#0c0c0c"/>
<line x1="85.10" y1="608.61" x2="87.10" y2="608.61" stroke="#0c0c0c" stroke-width="0.6"/>
<rect x="91.50" y="610.75" width="3.80" height="60.45" fill="#3a1a4c"/>
<line x1="92.40" y1="610.75" x2="94.40" y2="610.75" stroke="#3a1a4c" stroke-width="0.6"/>
<rect x="98.80" y="610.75" width="3.80" height="60.45" fill="#991b2e"/>
<line x1="99.70" y1="610.75" x2="101.70" y2="610.75" stroke="#991b2e" stroke-width="0.6"/>
<rect x="106.10" y="611.14" width="4.40" height="60.06" fill="#bdbdbd"/>
<line x1="107.30" y1="611.14" x2="109.30" y2="611.14" stroke="#999" stroke-width="0.6"/>
<rect x="118.70" y="613.68" width="3.80" height="57.52" fill="#0c0c0c"/>
<line x1="119.60" y1="613.68" x2="121.60" y2="613.68" stroke="#0c0c0c" stroke-width="0.6"/>
<rect x="126.00" y="616.41" width="3.80" height="54.79" fill="#3a1a4c"/>
<line x1="126.90" y1="616.41" x2="128.90" y2="616.41" stroke="#3a1a4c" stroke-width="0.6"/>
<rect x="133.20" y="615.04" width="3.80" height="56.16" fill="#991b2e"/>
<line x1="134.10" y1="615.04" x2="136.10" y2="615.04" stroke="#991b2e" stroke-width="0.6"/>
<rect x="140.40" y="614.07" width="4.40" height="57.13" fill="#bdbdbd"/>
<line x1="141.60" y1="614.07" x2="143.60" y2="614.07" stroke="#999" stroke-width="0.6"/>
<rect x="153.30" y="601.20" width="3.80" height="70.00" fill="#0c0c0c"/>
<line x1="154.20" y1="601.20" x2="156.20" y2="601.20" stroke="#0c0c0c" stroke-width="0.6"/>
<rect x="160.50" y="599.25" width="3.80" height="71.96" fill="#3a1a4c"/>
<line x1="162.40" y1="599.25" x2="162.40" y2="597.69" stroke="#3a1a4c" stroke-width="0.6"/>
<line x1="161.40" y1="597.69" x2="163.40" y2="597.69" stroke="#3a1a4c" stroke-width="0.6"/>
<rect x="167.70" y="593.98" width="3.80" height="77.22" fill="#991b2e"/>
<line x1="169.60" y1="593.98" x2="169.60" y2="589.69" stroke="#991b2e" stroke-width="0.6"/>
<line x1="168.60" y1="589.69" x2="170.60" y2="589.69" stroke="#991b2e" stroke-width="0.6"/>
<rect x="174.90" y="599.83" width="4.40" height="71.37" fill="#bdbdbd"/>
<line x1="176.10" y1="599.83" x2="178.10" y2="599.83" stroke="#999" stroke-width="0.6"/>
<rect x="187.30" y="590.47" width="3.80" height="80.73" fill="#0c0c0c"/>
<line x1="189.20" y1="590.47" x2="189.20" y2="584.62" stroke="#0c0c0c" stroke-width="0.6"/>
<line x1="188.20" y1="584.62" x2="190.20" y2="584.62" stroke="#0c0c0c" stroke-width="0.6"/>
<rect x="195.10" y="644.49" width="3.80" height="26.72" fill="#3a1a4c"/>
<line x1="197.00" y1="644.49" x2="197.00" y2="638.25" stroke="#3a1a4c" stroke-width="0.6"/>
<line x1="196.00" y1="638.25" x2="198.00" y2="638.25" stroke="#3a1a4c" stroke-width="0.6"/>
<rect x="202.30" y="646.63" width="3.80" height="24.57" fill="#991b2e"/>
<line x1="203.20" y1="646.63" x2="205.20" y2="646.63" stroke="#991b2e" stroke-width="0.6"/>
<rect x="209.50" y="646.44" width="4.40" height="24.76" fill="#bdbdbd"/>
<line x1="210.70" y1="646.44" x2="212.70" y2="646.44" stroke="#999" stroke-width="0.6"/>
<line x1="62.90" y1="671.20" x2="62.90" y2="673.20" stroke="#222" stroke-width="0.8"/>
<line x1="97.10" y1="671.20" x2="97.10" y2="673.20" stroke="#222" stroke-width="0.8"/>
<line x1="131.50" y1="671.20" x2="131.50" y2="673.20" stroke="#222" stroke-width="0.8"/>
<line x1="165.90" y1="671.20" x2="165.90" y2="673.20" stroke="#222" stroke-width="0.8"/>
<line x1="200.40" y1="671.20" x2="200.40" y2="673.20" stroke="#222" stroke-width="0.8"/>
<line x1="159.00" y1="583.00" x2="169.10" y2="583.00" stroke="#111" stroke-width="0.8"/>
<text x="161.95" y="582.40" font-size="9" fill="#111" textLength="4.20" lengthAdjust="spacingAndGlyphs">*</text>
<text x="125.90" y="565.97" font-size="8.8" fill="#222" textLength="11.50" lengthAdjust="spacingAndGlyphs">D0</text>
<rect x="219.00" y="577.30" width="3.40" height="3.40" fill="#0c0c0c"/>
<text x="224.50" y="581.66" font-size="7.4" fill="#222" textLength="8.10" lengthAdjust="spacingAndGlyphs">UT</text>
<rect x="219.00" y="587.00" width="3.40" height="3.40" fill="#3a1a4c"/>
<text x="224.50" y="591.36" font-size="7.4" fill="#222" textLength="17.30" lengthAdjust="spacingAndGlyphs">TRAC</text>
<rect x="219.00" y="596.60" width="3.40" height="3.40" fill="#991b2e"/>
<text x="224.50" y="600.96" font-size="7.4" fill="#222" textLength="14.40" lengthAdjust="spacingAndGlyphs">GSH6</text>
<rect x="219.00" y="606.10" width="3.40" height="3.40" fill="#bdbdbd"/>
<text x="224.50" y="610.46" font-size="7.4" fill="#222" textLength="30.60" lengthAdjust="spacingAndGlyphs">GSH6+C1</text>
<text transform="translate(65.50,680.50) rotate(-45)" text-anchor="end" font-size="6.2" fill="#222">KRBA1 F2/R2</text>
<text transform="translate(99.80,680.50) rotate(-45)" text-anchor="end" font-size="6.2" fill="#222">ZNF746 F1/R1</text>
<text transform="translate(134.20,680.50) rotate(-45)" text-anchor="end" font-size="6.2" fill="#222">ZNF746 F3/R3</text>
<text transform="translate(168.70,680.50) rotate(-45)" text-anchor="end" font-size="6.2" fill="#222">ZNF767P F2/R2</text>
<text transform="translate(203.00,680.50) rotate(-45)" text-anchor="end" font-size="6.2" fill="#222">CAR</text>
<text transform="translate(27.8,621.2) rotate(-90)" text-anchor="middle" font-size="6.8" fill="#222">ΔCt</text>
<line x1="291.50" y1="571.75" x2="291.50" y2="670.50" stroke="#1a1a1a" stroke-width="1.0"/>
<line x1="289.10" y1="670.50" x2="291.50" y2="670.50" stroke="#222" stroke-width="0.8"/>
<text x="282.65" y="672.80" font-size="6.4" fill="#333" textLength="3.65" lengthAdjust="spacingAndGlyphs">0</text>
<line x1="289.10" y1="651.05" x2="291.50" y2="651.05" stroke="#222" stroke-width="0.8"/>
<text x="282.65" y="653.35" font-size="6.4" fill="#333" textLength="3.65" lengthAdjust="spacingAndGlyphs">5</text>
<line x1="289.10" y1="631.60" x2="291.50" y2="631.60" stroke="#222" stroke-width="0.8"/>
<text x="279.00" y="633.90" font-size="6.4" fill="#333" textLength="7.30" lengthAdjust="spacingAndGlyphs">10</text>
<line x1="289.10" y1="612.15" x2="291.50" y2="612.15" stroke="#222" stroke-width="0.8"/>
<text x="279.00" y="614.45" font-size="6.4" fill="#333" textLength="7.30" lengthAdjust="spacingAndGlyphs">15</text>
<line x1="289.10" y1="592.70" x2="291.50" y2="592.70" stroke="#222" stroke-width="0.8"/>
<text x="279.00" y="595.00" font-size="6.4" fill="#333" textLength="7.30" lengthAdjust="spacingAndGlyphs">20</text>
<line x1="289.10" y1="573.25" x2="291.50" y2="573.25" stroke="#222" stroke-width="0.8"/>
<text x="279.00" y="575.55" font-size="6.4" fill="#333" textLength="7.30" lengthAdjust="spacingAndGlyphs">25</text>
<line x1="291.50" y1="670.50" x2="461.70" y2="670.50" stroke="#222" stroke-width="1.0"/>
<line x1="293.8" y1="596.7" x2="458" y2="596.7" stroke="#111" stroke-width="1.35" stroke-dasharray="2.2,1.9"/>
<rect x="295.00" y="604.56" width="3.80" height="65.94" fill="#0c0c0c"/>
<line x1="295.90" y1="604.56" x2="297.90" y2="604.56" stroke="#0c0c0c" stroke-width="0.6"/>
<rect x="302.00" y="604.56" width="3.80" height="65.94" fill="#3a1a4c"/>
<line x1="303.90" y1="604.56" x2="303.90" y2="602.62" stroke="#3a1a4c" stroke-width="0.6"/>
<line x1="302.90" y1="602.62" x2="304.90" y2="602.62" stroke="#3a1a4c" stroke-width="0.6"/>
<rect x="309.40" y="603.59" width="3.80" height="66.91" fill="#991b2e"/>
<line x1="310.30" y1="603.59" x2="312.30" y2="603.59" stroke="#991b2e" stroke-width="0.6"/>
<rect x="317.10" y="597.76" width="4.40" height="72.74" fill="#bdbdbd"/>
<line x1="318.30" y1="597.76" x2="320.30" y2="597.76" stroke="#999" stroke-width="0.6"/>
<rect x="329.60" y="607.48" width="3.80" height="63.02" fill="#0c0c0c"/>
<line x1="330.50" y1="607.48" x2="332.50" y2="607.48" stroke="#0c0c0c" stroke-width="0.6"/>
<rect x="336.60" y="610.01" width="3.80" height="60.49" fill="#3a1a4c"/>
<line x1="337.50" y1="610.01" x2="339.50" y2="610.01" stroke="#3a1a4c" stroke-width="0.6"/>
<rect x="343.90" y="609.43" width="3.80" height="61.07" fill="#991b2e"/>
<line x1="344.80" y1="609.43" x2="346.80" y2="609.43" stroke="#991b2e" stroke-width="0.6"/>
<rect x="350.90" y="599.31" width="4.40" height="71.19" fill="#bdbdbd"/>
<line x1="352.10" y1="599.31" x2="354.10" y2="599.31" stroke="#999" stroke-width="0.6"/>
<rect x="363.90" y="613.32" width="3.80" height="57.18" fill="#0c0c0c"/>
<line x1="364.80" y1="613.32" x2="366.80" y2="613.32" stroke="#0c0c0c" stroke-width="0.6"/>
<rect x="371.20" y="615.26" width="3.80" height="55.24" fill="#3a1a4c"/>
<line x1="372.10" y1="615.26" x2="374.10" y2="615.26" stroke="#3a1a4c" stroke-width="0.6"/>
<rect x="378.70" y="614.87" width="3.80" height="55.63" fill="#991b2e"/>
<line x1="379.60" y1="614.87" x2="381.60" y2="614.87" stroke="#991b2e" stroke-width="0.6"/>
<rect x="386.00" y="610.59" width="4.40" height="59.91" fill="#bdbdbd"/>
<line x1="387.20" y1="610.59" x2="389.20" y2="610.59" stroke="#999" stroke-width="0.6"/>
<rect x="398.30" y="600.60" width="3.80" height="69.90" fill="#0c0c0c"/>
<line x1="399.20" y1="600.60" x2="401.20" y2="600.60" stroke="#0c0c0c" stroke-width="0.6"/>
<rect x="406.00" y="596.78" width="3.80" height="73.72" fill="#3a1a4c"/>
<line x1="407.90" y1="596.78" x2="407.90" y2="595.62" stroke="#3a1a4c" stroke-width="0.6"/>
<line x1="406.90" y1="595.62" x2="408.90" y2="595.62" stroke="#3a1a4c" stroke-width="0.6"/>
<rect x="413.30" y="590.99" width="3.80" height="79.51" fill="#991b2e"/>
<line x1="415.20" y1="590.99" x2="415.20" y2="586.71" stroke="#991b2e" stroke-width="0.6"/>
<line x1="414.20" y1="586.71" x2="416.20" y2="586.71" stroke="#991b2e" stroke-width="0.6"/>
<rect x="420.50" y="598.26" width="4.40" height="72.24" fill="#bdbdbd"/>
<line x1="421.70" y1="598.26" x2="423.70" y2="598.26" stroke="#999" stroke-width="0.6"/>
<rect x="432.90" y="590.21" width="3.80" height="80.29" fill="#0c0c0c"/>
<line x1="434.80" y1="590.21" x2="434.80" y2="584.38" stroke="#0c0c0c" stroke-width="0.6"/>
<line x1="433.80" y1="584.38" x2="435.80" y2="584.38" stroke="#0c0c0c" stroke-width="0.6"/>
<rect x="440.70" y="640.70" width="3.80" height="29.80" fill="#3a1a4c"/>
<line x1="441.60" y1="640.70" x2="443.60" y2="640.70" stroke="#3a1a4c" stroke-width="0.6"/>
<rect x="447.30" y="643.00" width="3.80" height="27.50" fill="#991b2e"/>
<line x1="448.20" y1="643.00" x2="450.20" y2="643.00" stroke="#991b2e" stroke-width="0.6"/>
<rect x="454.20" y="644.44" width="4.40" height="26.06" fill="#bdbdbd"/>
<line x1="455.40" y1="644.44" x2="457.40" y2="644.44" stroke="#999" stroke-width="0.6"/>
<line x1="307.70" y1="670.50" x2="307.70" y2="672.50" stroke="#222" stroke-width="0.8"/>
<line x1="342.80" y1="670.50" x2="342.80" y2="672.50" stroke="#222" stroke-width="0.8"/>
<line x1="377.10" y1="670.50" x2="377.10" y2="672.50" stroke="#222" stroke-width="0.8"/>
<line x1="411.50" y1="670.50" x2="411.50" y2="672.50" stroke="#222" stroke-width="0.8"/>
<line x1="445.80" y1="670.50" x2="445.80" y2="672.50" stroke="#222" stroke-width="0.8"/>
<line x1="302.00" y1="582.30" x2="319.20" y2="582.30" stroke="#111" stroke-width="0.8"/>
<text x="304.30" y="581.70" font-size="9" fill="#111" textLength="12.60" lengthAdjust="spacingAndGlyphs">***</text>
<line x1="337.90" y1="582.30" x2="354.00" y2="582.30" stroke="#111" stroke-width="0.8"/>
<text x="337.55" y="581.70" font-size="9" fill="#111" textLength="16.80" lengthAdjust="spacingAndGlyphs">****</text>
<line x1="371.20" y1="582.30" x2="387.80" y2="582.30" stroke="#111" stroke-width="0.8"/>
<text x="377.40" y="581.70" font-size="9" fill="#111" textLength="4.20" lengthAdjust="spacingAndGlyphs">*</text>
<line x1="398.00" y1="583.00" x2="406.60" y2="583.00" stroke="#111" stroke-width="0.8"/>
<text x="400.20" y="582.40" font-size="9" fill="#111" textLength="4.20" lengthAdjust="spacingAndGlyphs">*</text>
<line x1="407.50" y1="583.00" x2="415.60" y2="583.00" stroke="#111" stroke-width="0.8"/>
<text x="407.35" y="582.40" font-size="9" fill="#111" textLength="8.40" lengthAdjust="spacingAndGlyphs">**</text>
<text x="371.70" y="566.27" font-size="8.8" fill="#222" textLength="10.30" lengthAdjust="spacingAndGlyphs">D7</text>
<rect x="468.90" y="577.80" width="3.40" height="3.40" fill="#0c0c0c"/>
<text x="474.40" y="582.16" font-size="7.4" fill="#222" textLength="8.10" lengthAdjust="spacingAndGlyphs">UT</text>
<rect x="468.90" y="587.00" width="3.40" height="3.40" fill="#3a1a4c"/>
<text x="474.40" y="591.36" font-size="7.4" fill="#222" textLength="17.30" lengthAdjust="spacingAndGlyphs">TRAC</text>
<rect x="468.90" y="597.10" width="3.40" height="3.40" fill="#991b2e"/>
<text x="474.40" y="601.46" font-size="7.4" fill="#222" textLength="14.40" lengthAdjust="spacingAndGlyphs">GSH6</text>
<rect x="468.90" y="606.10" width="3.40" height="3.40" fill="#bdbdbd"/>
<text x="474.40" y="610.46" font-size="7.4" fill="#222" textLength="30.60" lengthAdjust="spacingAndGlyphs">GSH6+C1</text>
<text transform="translate(310.50,679.80) rotate(-45)" text-anchor="end" font-size="6.2" fill="#222">KRBA1 F2/R2</text>
<text transform="translate(345.60,679.80) rotate(-45)" text-anchor="end" font-size="6.2" fill="#222">ZNF746 F1/R1</text>
<text transform="translate(379.90,679.80) rotate(-45)" text-anchor="end" font-size="6.2" fill="#222">ZNF746 F3/R3</text>
<text transform="translate(414.30,679.80) rotate(-45)" text-anchor="end" font-size="6.2" fill="#222">ZNF767P F2/R2</text>
<text transform="translate(448.60,679.80) rotate(-45)" text-anchor="end" font-size="6.2" fill="#222">CAR</text>
<text transform="translate(269.5,618.6) rotate(-90)" text-anchor="middle" font-size="6.8" fill="#222">ΔCt</text>
<rect x="0.5" y="0.5" width="519" height="718" fill="none" stroke="#555" stroke-width="1.1"/>
</svg>
</body></html>
